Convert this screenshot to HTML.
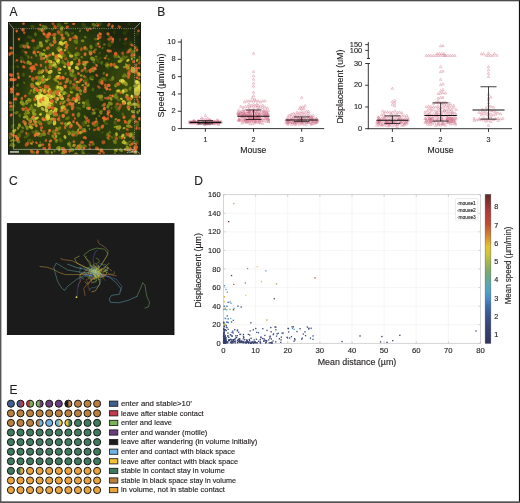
<!DOCTYPE html>
<html><head><meta charset="utf-8"><style>
html,body{margin:0;padding:0;background:#fff;}
svg{display:block;font-family:"Liberation Sans",sans-serif;will-change:transform;}
</style></head><body>
<svg width="520" height="503" viewBox="0 0 520 503">
<style>text{stroke:#231f20;stroke-width:0.14px;}</style>
<rect width="520" height="503" fill="#fff"/>
<defs><filter id="blurA" x="-5%" y="-5%" width="110%" height="110%"><feGaussianBlur stdDeviation="4"/></filter><filter id="blurA2"><feGaussianBlur stdDeviation="0.6"/></filter><filter id="blurA3"><feGaussianBlur stdDeviation="0.45"/></filter><clipPath id="clipA"><rect x="8" y="22" width="133" height="132.6"/></clipPath></defs>
<g clip-path="url(#clipA)">
<rect x="8" y="22" width="133" height="132.6" fill="#181c08"/>
<g filter="url(#blurA)">
<rect x="7.0" y="21.0" width="10.3" height="18.6" fill="rgb(26,35,8)"/>
<rect x="15.3" y="21.0" width="10.3" height="18.6" fill="rgb(27,37,8)"/>
<rect x="23.6" y="21.0" width="10.3" height="18.6" fill="rgb(31,42,8)"/>
<rect x="31.9" y="21.0" width="10.3" height="18.6" fill="rgb(34,48,8)"/>
<rect x="40.2" y="21.0" width="10.3" height="18.6" fill="rgb(37,51,8)"/>
<rect x="48.6" y="21.0" width="10.3" height="18.6" fill="rgb(38,53,8)"/>
<rect x="56.9" y="21.0" width="10.3" height="18.6" fill="rgb(38,53,8)"/>
<rect x="65.2" y="21.0" width="10.3" height="18.6" fill="rgb(37,51,8)"/>
<rect x="73.5" y="21.0" width="10.3" height="18.6" fill="rgb(36,50,8)"/>
<rect x="81.8" y="21.0" width="10.3" height="18.6" fill="rgb(34,48,8)"/>
<rect x="90.1" y="21.0" width="10.3" height="18.6" fill="rgb(34,48,8)"/>
<rect x="98.4" y="21.0" width="10.3" height="18.6" fill="rgb(33,45,8)"/>
<rect x="106.8" y="21.0" width="10.3" height="18.6" fill="rgb(29,40,8)"/>
<rect x="115.1" y="21.0" width="10.3" height="18.6" fill="rgb(28,38,8)"/>
<rect x="123.4" y="21.0" width="10.3" height="18.6" fill="rgb(28,38,8)"/>
<rect x="131.7" y="21.0" width="10.3" height="18.6" fill="rgb(27,37,8)"/>
<rect x="7.0" y="37.6" width="10.3" height="18.6" fill="rgb(27,37,8)"/>
<rect x="15.3" y="37.6" width="10.3" height="18.6" fill="rgb(29,40,8)"/>
<rect x="23.6" y="37.6" width="10.3" height="18.6" fill="rgb(36,50,8)"/>
<rect x="31.9" y="37.6" width="10.3" height="18.6" fill="rgb(43,58,9)"/>
<rect x="40.2" y="37.6" width="10.3" height="18.6" fill="rgb(49,66,9)"/>
<rect x="48.6" y="37.6" width="10.3" height="18.6" fill="rgb(53,69,10)"/>
<rect x="56.9" y="37.6" width="10.3" height="18.6" fill="rgb(56,73,10)"/>
<rect x="65.2" y="37.6" width="10.3" height="18.6" fill="rgb(53,69,10)"/>
<rect x="73.5" y="37.6" width="10.3" height="18.6" fill="rgb(49,66,9)"/>
<rect x="81.8" y="37.6" width="10.3" height="18.6" fill="rgb(46,62,9)"/>
<rect x="90.1" y="37.6" width="10.3" height="18.6" fill="rgb(42,57,9)"/>
<rect x="98.4" y="37.6" width="10.3" height="18.6" fill="rgb(37,51,8)"/>
<rect x="106.8" y="37.6" width="10.3" height="18.6" fill="rgb(32,44,8)"/>
<rect x="115.1" y="37.6" width="10.3" height="18.6" fill="rgb(31,42,8)"/>
<rect x="123.4" y="37.6" width="10.3" height="18.6" fill="rgb(33,45,8)"/>
<rect x="131.7" y="37.6" width="10.3" height="18.6" fill="rgb(31,42,8)"/>
<rect x="7.0" y="54.1" width="10.3" height="18.6" fill="rgb(29,40,8)"/>
<rect x="15.3" y="54.1" width="10.3" height="18.6" fill="rgb(33,45,8)"/>
<rect x="23.6" y="54.1" width="10.3" height="18.6" fill="rgb(43,58,9)"/>
<rect x="31.9" y="54.1" width="10.3" height="18.6" fill="rgb(46,62,9)"/>
<rect x="40.2" y="54.1" width="10.3" height="18.6" fill="rgb(56,73,10)"/>
<rect x="48.6" y="54.1" width="10.3" height="18.6" fill="rgb(59,76,11)"/>
<rect x="56.9" y="54.1" width="10.3" height="18.6" fill="rgb(56,73,10)"/>
<rect x="65.2" y="54.1" width="10.3" height="18.6" fill="rgb(53,69,10)"/>
<rect x="73.5" y="54.1" width="10.3" height="18.6" fill="rgb(49,66,9)"/>
<rect x="81.8" y="54.1" width="10.3" height="18.6" fill="rgb(46,62,9)"/>
<rect x="90.1" y="54.1" width="10.3" height="18.6" fill="rgb(38,53,8)"/>
<rect x="98.4" y="54.1" width="10.3" height="18.6" fill="rgb(37,51,8)"/>
<rect x="106.8" y="54.1" width="10.3" height="18.6" fill="rgb(44,60,9)"/>
<rect x="115.1" y="54.1" width="10.3" height="18.6" fill="rgb(49,66,9)"/>
<rect x="123.4" y="54.1" width="10.3" height="18.6" fill="rgb(53,69,10)"/>
<rect x="131.7" y="54.1" width="10.3" height="18.6" fill="rgb(49,66,9)"/>
<rect x="7.0" y="70.7" width="10.3" height="18.6" fill="rgb(29,40,8)"/>
<rect x="15.3" y="70.7" width="10.3" height="18.6" fill="rgb(33,45,8)"/>
<rect x="23.6" y="70.7" width="10.3" height="18.6" fill="rgb(43,58,9)"/>
<rect x="31.9" y="70.7" width="10.3" height="18.6" fill="rgb(49,66,9)"/>
<rect x="40.2" y="70.7" width="10.3" height="18.6" fill="rgb(56,73,10)"/>
<rect x="48.6" y="70.7" width="10.3" height="18.6" fill="rgb(56,73,10)"/>
<rect x="56.9" y="70.7" width="10.3" height="18.6" fill="rgb(53,69,10)"/>
<rect x="65.2" y="70.7" width="10.3" height="18.6" fill="rgb(49,66,9)"/>
<rect x="73.5" y="70.7" width="10.3" height="18.6" fill="rgb(46,62,9)"/>
<rect x="81.8" y="70.7" width="10.3" height="18.6" fill="rgb(42,57,9)"/>
<rect x="90.1" y="70.7" width="10.3" height="18.6" fill="rgb(37,51,8)"/>
<rect x="98.4" y="70.7" width="10.3" height="18.6" fill="rgb(37,51,8)"/>
<rect x="106.8" y="70.7" width="10.3" height="18.6" fill="rgb(48,64,9)"/>
<rect x="115.1" y="70.7" width="10.3" height="18.6" fill="rgb(53,69,10)"/>
<rect x="123.4" y="70.7" width="10.3" height="18.6" fill="rgb(59,76,11)"/>
<rect x="131.7" y="70.7" width="10.3" height="18.6" fill="rgb(56,73,10)"/>
<rect x="7.0" y="87.3" width="10.3" height="18.6" fill="rgb(29,40,8)"/>
<rect x="15.3" y="87.3" width="10.3" height="18.6" fill="rgb(36,50,8)"/>
<rect x="23.6" y="87.3" width="10.3" height="18.6" fill="rgb(53,69,10)"/>
<rect x="31.9" y="87.3" width="10.3" height="18.6" fill="rgb(66,84,12)"/>
<rect x="40.2" y="87.3" width="10.3" height="18.6" fill="rgb(81,98,15)"/>
<rect x="48.6" y="87.3" width="10.3" height="18.6" fill="rgb(77,94,14)"/>
<rect x="56.9" y="87.3" width="10.3" height="18.6" fill="rgb(59,76,11)"/>
<rect x="65.2" y="87.3" width="10.3" height="18.6" fill="rgb(53,69,10)"/>
<rect x="73.5" y="87.3" width="10.3" height="18.6" fill="rgb(49,66,9)"/>
<rect x="81.8" y="87.3" width="10.3" height="18.6" fill="rgb(44,60,9)"/>
<rect x="90.1" y="87.3" width="10.3" height="18.6" fill="rgb(40,55,8)"/>
<rect x="98.4" y="87.3" width="10.3" height="18.6" fill="rgb(40,55,8)"/>
<rect x="106.8" y="87.3" width="10.3" height="18.6" fill="rgb(44,60,9)"/>
<rect x="115.1" y="87.3" width="10.3" height="18.6" fill="rgb(53,69,10)"/>
<rect x="123.4" y="87.3" width="10.3" height="18.6" fill="rgb(63,80,11)"/>
<rect x="131.7" y="87.3" width="10.3" height="18.6" fill="rgb(59,76,11)"/>
<rect x="7.0" y="103.9" width="10.3" height="18.6" fill="rgb(33,45,8)"/>
<rect x="15.3" y="103.9" width="10.3" height="18.6" fill="rgb(40,55,8)"/>
<rect x="23.6" y="103.9" width="10.3" height="18.6" fill="rgb(53,69,10)"/>
<rect x="31.9" y="103.9" width="10.3" height="18.6" fill="rgb(63,80,11)"/>
<rect x="40.2" y="103.9" width="10.3" height="18.6" fill="rgb(70,87,12)"/>
<rect x="48.6" y="103.9" width="10.3" height="18.6" fill="rgb(59,76,11)"/>
<rect x="56.9" y="103.9" width="10.3" height="18.6" fill="rgb(53,69,10)"/>
<rect x="65.2" y="103.9" width="10.3" height="18.6" fill="rgb(49,66,9)"/>
<rect x="73.5" y="103.9" width="10.3" height="18.6" fill="rgb(44,60,9)"/>
<rect x="81.8" y="103.9" width="10.3" height="18.6" fill="rgb(40,55,8)"/>
<rect x="90.1" y="103.9" width="10.3" height="18.6" fill="rgb(37,51,8)"/>
<rect x="98.4" y="103.9" width="10.3" height="18.6" fill="rgb(37,51,8)"/>
<rect x="106.8" y="103.9" width="10.3" height="18.6" fill="rgb(40,55,8)"/>
<rect x="115.1" y="103.9" width="10.3" height="18.6" fill="rgb(44,60,9)"/>
<rect x="123.4" y="103.9" width="10.3" height="18.6" fill="rgb(49,66,9)"/>
<rect x="131.7" y="103.9" width="10.3" height="18.6" fill="rgb(46,62,9)"/>
<rect x="7.0" y="120.4" width="10.3" height="18.6" fill="rgb(43,58,9)"/>
<rect x="15.3" y="120.4" width="10.3" height="18.6" fill="rgb(42,57,9)"/>
<rect x="23.6" y="120.4" width="10.3" height="18.6" fill="rgb(46,62,9)"/>
<rect x="31.9" y="120.4" width="10.3" height="18.6" fill="rgb(46,62,9)"/>
<rect x="40.2" y="120.4" width="10.3" height="18.6" fill="rgb(49,66,9)"/>
<rect x="48.6" y="120.4" width="10.3" height="18.6" fill="rgb(53,69,10)"/>
<rect x="56.9" y="120.4" width="10.3" height="18.6" fill="rgb(53,69,10)"/>
<rect x="65.2" y="120.4" width="10.3" height="18.6" fill="rgb(53,69,10)"/>
<rect x="73.5" y="120.4" width="10.3" height="18.6" fill="rgb(48,64,9)"/>
<rect x="81.8" y="120.4" width="10.3" height="18.6" fill="rgb(40,55,8)"/>
<rect x="90.1" y="120.4" width="10.3" height="18.6" fill="rgb(40,55,8)"/>
<rect x="98.4" y="120.4" width="10.3" height="18.6" fill="rgb(42,57,9)"/>
<rect x="106.8" y="120.4" width="10.3" height="18.6" fill="rgb(44,60,9)"/>
<rect x="115.1" y="120.4" width="10.3" height="18.6" fill="rgb(48,64,9)"/>
<rect x="123.4" y="120.4" width="10.3" height="18.6" fill="rgb(48,64,9)"/>
<rect x="131.7" y="120.4" width="10.3" height="18.6" fill="rgb(44,60,9)"/>
<rect x="7.0" y="137.0" width="10.3" height="18.6" fill="rgb(36,50,8)"/>
<rect x="15.3" y="137.0" width="10.3" height="18.6" fill="rgb(38,53,8)"/>
<rect x="23.6" y="137.0" width="10.3" height="18.6" fill="rgb(42,57,9)"/>
<rect x="31.9" y="137.0" width="10.3" height="18.6" fill="rgb(42,57,9)"/>
<rect x="40.2" y="137.0" width="10.3" height="18.6" fill="rgb(44,60,9)"/>
<rect x="48.6" y="137.0" width="10.3" height="18.6" fill="rgb(44,60,9)"/>
<rect x="56.9" y="137.0" width="10.3" height="18.6" fill="rgb(44,60,9)"/>
<rect x="65.2" y="137.0" width="10.3" height="18.6" fill="rgb(44,60,9)"/>
<rect x="73.5" y="137.0" width="10.3" height="18.6" fill="rgb(44,60,9)"/>
<rect x="81.8" y="137.0" width="10.3" height="18.6" fill="rgb(38,53,8)"/>
<rect x="90.1" y="137.0" width="10.3" height="18.6" fill="rgb(37,51,8)"/>
<rect x="98.4" y="137.0" width="10.3" height="18.6" fill="rgb(40,55,8)"/>
<rect x="106.8" y="137.0" width="10.3" height="18.6" fill="rgb(44,60,9)"/>
<rect x="115.1" y="137.0" width="10.3" height="18.6" fill="rgb(48,64,9)"/>
<rect x="123.4" y="137.0" width="10.3" height="18.6" fill="rgb(44,60,9)"/>
<rect x="131.7" y="137.0" width="10.3" height="18.6" fill="rgb(37,51,8)"/>
</g>
<g filter="url(#blurA2)">
<ellipse cx="15.7" cy="89.3" rx="1.9" ry="1.4" fill="rgb(46,61,9)" opacity="0.78" transform="rotate(23 15.7 89.3)"/>
<ellipse cx="16.2" cy="99.6" rx="1.6" ry="1.1" fill="rgb(71,88,13)" opacity="0.78" transform="rotate(34 16.2 99.6)"/>
<ellipse cx="46.5" cy="41.1" rx="1.7" ry="1.2" fill="rgb(173,176,40)" opacity="0.78" transform="rotate(46 46.5 41.1)"/>
<ellipse cx="21.7" cy="97.7" rx="1.4" ry="1.0" fill="rgb(114,128,22)" opacity="0.78" transform="rotate(144 21.7 97.7)"/>
<ellipse cx="64.9" cy="63.7" rx="2.0" ry="1.4" fill="rgb(135,146,28)" opacity="0.78" transform="rotate(46 64.9 63.7)"/>
<ellipse cx="46.3" cy="152.0" rx="1.9" ry="1.3" fill="rgb(156,163,34)" opacity="0.78" transform="rotate(38 46.3 152.0)"/>
<ellipse cx="116.8" cy="67.1" rx="2.0" ry="1.4" fill="rgb(188,188,45)" opacity="0.78" transform="rotate(17 116.8 67.1)"/>
<ellipse cx="39.0" cy="86.3" rx="1.6" ry="1.2" fill="rgb(116,130,23)" opacity="0.78" transform="rotate(107 39.0 86.3)"/>
<ellipse cx="79.1" cy="102.9" rx="1.4" ry="1.0" fill="rgb(195,193,48)" opacity="0.78" transform="rotate(158 79.1 102.9)"/>
<ellipse cx="72.0" cy="75.1" rx="2.9" ry="2.0" fill="rgb(135,146,28)" opacity="0.78" transform="rotate(28 72.0 75.1)"/>
<ellipse cx="53.2" cy="29.0" rx="1.5" ry="1.0" fill="rgb(66,83,12)" opacity="0.78" transform="rotate(93 53.2 29.0)"/>
<ellipse cx="88.1" cy="84.9" rx="2.0" ry="1.4" fill="rgb(176,179,41)" opacity="0.78" transform="rotate(122 88.1 84.9)"/>
<ellipse cx="72.4" cy="33.4" rx="1.8" ry="1.2" fill="rgb(78,95,14)" opacity="0.78" transform="rotate(177 72.4 33.4)"/>
<ellipse cx="122.8" cy="114.3" rx="1.8" ry="1.3" fill="rgb(92,108,17)" opacity="0.78" transform="rotate(57 122.8 114.3)"/>
<ellipse cx="78.8" cy="125.3" rx="1.6" ry="1.1" fill="rgb(183,184,43)" opacity="0.78" transform="rotate(49 78.8 125.3)"/>
<ellipse cx="38.2" cy="90.6" rx="1.2" ry="0.9" fill="rgb(127,139,26)" opacity="0.78" transform="rotate(71 38.2 90.6)"/>
<ellipse cx="54.5" cy="151.2" rx="1.4" ry="1.0" fill="rgb(116,129,22)" opacity="0.78" transform="rotate(86 54.5 151.2)"/>
<ellipse cx="104.4" cy="44.5" rx="1.5" ry="1.0" fill="rgb(119,132,23)" opacity="0.78" transform="rotate(167 104.4 44.5)"/>
<ellipse cx="36.1" cy="55.4" rx="1.6" ry="1.1" fill="rgb(129,141,26)" opacity="0.78" transform="rotate(66 36.1 55.4)"/>
<ellipse cx="80.4" cy="132.6" rx="2.5" ry="1.7" fill="rgb(192,191,47)" opacity="0.78" transform="rotate(169 80.4 132.6)"/>
<ellipse cx="130.1" cy="88.5" rx="2.1" ry="1.5" fill="rgb(124,137,25)" opacity="0.78" transform="rotate(112 130.1 88.5)"/>
<ellipse cx="11.7" cy="140.5" rx="1.8" ry="1.2" fill="rgb(147,155,31)" opacity="0.78" transform="rotate(155 11.7 140.5)"/>
<ellipse cx="42.5" cy="96.2" rx="2.6" ry="1.8" fill="rgb(177,180,41)" opacity="0.78" transform="rotate(31 42.5 96.2)"/>
<ellipse cx="65.0" cy="50.2" rx="1.4" ry="1.0" fill="rgb(228,218,61)" opacity="0.78" transform="rotate(164 65.0 50.2)"/>
<ellipse cx="76.6" cy="67.0" rx="1.7" ry="1.2" fill="rgb(182,184,43)" opacity="0.78" transform="rotate(4 76.6 67.0)"/>
<ellipse cx="59.1" cy="90.6" rx="2.8" ry="2.0" fill="rgb(133,144,27)" opacity="0.78" transform="rotate(58 59.1 90.6)"/>
<ellipse cx="13.3" cy="125.3" rx="1.4" ry="1.0" fill="rgb(94,110,17)" opacity="0.78" transform="rotate(173 13.3 125.3)"/>
<ellipse cx="116.9" cy="56.3" rx="2.8" ry="1.9" fill="rgb(106,121,20)" opacity="0.78" transform="rotate(179 116.9 56.3)"/>
<ellipse cx="32.4" cy="140.7" rx="1.2" ry="0.9" fill="rgb(80,97,14)" opacity="0.78" transform="rotate(66 32.4 140.7)"/>
<ellipse cx="19.1" cy="135.5" rx="2.7" ry="1.9" fill="rgb(98,113,18)" opacity="0.78" transform="rotate(86 19.1 135.5)"/>
<ellipse cx="132.8" cy="150.5" rx="1.5" ry="1.1" fill="rgb(158,164,35)" opacity="0.78" transform="rotate(160 132.8 150.5)"/>
<ellipse cx="48.6" cy="122.7" rx="2.1" ry="1.4" fill="rgb(127,139,25)" opacity="0.78" transform="rotate(88 48.6 122.7)"/>
<ellipse cx="114.9" cy="153.9" rx="1.2" ry="0.9" fill="rgb(126,138,25)" opacity="0.78" transform="rotate(48 114.9 153.9)"/>
<ellipse cx="76.4" cy="54.6" rx="2.3" ry="1.6" fill="rgb(173,176,40)" opacity="0.78" transform="rotate(168 76.4 54.6)"/>
<ellipse cx="73.8" cy="132.7" rx="2.1" ry="1.4" fill="rgb(176,179,41)" opacity="0.78" transform="rotate(58 73.8 132.7)"/>
<ellipse cx="106.5" cy="55.9" rx="1.3" ry="0.9" fill="rgb(123,135,24)" opacity="0.78" transform="rotate(129 106.5 55.9)"/>
<ellipse cx="97.2" cy="59.4" rx="1.7" ry="1.2" fill="rgb(90,106,16)" opacity="0.78" transform="rotate(40 97.2 59.4)"/>
<ellipse cx="51.7" cy="152.6" rx="1.3" ry="0.9" fill="rgb(178,180,42)" opacity="0.78" transform="rotate(55 51.7 152.6)"/>
<ellipse cx="71.1" cy="88.7" rx="2.1" ry="1.4" fill="rgb(97,113,18)" opacity="0.78" transform="rotate(67 71.1 88.7)"/>
<ellipse cx="83.6" cy="129.8" rx="2.4" ry="1.7" fill="rgb(156,163,34)" opacity="0.78" transform="rotate(174 83.6 129.8)"/>
<ellipse cx="135.2" cy="107.2" rx="1.3" ry="0.9" fill="rgb(177,179,41)" opacity="0.78" transform="rotate(26 135.2 107.2)"/>
<ellipse cx="58.1" cy="81.9" rx="1.2" ry="0.9" fill="rgb(178,180,42)" opacity="0.78" transform="rotate(62 58.1 81.9)"/>
<ellipse cx="137.8" cy="87.5" rx="2.0" ry="1.4" fill="rgb(222,214,58)" opacity="0.78" transform="rotate(11 137.8 87.5)"/>
<ellipse cx="90.1" cy="107.2" rx="1.5" ry="1.0" fill="rgb(80,97,14)" opacity="0.78" transform="rotate(177 90.1 107.2)"/>
<ellipse cx="48.5" cy="97.3" rx="1.3" ry="0.9" fill="rgb(215,208,55)" opacity="0.78" transform="rotate(172 48.5 97.3)"/>
<ellipse cx="129.9" cy="145.4" rx="1.4" ry="0.9" fill="rgb(149,157,32)" opacity="0.78" transform="rotate(67 129.9 145.4)"/>
<ellipse cx="68.0" cy="62.0" rx="1.8" ry="1.2" fill="rgb(133,144,27)" opacity="0.78" transform="rotate(84 68.0 62.0)"/>
<ellipse cx="127.9" cy="60.4" rx="1.9" ry="1.3" fill="rgb(236,224,64)" opacity="0.78" transform="rotate(150 127.9 60.4)"/>
<ellipse cx="121.6" cy="59.2" rx="2.3" ry="1.6" fill="rgb(140,150,29)" opacity="0.78" transform="rotate(38 121.6 59.2)"/>
<ellipse cx="42.6" cy="109.0" rx="2.1" ry="1.5" fill="rgb(209,204,53)" opacity="0.78" transform="rotate(42 42.6 109.0)"/>
<ellipse cx="116.0" cy="95.0" rx="1.8" ry="1.2" fill="rgb(184,185,44)" opacity="0.78" transform="rotate(109 116.0 95.0)"/>
<ellipse cx="26.6" cy="47.5" rx="1.8" ry="1.2" fill="rgb(54,71,10)" opacity="0.78" transform="rotate(61 26.6 47.5)"/>
<ellipse cx="57.0" cy="129.3" rx="1.2" ry="0.9" fill="rgb(238,225,65)" opacity="0.78" transform="rotate(98 57.0 129.3)"/>
<ellipse cx="63.0" cy="91.5" rx="1.8" ry="1.2" fill="rgb(116,129,22)" opacity="0.78" transform="rotate(71 63.0 91.5)"/>
<ellipse cx="116.3" cy="150.4" rx="1.9" ry="1.3" fill="rgb(170,174,39)" opacity="0.78" transform="rotate(121 116.3 150.4)"/>
<ellipse cx="136.8" cy="87.0" rx="2.8" ry="1.9" fill="rgb(244,230,68)" opacity="0.78" transform="rotate(135 136.8 87.0)"/>
<ellipse cx="121.8" cy="150.9" rx="1.4" ry="1.0" fill="rgb(95,111,18)" opacity="0.78" transform="rotate(133 121.8 150.9)"/>
<ellipse cx="19.3" cy="125.0" rx="1.4" ry="1.0" fill="rgb(112,126,22)" opacity="0.78" transform="rotate(9 19.3 125.0)"/>
<ellipse cx="93.9" cy="62.3" rx="1.6" ry="1.1" fill="rgb(113,127,22)" opacity="0.78" transform="rotate(178 93.9 62.3)"/>
<ellipse cx="140.5" cy="58.9" rx="2.6" ry="1.8" fill="rgb(91,107,17)" opacity="0.78" transform="rotate(134 140.5 58.9)"/>
<ellipse cx="101.7" cy="62.8" rx="2.0" ry="1.4" fill="rgb(104,119,19)" opacity="0.78" transform="rotate(107 101.7 62.8)"/>
<ellipse cx="57.2" cy="87.4" rx="2.4" ry="1.7" fill="rgb(168,173,38)" opacity="0.78" transform="rotate(101 57.2 87.4)"/>
<ellipse cx="49.5" cy="130.7" rx="1.6" ry="1.1" fill="rgb(197,195,49)" opacity="0.78" transform="rotate(75 49.5 130.7)"/>
<ellipse cx="63.2" cy="116.1" rx="2.0" ry="1.4" fill="rgb(197,195,49)" opacity="0.78" transform="rotate(80 63.2 116.1)"/>
<ellipse cx="58.4" cy="71.6" rx="1.5" ry="1.0" fill="rgb(111,125,21)" opacity="0.78" transform="rotate(71 58.4 71.6)"/>
<ellipse cx="19.7" cy="115.5" rx="2.1" ry="1.5" fill="rgb(93,109,17)" opacity="0.78" transform="rotate(82 19.7 115.5)"/>
<ellipse cx="56.4" cy="140.9" rx="1.9" ry="1.3" fill="rgb(184,185,44)" opacity="0.78" transform="rotate(103 56.4 140.9)"/>
<ellipse cx="127.5" cy="67.0" rx="2.8" ry="2.0" fill="rgb(184,185,44)" opacity="0.78" transform="rotate(67 127.5 67.0)"/>
<ellipse cx="47.6" cy="117.7" rx="2.6" ry="1.8" fill="rgb(244,230,68)" opacity="0.78" transform="rotate(16 47.6 117.7)"/>
<ellipse cx="41.4" cy="79.0" rx="2.8" ry="1.9" fill="rgb(114,128,22)" opacity="0.78" transform="rotate(77 41.4 79.0)"/>
<ellipse cx="51.6" cy="64.4" rx="2.5" ry="1.8" fill="rgb(122,135,24)" opacity="0.78" transform="rotate(50 51.6 64.4)"/>
<ellipse cx="60.1" cy="43.2" rx="2.3" ry="1.6" fill="rgb(148,157,32)" opacity="0.78" transform="rotate(139 60.1 43.2)"/>
<ellipse cx="139.4" cy="57.1" rx="1.4" ry="1.0" fill="rgb(107,122,20)" opacity="0.78" transform="rotate(114 139.4 57.1)"/>
<ellipse cx="47.1" cy="59.0" rx="1.6" ry="1.1" fill="rgb(130,141,26)" opacity="0.78" transform="rotate(112 47.1 59.0)"/>
<ellipse cx="40.9" cy="54.5" rx="2.7" ry="1.9" fill="rgb(149,157,32)" opacity="0.78" transform="rotate(83 40.9 54.5)"/>
<ellipse cx="78.0" cy="108.1" rx="2.0" ry="1.4" fill="rgb(86,102,15)" opacity="0.78" transform="rotate(1 78.0 108.1)"/>
<ellipse cx="123.2" cy="81.6" rx="2.5" ry="1.8" fill="rgb(244,230,68)" opacity="0.78" transform="rotate(27 123.2 81.6)"/>
<ellipse cx="13.0" cy="67.1" rx="2.9" ry="2.0" fill="rgb(40,55,8)" opacity="0.78" transform="rotate(166 13.0 67.1)"/>
<ellipse cx="139.4" cy="110.6" rx="1.3" ry="0.9" fill="rgb(179,181,42)" opacity="0.78" transform="rotate(91 139.4 110.6)"/>
<ellipse cx="28.8" cy="37.1" rx="2.2" ry="1.5" fill="rgb(60,77,11)" opacity="0.78" transform="rotate(41 28.8 37.1)"/>
<ellipse cx="131.3" cy="119.8" rx="1.8" ry="1.3" fill="rgb(97,113,18)" opacity="0.78" transform="rotate(43 131.3 119.8)"/>
<ellipse cx="115.0" cy="150.2" rx="1.4" ry="1.0" fill="rgb(201,198,50)" opacity="0.78" transform="rotate(123 115.0 150.2)"/>
<ellipse cx="49.8" cy="102.6" rx="1.3" ry="0.9" fill="rgb(244,230,68)" opacity="0.78" transform="rotate(176 49.8 102.6)"/>
<ellipse cx="61.2" cy="90.7" rx="1.4" ry="1.0" fill="rgb(140,149,29)" opacity="0.78" transform="rotate(49 61.2 90.7)"/>
<ellipse cx="13.1" cy="133.1" rx="2.2" ry="1.6" fill="rgb(112,126,21)" opacity="0.78" transform="rotate(160 13.1 133.1)"/>
<ellipse cx="111.5" cy="108.1" rx="1.6" ry="1.1" fill="rgb(94,110,17)" opacity="0.78" transform="rotate(94 111.5 108.1)"/>
<ellipse cx="67.4" cy="80.1" rx="2.3" ry="1.6" fill="rgb(146,155,31)" opacity="0.78" transform="rotate(60 67.4 80.1)"/>
<ellipse cx="119.3" cy="129.5" rx="1.3" ry="0.9" fill="rgb(116,129,22)" opacity="0.78" transform="rotate(93 119.3 129.5)"/>
<ellipse cx="13.4" cy="106.4" rx="2.4" ry="1.7" fill="rgb(81,98,15)" opacity="0.78" transform="rotate(130 13.4 106.4)"/>
<ellipse cx="94.8" cy="126.0" rx="1.3" ry="0.9" fill="rgb(109,123,21)" opacity="0.78" transform="rotate(177 94.8 126.0)"/>
<ellipse cx="29.1" cy="140.9" rx="2.6" ry="1.8" fill="rgb(82,99,15)" opacity="0.78" transform="rotate(128 29.1 140.9)"/>
<ellipse cx="136.3" cy="85.7" rx="2.2" ry="1.6" fill="rgb(135,146,28)" opacity="0.78" transform="rotate(95 136.3 85.7)"/>
<ellipse cx="30.4" cy="126.1" rx="2.1" ry="1.5" fill="rgb(158,164,35)" opacity="0.78" transform="rotate(92 30.4 126.1)"/>
<ellipse cx="136.5" cy="82.1" rx="2.4" ry="1.7" fill="rgb(244,230,68)" opacity="0.78" transform="rotate(64 136.5 82.1)"/>
<ellipse cx="140.1" cy="105.5" rx="2.6" ry="1.8" fill="rgb(121,134,24)" opacity="0.78" transform="rotate(94 140.1 105.5)"/>
<ellipse cx="14.4" cy="130.7" rx="2.3" ry="1.6" fill="rgb(181,183,43)" opacity="0.78" transform="rotate(149 14.4 130.7)"/>
<ellipse cx="48.4" cy="91.4" rx="1.9" ry="1.3" fill="rgb(197,195,48)" opacity="0.78" transform="rotate(34 48.4 91.4)"/>
<ellipse cx="35.2" cy="104.7" rx="1.4" ry="1.0" fill="rgb(244,230,68)" opacity="0.78" transform="rotate(62 35.2 104.7)"/>
<ellipse cx="102.1" cy="81.8" rx="1.4" ry="1.0" fill="rgb(103,118,19)" opacity="0.78" transform="rotate(69 102.1 81.8)"/>
<ellipse cx="61.5" cy="57.0" rx="2.3" ry="1.6" fill="rgb(186,186,44)" opacity="0.78" transform="rotate(89 61.5 57.0)"/>
<ellipse cx="76.8" cy="87.4" rx="1.2" ry="0.8" fill="rgb(92,109,17)" opacity="0.78" transform="rotate(6 76.8 87.4)"/>
<ellipse cx="62.0" cy="53.5" rx="2.5" ry="1.8" fill="rgb(112,126,21)" opacity="0.78" transform="rotate(141 62.0 53.5)"/>
<ellipse cx="63.2" cy="103.3" rx="1.3" ry="0.9" fill="rgb(199,196,49)" opacity="0.78" transform="rotate(122 63.2 103.3)"/>
<ellipse cx="68.2" cy="52.0" rx="1.6" ry="1.1" fill="rgb(106,121,20)" opacity="0.78" transform="rotate(85 68.2 52.0)"/>
<ellipse cx="70.8" cy="92.4" rx="1.2" ry="0.9" fill="rgb(244,230,68)" opacity="0.78" transform="rotate(59 70.8 92.4)"/>
<ellipse cx="83.9" cy="62.8" rx="2.3" ry="1.6" fill="rgb(91,107,16)" opacity="0.78" transform="rotate(43 83.9 62.8)"/>
<ellipse cx="131.6" cy="67.7" rx="1.2" ry="0.9" fill="rgb(105,120,20)" opacity="0.78" transform="rotate(177 131.6 67.7)"/>
<ellipse cx="93.6" cy="27.7" rx="1.3" ry="0.9" fill="rgb(102,117,19)" opacity="0.78" transform="rotate(93 93.6 27.7)"/>
<ellipse cx="129.2" cy="121.9" rx="2.5" ry="1.7" fill="rgb(160,166,35)" opacity="0.78" transform="rotate(122 129.2 121.9)"/>
<ellipse cx="66.0" cy="124.5" rx="2.4" ry="1.7" fill="rgb(162,168,36)" opacity="0.78" transform="rotate(55 66.0 124.5)"/>
<ellipse cx="46.2" cy="79.8" rx="1.7" ry="1.2" fill="rgb(229,219,61)" opacity="0.78" transform="rotate(13 46.2 79.8)"/>
<ellipse cx="54.2" cy="132.3" rx="2.8" ry="2.0" fill="rgb(121,134,24)" opacity="0.78" transform="rotate(54 54.2 132.3)"/>
<ellipse cx="132.8" cy="52.7" rx="2.8" ry="2.0" fill="rgb(117,130,23)" opacity="0.78" transform="rotate(125 132.8 52.7)"/>
<ellipse cx="60.5" cy="140.1" rx="2.7" ry="1.9" fill="rgb(89,105,16)" opacity="0.78" transform="rotate(52 60.5 140.1)"/>
<ellipse cx="48.3" cy="78.8" rx="1.5" ry="1.0" fill="rgb(244,230,68)" opacity="0.78" transform="rotate(161 48.3 78.8)"/>
<ellipse cx="39.1" cy="83.1" rx="2.5" ry="1.7" fill="rgb(219,212,57)" opacity="0.78" transform="rotate(165 39.1 83.1)"/>
<ellipse cx="123.4" cy="81.7" rx="1.7" ry="1.2" fill="rgb(163,169,37)" opacity="0.78" transform="rotate(176 123.4 81.7)"/>
<ellipse cx="110.9" cy="98.8" rx="2.0" ry="1.4" fill="rgb(170,174,39)" opacity="0.78" transform="rotate(60 110.9 98.8)"/>
<ellipse cx="29.9" cy="109.2" rx="1.5" ry="1.0" fill="rgb(115,129,22)" opacity="0.78" transform="rotate(77 29.9 109.2)"/>
<ellipse cx="105.5" cy="79.7" rx="2.3" ry="1.6" fill="rgb(70,87,12)" opacity="0.78" transform="rotate(52 105.5 79.7)"/>
<ellipse cx="125.7" cy="83.5" rx="2.7" ry="1.9" fill="rgb(168,172,38)" opacity="0.78" transform="rotate(56 125.7 83.5)"/>
<ellipse cx="26.9" cy="102.1" rx="2.5" ry="1.7" fill="rgb(218,211,57)" opacity="0.78" transform="rotate(110 26.9 102.1)"/>
<ellipse cx="38.4" cy="46.1" rx="1.9" ry="1.4" fill="rgb(92,108,17)" opacity="0.78" transform="rotate(179 38.4 46.1)"/>
<ellipse cx="102.8" cy="105.5" rx="1.9" ry="1.3" fill="rgb(89,105,16)" opacity="0.78" transform="rotate(159 102.8 105.5)"/>
<ellipse cx="124.1" cy="140.6" rx="1.2" ry="0.9" fill="rgb(187,187,45)" opacity="0.78" transform="rotate(27 124.1 140.6)"/>
<ellipse cx="118.3" cy="91.2" rx="2.8" ry="2.0" fill="rgb(111,125,21)" opacity="0.78" transform="rotate(175 118.3 91.2)"/>
<ellipse cx="41.6" cy="72.6" rx="1.3" ry="0.9" fill="rgb(244,230,68)" opacity="0.78" transform="rotate(160 41.6 72.6)"/>
<ellipse cx="60.1" cy="50.1" rx="2.5" ry="1.8" fill="rgb(242,228,67)" opacity="0.78" transform="rotate(162 60.1 50.1)"/>
<ellipse cx="118.5" cy="127.5" rx="2.9" ry="2.0" fill="rgb(172,176,40)" opacity="0.78" transform="rotate(166 118.5 127.5)"/>
<ellipse cx="41.7" cy="78.5" rx="1.2" ry="0.8" fill="rgb(203,200,51)" opacity="0.78" transform="rotate(71 41.7 78.5)"/>
<ellipse cx="55.6" cy="108.8" rx="2.0" ry="1.4" fill="rgb(230,220,62)" opacity="0.78" transform="rotate(21 55.6 108.8)"/>
<ellipse cx="128.5" cy="126.0" rx="2.6" ry="1.8" fill="rgb(159,166,35)" opacity="0.78" transform="rotate(3 128.5 126.0)"/>
<ellipse cx="95.4" cy="49.8" rx="1.7" ry="1.2" fill="rgb(117,130,23)" opacity="0.78" transform="rotate(148 95.4 49.8)"/>
<ellipse cx="34.3" cy="113.9" rx="2.5" ry="1.7" fill="rgb(173,177,40)" opacity="0.78" transform="rotate(29 34.3 113.9)"/>
<ellipse cx="81.8" cy="57.1" rx="1.4" ry="1.0" fill="rgb(136,146,28)" opacity="0.78" transform="rotate(14 81.8 57.1)"/>
<ellipse cx="94.0" cy="24.7" rx="2.5" ry="1.7" fill="rgb(116,129,22)" opacity="0.78" transform="rotate(24 94.0 24.7)"/>
<ellipse cx="53.0" cy="136.3" rx="2.0" ry="1.4" fill="rgb(146,154,31)" opacity="0.78" transform="rotate(53 53.0 136.3)"/>
<ellipse cx="45.8" cy="67.3" rx="1.3" ry="0.9" fill="rgb(138,148,29)" opacity="0.78" transform="rotate(90 45.8 67.3)"/>
<ellipse cx="50.2" cy="61.7" rx="2.3" ry="1.6" fill="rgb(244,230,68)" opacity="0.78" transform="rotate(10 50.2 61.7)"/>
<ellipse cx="61.1" cy="95.5" rx="2.2" ry="1.5" fill="rgb(174,177,40)" opacity="0.78" transform="rotate(27 61.1 95.5)"/>
<ellipse cx="129.0" cy="103.1" rx="2.3" ry="1.6" fill="rgb(223,215,59)" opacity="0.78" transform="rotate(152 129.0 103.1)"/>
<ellipse cx="124.6" cy="33.0" rx="2.3" ry="1.6" fill="rgb(50,67,10)" opacity="0.78" transform="rotate(44 124.6 33.0)"/>
<ellipse cx="21.5" cy="46.0" rx="2.5" ry="1.8" fill="rgb(73,90,13)" opacity="0.78" transform="rotate(167 21.5 46.0)"/>
<ellipse cx="9.8" cy="137.6" rx="1.7" ry="1.2" fill="rgb(121,134,24)" opacity="0.78" transform="rotate(77 9.8 137.6)"/>
<ellipse cx="32.6" cy="26.5" rx="2.2" ry="1.5" fill="rgb(69,86,12)" opacity="0.78" transform="rotate(13 32.6 26.5)"/>
<ellipse cx="91.4" cy="78.6" rx="2.3" ry="1.6" fill="rgb(158,164,35)" opacity="0.78" transform="rotate(22 91.4 78.6)"/>
<ellipse cx="44.6" cy="97.4" rx="2.5" ry="1.7" fill="rgb(244,230,68)" opacity="0.78" transform="rotate(93 44.6 97.4)"/>
<ellipse cx="27.3" cy="127.7" rx="2.3" ry="1.6" fill="rgb(146,155,31)" opacity="0.78" transform="rotate(106 27.3 127.7)"/>
<ellipse cx="71.4" cy="125.2" rx="1.7" ry="1.2" fill="rgb(199,197,49)" opacity="0.78" transform="rotate(85 71.4 125.2)"/>
<ellipse cx="39.1" cy="102.5" rx="2.0" ry="1.4" fill="rgb(166,171,37)" opacity="0.78" transform="rotate(65 39.1 102.5)"/>
<ellipse cx="79.9" cy="93.1" rx="1.3" ry="0.9" fill="rgb(122,135,24)" opacity="0.78" transform="rotate(133 79.9 93.1)"/>
<ellipse cx="71.4" cy="100.1" rx="1.5" ry="1.1" fill="rgb(110,124,21)" opacity="0.78" transform="rotate(179 71.4 100.1)"/>
<ellipse cx="46.5" cy="98.6" rx="2.5" ry="1.8" fill="rgb(244,230,68)" opacity="0.78" transform="rotate(63 46.5 98.6)"/>
<ellipse cx="28.8" cy="101.2" rx="2.1" ry="1.5" fill="rgb(103,118,19)" opacity="0.78" transform="rotate(8 28.8 101.2)"/>
<ellipse cx="86.9" cy="102.7" rx="2.6" ry="1.8" fill="rgb(96,111,18)" opacity="0.78" transform="rotate(46 86.9 102.7)"/>
<ellipse cx="58.3" cy="25.6" rx="1.8" ry="1.3" fill="rgb(112,126,22)" opacity="0.78" transform="rotate(124 58.3 25.6)"/>
<ellipse cx="134.0" cy="142.7" rx="2.2" ry="1.6" fill="rgb(93,109,17)" opacity="0.78" transform="rotate(30 134.0 142.7)"/>
<ellipse cx="15.9" cy="95.3" rx="2.8" ry="1.9" fill="rgb(52,69,10)" opacity="0.78" transform="rotate(131 15.9 95.3)"/>
<ellipse cx="132.9" cy="111.8" rx="2.2" ry="1.5" fill="rgb(185,186,44)" opacity="0.78" transform="rotate(26 132.9 111.8)"/>
<ellipse cx="70.6" cy="71.3" rx="1.8" ry="1.3" fill="rgb(132,143,27)" opacity="0.78" transform="rotate(112 70.6 71.3)"/>
<ellipse cx="12.8" cy="145.0" rx="2.8" ry="2.0" fill="rgb(120,133,24)" opacity="0.78" transform="rotate(35 12.8 145.0)"/>
<ellipse cx="59.2" cy="24.9" rx="2.9" ry="2.0" fill="rgb(78,95,14)" opacity="0.78" transform="rotate(59 59.2 24.9)"/>
<ellipse cx="71.5" cy="105.3" rx="1.6" ry="1.1" fill="rgb(98,113,18)" opacity="0.78" transform="rotate(115 71.5 105.3)"/>
<ellipse cx="43.4" cy="76.6" rx="1.7" ry="1.2" fill="rgb(240,227,66)" opacity="0.78" transform="rotate(85 43.4 76.6)"/>
<ellipse cx="115.0" cy="56.6" rx="2.0" ry="1.4" fill="rgb(96,112,18)" opacity="0.78" transform="rotate(39 115.0 56.6)"/>
<ellipse cx="46.1" cy="56.2" rx="1.8" ry="1.3" fill="rgb(244,230,68)" opacity="0.78" transform="rotate(61 46.1 56.2)"/>
<ellipse cx="47.0" cy="151.8" rx="2.6" ry="1.8" fill="rgb(102,117,19)" opacity="0.78" transform="rotate(35 47.0 151.8)"/>
<ellipse cx="46.1" cy="69.7" rx="1.9" ry="1.3" fill="rgb(137,147,28)" opacity="0.78" transform="rotate(46 46.1 69.7)"/>
<ellipse cx="102.6" cy="48.1" rx="1.3" ry="0.9" fill="rgb(98,114,18)" opacity="0.78" transform="rotate(126 102.6 48.1)"/>
<ellipse cx="109.3" cy="45.2" rx="2.3" ry="1.6" fill="rgb(76,93,13)" opacity="0.78" transform="rotate(49 109.3 45.2)"/>
<ellipse cx="85.5" cy="48.8" rx="2.4" ry="1.7" fill="rgb(118,132,23)" opacity="0.78" transform="rotate(14 85.5 48.8)"/>
<ellipse cx="77.0" cy="68.1" rx="2.3" ry="1.6" fill="rgb(228,218,61)" opacity="0.78" transform="rotate(23 77.0 68.1)"/>
<ellipse cx="124.0" cy="57.3" rx="2.6" ry="1.8" fill="rgb(100,115,19)" opacity="0.78" transform="rotate(41 124.0 57.3)"/>
<ellipse cx="25.9" cy="54.3" rx="2.3" ry="1.6" fill="rgb(62,79,11)" opacity="0.78" transform="rotate(79 25.9 54.3)"/>
<ellipse cx="41.3" cy="130.4" rx="1.4" ry="1.0" fill="rgb(167,171,38)" opacity="0.78" transform="rotate(49 41.3 130.4)"/>
<ellipse cx="69.7" cy="53.6" rx="1.8" ry="1.3" fill="rgb(107,122,20)" opacity="0.78" transform="rotate(45 69.7 53.6)"/>
<ellipse cx="74.6" cy="59.1" rx="1.9" ry="1.3" fill="rgb(105,120,20)" opacity="0.78" transform="rotate(151 74.6 59.1)"/>
<ellipse cx="87.4" cy="101.9" rx="2.8" ry="2.0" fill="rgb(77,94,14)" opacity="0.78" transform="rotate(92 87.4 101.9)"/>
<ellipse cx="53.0" cy="53.9" rx="1.9" ry="1.4" fill="rgb(244,230,68)" opacity="0.78" transform="rotate(82 53.0 53.9)"/>
<ellipse cx="116.4" cy="134.4" rx="2.1" ry="1.5" fill="rgb(209,204,53)" opacity="0.78" transform="rotate(90 116.4 134.4)"/>
<ellipse cx="56.5" cy="92.4" rx="1.9" ry="1.4" fill="rgb(225,216,60)" opacity="0.78" transform="rotate(5 56.5 92.4)"/>
<ellipse cx="38.0" cy="77.8" rx="2.9" ry="2.0" fill="rgb(137,147,28)" opacity="0.78" transform="rotate(11 38.0 77.8)"/>
<ellipse cx="130.9" cy="104.4" rx="2.1" ry="1.5" fill="rgb(158,165,35)" opacity="0.78" transform="rotate(10 130.9 104.4)"/>
<ellipse cx="76.3" cy="57.6" rx="2.1" ry="1.5" fill="rgb(104,119,19)" opacity="0.78" transform="rotate(31 76.3 57.6)"/>
<ellipse cx="51.1" cy="65.2" rx="2.7" ry="1.9" fill="rgb(135,146,28)" opacity="0.78" transform="rotate(14 51.1 65.2)"/>
<ellipse cx="110.7" cy="43.0" rx="2.7" ry="1.9" fill="rgb(59,76,11)" opacity="0.78" transform="rotate(15 110.7 43.0)"/>
<ellipse cx="76.8" cy="132.6" rx="2.5" ry="1.7" fill="rgb(141,150,29)" opacity="0.78" transform="rotate(173 76.8 132.6)"/>
<ellipse cx="54.9" cy="111.6" rx="2.6" ry="1.9" fill="rgb(244,230,68)" opacity="0.78" transform="rotate(132 54.9 111.6)"/>
<ellipse cx="27.9" cy="134.7" rx="2.3" ry="1.6" fill="rgb(84,101,15)" opacity="0.78" transform="rotate(115 27.9 134.7)"/>
<ellipse cx="54.9" cy="91.8" rx="2.3" ry="1.6" fill="rgb(147,155,31)" opacity="0.78" transform="rotate(127 54.9 91.8)"/>
<ellipse cx="58.6" cy="61.8" rx="2.6" ry="1.8" fill="rgb(166,171,37)" opacity="0.78" transform="rotate(96 58.6 61.8)"/>
<ellipse cx="129.1" cy="23.4" rx="2.2" ry="1.5" fill="rgb(43,58,9)" opacity="0.78" transform="rotate(137 129.1 23.4)"/>
<ellipse cx="59.8" cy="69.4" rx="1.8" ry="1.3" fill="rgb(244,230,68)" opacity="0.78" transform="rotate(173 59.8 69.4)"/>
<ellipse cx="16.0" cy="96.9" rx="2.2" ry="1.5" fill="rgb(72,89,13)" opacity="0.78" transform="rotate(10 16.0 96.9)"/>
<ellipse cx="100.0" cy="23.4" rx="2.4" ry="1.7" fill="rgb(73,90,13)" opacity="0.78" transform="rotate(77 100.0 23.4)"/>
<ellipse cx="60.9" cy="35.1" rx="1.3" ry="0.9" fill="rgb(84,100,15)" opacity="0.78" transform="rotate(141 60.9 35.1)"/>
<ellipse cx="76.4" cy="41.1" rx="2.2" ry="1.6" fill="rgb(88,105,16)" opacity="0.78" transform="rotate(132 76.4 41.1)"/>
<ellipse cx="109.0" cy="36.1" rx="1.5" ry="1.0" fill="rgb(61,79,11)" opacity="0.78" transform="rotate(119 109.0 36.1)"/>
<ellipse cx="89.5" cy="129.0" rx="1.2" ry="0.9" fill="rgb(131,142,27)" opacity="0.78" transform="rotate(82 89.5 129.0)"/>
<ellipse cx="60.7" cy="123.3" rx="1.3" ry="0.9" fill="rgb(121,134,24)" opacity="0.78" transform="rotate(57 60.7 123.3)"/>
<ellipse cx="48.4" cy="101.9" rx="2.0" ry="1.4" fill="rgb(244,230,68)" opacity="0.78" transform="rotate(62 48.4 101.9)"/>
<ellipse cx="11.0" cy="137.1" rx="1.5" ry="1.0" fill="rgb(88,104,16)" opacity="0.78" transform="rotate(1 11.0 137.1)"/>
<ellipse cx="61.6" cy="30.7" rx="2.6" ry="1.8" fill="rgb(81,98,15)" opacity="0.78" transform="rotate(62 61.6 30.7)"/>
<ellipse cx="59.5" cy="83.9" rx="1.9" ry="1.4" fill="rgb(137,147,28)" opacity="0.78" transform="rotate(6 59.5 83.9)"/>
<ellipse cx="38.2" cy="82.0" rx="2.4" ry="1.7" fill="rgb(122,134,24)" opacity="0.78" transform="rotate(112 38.2 82.0)"/>
<ellipse cx="86.1" cy="70.8" rx="2.2" ry="1.6" fill="rgb(91,107,17)" opacity="0.78" transform="rotate(31 86.1 70.8)"/>
<ellipse cx="105.9" cy="123.4" rx="2.4" ry="1.7" fill="rgb(75,92,13)" opacity="0.78" transform="rotate(3 105.9 123.4)"/>
<ellipse cx="59.9" cy="33.4" rx="2.6" ry="1.9" fill="rgb(88,105,16)" opacity="0.78" transform="rotate(169 59.9 33.4)"/>
<ellipse cx="115.1" cy="122.6" rx="2.4" ry="1.7" fill="rgb(82,98,15)" opacity="0.78" transform="rotate(73 115.1 122.6)"/>
<ellipse cx="24.8" cy="117.0" rx="1.9" ry="1.3" fill="rgb(195,193,48)" opacity="0.78" transform="rotate(160 24.8 117.0)"/>
<ellipse cx="125.4" cy="136.2" rx="1.7" ry="1.2" fill="rgb(88,105,16)" opacity="0.78" transform="rotate(173 125.4 136.2)"/>
<ellipse cx="61.8" cy="102.7" rx="2.5" ry="1.7" fill="rgb(125,138,25)" opacity="0.78" transform="rotate(10 61.8 102.7)"/>
<ellipse cx="84.5" cy="146.1" rx="2.5" ry="1.7" fill="rgb(117,130,23)" opacity="0.78" transform="rotate(10 84.5 146.1)"/>
<ellipse cx="137.6" cy="112.3" rx="1.7" ry="1.2" fill="rgb(176,179,41)" opacity="0.78" transform="rotate(88 137.6 112.3)"/>
<ellipse cx="25.0" cy="123.0" rx="2.4" ry="1.7" fill="rgb(171,174,39)" opacity="0.78" transform="rotate(66 25.0 123.0)"/>
<ellipse cx="30.4" cy="68.0" rx="2.3" ry="1.6" fill="rgb(84,100,15)" opacity="0.78" transform="rotate(175 30.4 68.0)"/>
<ellipse cx="102.0" cy="110.9" rx="1.6" ry="1.1" fill="rgb(90,106,16)" opacity="0.78" transform="rotate(113 102.0 110.9)"/>
<ellipse cx="40.0" cy="105.5" rx="1.9" ry="1.3" fill="rgb(244,230,68)" opacity="0.78" transform="rotate(173 40.0 105.5)"/>
<ellipse cx="109.9" cy="132.2" rx="1.7" ry="1.2" fill="rgb(101,116,19)" opacity="0.78" transform="rotate(52 109.9 132.2)"/>
<ellipse cx="46.5" cy="95.9" rx="2.0" ry="1.4" fill="rgb(244,230,68)" opacity="0.78" transform="rotate(124 46.5 95.9)"/>
<ellipse cx="65.8" cy="47.2" rx="1.2" ry="0.8" fill="rgb(244,230,68)" opacity="0.78" transform="rotate(164 65.8 47.2)"/>
<ellipse cx="46.0" cy="103.3" rx="2.4" ry="1.7" fill="rgb(244,230,68)" opacity="0.78" transform="rotate(20 46.0 103.3)"/>
<ellipse cx="119.7" cy="61.3" rx="2.3" ry="1.6" fill="rgb(187,187,45)" opacity="0.78" transform="rotate(174 119.7 61.3)"/>
<ellipse cx="106.7" cy="65.3" rx="2.6" ry="1.8" fill="rgb(84,100,15)" opacity="0.78" transform="rotate(94 106.7 65.3)"/>
<ellipse cx="41.7" cy="29.7" rx="2.6" ry="1.8" fill="rgb(120,133,24)" opacity="0.78" transform="rotate(180 41.7 29.7)"/>
<ellipse cx="61.6" cy="28.7" rx="1.9" ry="1.3" fill="rgb(115,129,22)" opacity="0.78" transform="rotate(76 61.6 28.7)"/>
<ellipse cx="88.1" cy="105.1" rx="1.6" ry="1.1" fill="rgb(77,94,14)" opacity="0.78" transform="rotate(163 88.1 105.1)"/>
<ellipse cx="137.0" cy="33.9" rx="1.9" ry="1.4" fill="rgb(37,51,8)" opacity="0.78" transform="rotate(95 137.0 33.9)"/>
<ellipse cx="112.7" cy="78.4" rx="2.3" ry="1.6" fill="rgb(139,149,29)" opacity="0.78" transform="rotate(107 112.7 78.4)"/>
<ellipse cx="126.5" cy="30.3" rx="2.8" ry="2.0" fill="rgb(37,51,8)" opacity="0.78" transform="rotate(42 126.5 30.3)"/>
<ellipse cx="80.2" cy="90.5" rx="2.1" ry="1.5" fill="rgb(152,160,33)" opacity="0.78" transform="rotate(39 80.2 90.5)"/>
<ellipse cx="134.7" cy="85.7" rx="1.7" ry="1.2" fill="rgb(153,161,33)" opacity="0.78" transform="rotate(162 134.7 85.7)"/>
<ellipse cx="57.5" cy="99.0" rx="2.1" ry="1.5" fill="rgb(242,229,67)" opacity="0.78" transform="rotate(101 57.5 99.0)"/>
<ellipse cx="35.0" cy="121.4" rx="2.6" ry="1.8" fill="rgb(188,188,45)" opacity="0.78" transform="rotate(48 35.0 121.4)"/>
<ellipse cx="18.7" cy="76.1" rx="1.9" ry="1.4" fill="rgb(85,102,15)" opacity="0.78" transform="rotate(140 18.7 76.1)"/>
<ellipse cx="61.8" cy="28.3" rx="2.4" ry="1.7" fill="rgb(143,152,30)" opacity="0.78" transform="rotate(117 61.8 28.3)"/>
<ellipse cx="47.9" cy="115.8" rx="2.7" ry="1.9" fill="rgb(242,228,67)" opacity="0.78" transform="rotate(51 47.9 115.8)"/>
<ellipse cx="30.3" cy="120.8" rx="2.5" ry="1.7" fill="rgb(181,182,43)" opacity="0.78" transform="rotate(65 30.3 120.8)"/>
<ellipse cx="134.1" cy="117.7" rx="2.2" ry="1.6" fill="rgb(90,106,16)" opacity="0.78" transform="rotate(140 134.1 117.7)"/>
<ellipse cx="51.5" cy="102.0" rx="2.7" ry="1.9" fill="rgb(188,188,45)" opacity="0.78" transform="rotate(90 51.5 102.0)"/>
<ellipse cx="85.3" cy="37.1" rx="1.4" ry="1.0" fill="rgb(131,142,27)" opacity="0.78" transform="rotate(47 85.3 37.1)"/>
<ellipse cx="43.7" cy="80.9" rx="2.9" ry="2.0" fill="rgb(170,174,39)" opacity="0.78" transform="rotate(123 43.7 80.9)"/>
<ellipse cx="124.1" cy="128.1" rx="1.5" ry="1.1" fill="rgb(192,191,47)" opacity="0.78" transform="rotate(173 124.1 128.1)"/>
<ellipse cx="100.2" cy="81.5" rx="2.8" ry="2.0" fill="rgb(89,105,16)" opacity="0.78" transform="rotate(92 100.2 81.5)"/>
<ellipse cx="86.4" cy="27.8" rx="1.8" ry="1.3" fill="rgb(72,89,13)" opacity="0.78" transform="rotate(147 86.4 27.8)"/>
<ellipse cx="70.3" cy="146.3" rx="1.8" ry="1.2" fill="rgb(117,131,23)" opacity="0.78" transform="rotate(58 70.3 146.3)"/>
<ellipse cx="44.3" cy="58.2" rx="1.6" ry="1.2" fill="rgb(170,174,39)" opacity="0.78" transform="rotate(135 44.3 58.2)"/>
<ellipse cx="129.7" cy="141.7" rx="1.5" ry="1.1" fill="rgb(111,125,21)" opacity="0.78" transform="rotate(146 129.7 141.7)"/>
<ellipse cx="92.4" cy="70.1" rx="2.6" ry="1.8" fill="rgb(145,154,31)" opacity="0.78" transform="rotate(36 92.4 70.1)"/>
<ellipse cx="54.6" cy="95.0" rx="1.3" ry="0.9" fill="rgb(210,205,54)" opacity="0.78" transform="rotate(82 54.6 95.0)"/>
<ellipse cx="27.1" cy="117.5" rx="2.2" ry="1.5" fill="rgb(166,171,38)" opacity="0.78" transform="rotate(87 27.1 117.5)"/>
<ellipse cx="85.8" cy="62.3" rx="2.0" ry="1.4" fill="rgb(214,208,55)" opacity="0.78" transform="rotate(176 85.8 62.3)"/>
<ellipse cx="65.0" cy="137.1" rx="2.0" ry="1.4" fill="rgb(216,209,56)" opacity="0.78" transform="rotate(70 65.0 137.1)"/>
<ellipse cx="91.3" cy="53.4" rx="1.3" ry="0.9" fill="rgb(108,123,20)" opacity="0.78" transform="rotate(154 91.3 53.4)"/>
<ellipse cx="45.6" cy="88.6" rx="1.6" ry="1.1" fill="rgb(149,157,32)" opacity="0.78" transform="rotate(33 45.6 88.6)"/>
<ellipse cx="124.4" cy="67.2" rx="1.5" ry="1.1" fill="rgb(162,168,36)" opacity="0.78" transform="rotate(3 124.4 67.2)"/>
<ellipse cx="93.1" cy="144.4" rx="1.8" ry="1.2" fill="rgb(114,128,22)" opacity="0.78" transform="rotate(166 93.1 144.4)"/>
<ellipse cx="102.4" cy="132.7" rx="1.2" ry="0.9" fill="rgb(80,97,14)" opacity="0.78" transform="rotate(135 102.4 132.7)"/>
<ellipse cx="64.3" cy="93.4" rx="2.1" ry="1.5" fill="rgb(209,204,53)" opacity="0.78" transform="rotate(154 64.3 93.4)"/>
<ellipse cx="116.2" cy="85.3" rx="2.3" ry="1.6" fill="rgb(171,175,39)" opacity="0.78" transform="rotate(140 116.2 85.3)"/>
<ellipse cx="138.0" cy="82.1" rx="2.1" ry="1.5" fill="rgb(244,230,68)" opacity="0.78" transform="rotate(33 138.0 82.1)"/>
<ellipse cx="41.6" cy="96.0" rx="2.6" ry="1.8" fill="rgb(244,230,68)" opacity="0.78" transform="rotate(38 41.6 96.0)"/>
<ellipse cx="130.6" cy="43.5" rx="2.5" ry="1.8" fill="rgb(49,66,9)" opacity="0.78" transform="rotate(127 130.6 43.5)"/>
<ellipse cx="11.5" cy="109.5" rx="2.6" ry="1.8" fill="rgb(89,105,16)" opacity="0.78" transform="rotate(172 11.5 109.5)"/>
<ellipse cx="91.4" cy="51.7" rx="1.6" ry="1.2" fill="rgb(107,122,20)" opacity="0.78" transform="rotate(59 91.4 51.7)"/>
<ellipse cx="55.1" cy="65.2" rx="1.7" ry="1.2" fill="rgb(244,230,68)" opacity="0.78" transform="rotate(127 55.1 65.2)"/>
<ellipse cx="36.8" cy="97.5" rx="2.7" ry="1.9" fill="rgb(244,230,68)" opacity="0.78" transform="rotate(68 36.8 97.5)"/>
<ellipse cx="135.3" cy="50.1" rx="2.5" ry="1.8" fill="rgb(102,117,19)" opacity="0.78" transform="rotate(92 135.3 50.1)"/>
<ellipse cx="99.1" cy="128.7" rx="2.8" ry="1.9" fill="rgb(74,91,13)" opacity="0.78" transform="rotate(77 99.1 128.7)"/>
<ellipse cx="28.1" cy="119.6" rx="1.5" ry="1.0" fill="rgb(173,177,40)" opacity="0.78" transform="rotate(23 28.1 119.6)"/>
<ellipse cx="14.4" cy="140.5" rx="1.4" ry="1.0" fill="rgb(147,155,31)" opacity="0.78" transform="rotate(34 14.4 140.5)"/>
<ellipse cx="121.5" cy="150.9" rx="1.3" ry="0.9" fill="rgb(167,172,38)" opacity="0.78" transform="rotate(3 121.5 150.9)"/>
<ellipse cx="43.2" cy="31.1" rx="2.1" ry="1.4" fill="rgb(78,95,14)" opacity="0.78" transform="rotate(142 43.2 31.1)"/>
<ellipse cx="134.6" cy="57.4" rx="1.3" ry="0.9" fill="rgb(107,122,20)" opacity="0.78" transform="rotate(72 134.6 57.4)"/>
<ellipse cx="124.3" cy="117.2" rx="1.7" ry="1.2" fill="rgb(121,134,24)" opacity="0.78" transform="rotate(38 124.3 117.2)"/>
<ellipse cx="59.5" cy="73.1" rx="1.4" ry="1.0" fill="rgb(244,230,68)" opacity="0.78" transform="rotate(1 59.5 73.1)"/>
<ellipse cx="117.8" cy="110.0" rx="2.3" ry="1.6" fill="rgb(81,98,14)" opacity="0.78" transform="rotate(12 117.8 110.0)"/>
<ellipse cx="66.8" cy="110.6" rx="2.2" ry="1.5" fill="rgb(148,156,32)" opacity="0.78" transform="rotate(165 66.8 110.6)"/>
<ellipse cx="60.3" cy="91.8" rx="2.4" ry="1.6" fill="rgb(158,164,35)" opacity="0.78" transform="rotate(160 60.3 91.8)"/>
<ellipse cx="83.9" cy="154.5" rx="2.5" ry="1.7" fill="rgb(89,105,16)" opacity="0.78" transform="rotate(52 83.9 154.5)"/>
<ellipse cx="78.2" cy="129.9" rx="1.5" ry="1.0" fill="rgb(195,193,48)" opacity="0.78" transform="rotate(117 78.2 129.9)"/>
<ellipse cx="56.1" cy="136.5" rx="1.9" ry="1.3" fill="rgb(177,179,41)" opacity="0.78" transform="rotate(96 56.1 136.5)"/>
<ellipse cx="77.3" cy="82.0" rx="1.9" ry="1.3" fill="rgb(223,215,59)" opacity="0.78" transform="rotate(177 77.3 82.0)"/>
<ellipse cx="31.2" cy="90.6" rx="1.4" ry="1.0" fill="rgb(154,161,33)" opacity="0.78" transform="rotate(169 31.2 90.6)"/>
<ellipse cx="39.6" cy="71.2" rx="1.8" ry="1.3" fill="rgb(96,112,18)" opacity="0.78" transform="rotate(51 39.6 71.2)"/>
<ellipse cx="48.8" cy="94.2" rx="1.6" ry="1.1" fill="rgb(203,200,51)" opacity="0.78" transform="rotate(112 48.8 94.2)"/>
<ellipse cx="90.2" cy="71.3" rx="2.0" ry="1.4" fill="rgb(94,110,17)" opacity="0.78" transform="rotate(75 90.2 71.3)"/>
<ellipse cx="121.3" cy="98.9" rx="1.5" ry="1.1" fill="rgb(234,223,63)" opacity="0.78" transform="rotate(20 121.3 98.9)"/>
<ellipse cx="69.5" cy="133.3" rx="2.0" ry="1.4" fill="rgb(228,218,61)" opacity="0.78" transform="rotate(112 69.5 133.3)"/>
<ellipse cx="80.0" cy="144.8" rx="1.8" ry="1.2" fill="rgb(103,119,19)" opacity="0.78" transform="rotate(117 80.0 144.8)"/>
<ellipse cx="23.7" cy="51.3" rx="2.6" ry="1.8" fill="rgb(51,67,10)" opacity="0.78" transform="rotate(22 23.7 51.3)"/>
<ellipse cx="33.3" cy="152.2" rx="2.1" ry="1.5" fill="rgb(110,124,21)" opacity="0.78" transform="rotate(22 33.3 152.2)"/>
<ellipse cx="114.7" cy="135.6" rx="1.5" ry="1.1" fill="rgb(84,101,15)" opacity="0.78" transform="rotate(137 114.7 135.6)"/>
<ellipse cx="96.3" cy="118.7" rx="1.3" ry="0.9" fill="rgb(142,151,30)" opacity="0.78" transform="rotate(82 96.3 118.7)"/>
<ellipse cx="35.1" cy="48.9" rx="2.7" ry="1.9" fill="rgb(77,94,14)" opacity="0.78" transform="rotate(35 35.1 48.9)"/>
<ellipse cx="97.8" cy="61.1" rx="2.6" ry="1.8" fill="rgb(68,85,12)" opacity="0.78" transform="rotate(52 97.8 61.1)"/>
<ellipse cx="76.7" cy="83.7" rx="1.4" ry="0.9" fill="rgb(90,107,16)" opacity="0.78" transform="rotate(57 76.7 83.7)"/>
<ellipse cx="99.2" cy="42.5" rx="2.4" ry="1.7" fill="rgb(63,80,11)" opacity="0.78" transform="rotate(114 99.2 42.5)"/>
<ellipse cx="50.4" cy="96.3" rx="2.8" ry="1.9" fill="rgb(226,216,60)" opacity="0.78" transform="rotate(54 50.4 96.3)"/>
<ellipse cx="65.2" cy="112.0" rx="2.6" ry="1.8" fill="rgb(106,121,20)" opacity="0.78" transform="rotate(53 65.2 112.0)"/>
<ellipse cx="74.0" cy="145.3" rx="2.0" ry="1.4" fill="rgb(177,180,41)" opacity="0.78" transform="rotate(153 74.0 145.3)"/>
<ellipse cx="85.7" cy="122.3" rx="2.0" ry="1.4" fill="rgb(137,147,28)" opacity="0.78" transform="rotate(58 85.7 122.3)"/>
<ellipse cx="28.2" cy="61.8" rx="1.8" ry="1.3" fill="rgb(105,120,20)" opacity="0.78" transform="rotate(84 28.2 61.8)"/>
<ellipse cx="87.2" cy="83.2" rx="2.1" ry="1.5" fill="rgb(77,94,14)" opacity="0.78" transform="rotate(165 87.2 83.2)"/>
<ellipse cx="55.8" cy="109.9" rx="1.2" ry="0.8" fill="rgb(229,219,61)" opacity="0.78" transform="rotate(122 55.8 109.9)"/>
<ellipse cx="48.4" cy="56.6" rx="1.6" ry="1.1" fill="rgb(117,130,23)" opacity="0.78" transform="rotate(69 48.4 56.6)"/>
<ellipse cx="29.8" cy="93.0" rx="1.8" ry="1.3" fill="rgb(113,127,22)" opacity="0.78" transform="rotate(103 29.8 93.0)"/>
<ellipse cx="104.6" cy="92.9" rx="1.4" ry="1.0" fill="rgb(71,89,13)" opacity="0.78" transform="rotate(13 104.6 92.9)"/>
<ellipse cx="28.4" cy="57.0" rx="1.9" ry="1.3" fill="rgb(101,116,19)" opacity="0.78" transform="rotate(74 28.4 57.0)"/>
<ellipse cx="17.7" cy="66.7" rx="1.6" ry="1.1" fill="rgb(76,93,14)" opacity="0.78" transform="rotate(44 17.7 66.7)"/>
<ellipse cx="69.4" cy="144.1" rx="2.8" ry="2.0" fill="rgb(113,127,22)" opacity="0.78" transform="rotate(104 69.4 144.1)"/>
<ellipse cx="12.3" cy="126.6" rx="2.1" ry="1.4" fill="rgb(77,94,14)" opacity="0.78" transform="rotate(88 12.3 126.6)"/>
<ellipse cx="99.2" cy="116.0" rx="1.2" ry="0.8" fill="rgb(129,141,26)" opacity="0.78" transform="rotate(9 99.2 116.0)"/>
<ellipse cx="107.9" cy="106.4" rx="2.3" ry="1.6" fill="rgb(142,151,30)" opacity="0.78" transform="rotate(105 107.9 106.4)"/>
<ellipse cx="78.7" cy="147.4" rx="2.8" ry="2.0" fill="rgb(161,167,36)" opacity="0.78" transform="rotate(64 78.7 147.4)"/>
<ellipse cx="107.8" cy="134.4" rx="2.2" ry="1.5" fill="rgb(120,133,24)" opacity="0.78" transform="rotate(126 107.8 134.4)"/>
<ellipse cx="58.4" cy="147.7" rx="2.3" ry="1.6" fill="rgb(162,168,36)" opacity="0.78" transform="rotate(169 58.4 147.7)"/>
<ellipse cx="8.6" cy="86.8" rx="1.4" ry="1.0" fill="rgb(63,80,11)" opacity="0.78" transform="rotate(107 8.6 86.8)"/>
<ellipse cx="62.6" cy="61.7" rx="2.1" ry="1.5" fill="rgb(115,128,22)" opacity="0.78" transform="rotate(100 62.6 61.7)"/>
<ellipse cx="120.3" cy="104.1" rx="1.3" ry="0.9" fill="rgb(111,125,21)" opacity="0.78" transform="rotate(179 120.3 104.1)"/>
<ellipse cx="126.3" cy="76.0" rx="1.6" ry="1.1" fill="rgb(129,140,26)" opacity="0.78" transform="rotate(160 126.3 76.0)"/>
<ellipse cx="13.5" cy="131.1" rx="1.7" ry="1.2" fill="rgb(176,179,41)" opacity="0.78" transform="rotate(92 13.5 131.1)"/>
<ellipse cx="125.3" cy="149.4" rx="1.7" ry="1.2" fill="rgb(188,188,45)" opacity="0.78" transform="rotate(155 125.3 149.4)"/>
<ellipse cx="33.2" cy="132.1" rx="2.1" ry="1.5" fill="rgb(83,100,15)" opacity="0.78" transform="rotate(44 33.2 132.1)"/>
<ellipse cx="41.7" cy="77.2" rx="1.8" ry="1.2" fill="rgb(123,136,24)" opacity="0.78" transform="rotate(75 41.7 77.2)"/>
<ellipse cx="56.1" cy="109.7" rx="1.8" ry="1.3" fill="rgb(198,196,49)" opacity="0.78" transform="rotate(173 56.1 109.7)"/>
<ellipse cx="49.4" cy="90.0" rx="2.2" ry="1.6" fill="rgb(225,216,60)" opacity="0.78" transform="rotate(83 49.4 90.0)"/>
<ellipse cx="75.6" cy="154.3" rx="2.2" ry="1.5" fill="rgb(197,195,48)" opacity="0.78" transform="rotate(160 75.6 154.3)"/>
<ellipse cx="117.8" cy="127.2" rx="1.4" ry="1.0" fill="rgb(131,142,27)" opacity="0.78" transform="rotate(15 117.8 127.2)"/>
<ellipse cx="29.6" cy="119.9" rx="1.7" ry="1.2" fill="rgb(98,114,18)" opacity="0.78" transform="rotate(76 29.6 119.9)"/>
<ellipse cx="137.2" cy="125.0" rx="2.4" ry="1.7" fill="rgb(97,113,18)" opacity="0.78" transform="rotate(121 137.2 125.0)"/>
<ellipse cx="59.3" cy="149.8" rx="1.5" ry="1.1" fill="rgb(183,184,43)" opacity="0.78" transform="rotate(115 59.3 149.8)"/>
<ellipse cx="74.7" cy="76.1" rx="2.7" ry="1.9" fill="rgb(92,108,17)" opacity="0.78" transform="rotate(71 74.7 76.1)"/>
<ellipse cx="46.4" cy="105.6" rx="2.5" ry="1.8" fill="rgb(163,168,36)" opacity="0.78" transform="rotate(178 46.4 105.6)"/>
<ellipse cx="43.3" cy="54.3" rx="2.1" ry="1.5" fill="rgb(194,192,47)" opacity="0.78" transform="rotate(173 43.3 54.3)"/>
<ellipse cx="104.1" cy="120.4" rx="1.9" ry="1.3" fill="rgb(136,146,28)" opacity="0.78" transform="rotate(87 104.1 120.4)"/>
<ellipse cx="61.2" cy="88.3" rx="2.7" ry="1.9" fill="rgb(226,217,60)" opacity="0.78" transform="rotate(36 61.2 88.3)"/>
<ellipse cx="61.7" cy="98.1" rx="2.6" ry="1.8" fill="rgb(244,230,68)" opacity="0.78" transform="rotate(33 61.7 98.1)"/>
<ellipse cx="44.3" cy="50.3" rx="1.4" ry="1.0" fill="rgb(175,178,41)" opacity="0.78" transform="rotate(20 44.3 50.3)"/>
<ellipse cx="55.8" cy="114.7" rx="2.6" ry="1.8" fill="rgb(147,156,31)" opacity="0.78" transform="rotate(0 55.8 114.7)"/>
<ellipse cx="68.9" cy="123.3" rx="2.1" ry="1.4" fill="rgb(244,230,68)" opacity="0.78" transform="rotate(151 68.9 123.3)"/>
<ellipse cx="81.8" cy="129.1" rx="2.6" ry="1.8" fill="rgb(85,102,15)" opacity="0.78" transform="rotate(57 81.8 129.1)"/>
<ellipse cx="84.8" cy="116.6" rx="1.5" ry="1.0" fill="rgb(145,154,31)" opacity="0.78" transform="rotate(68 84.8 116.6)"/>
<ellipse cx="76.1" cy="100.1" rx="2.7" ry="1.9" fill="rgb(243,229,67)" opacity="0.78" transform="rotate(95 76.1 100.1)"/>
<ellipse cx="17.5" cy="85.4" rx="2.0" ry="1.4" fill="rgb(74,91,13)" opacity="0.78" transform="rotate(158 17.5 85.4)"/>
<ellipse cx="68.5" cy="67.3" rx="1.9" ry="1.3" fill="rgb(125,137,25)" opacity="0.78" transform="rotate(49 68.5 67.3)"/>
<ellipse cx="18.2" cy="141.0" rx="2.5" ry="1.8" fill="rgb(127,139,26)" opacity="0.78" transform="rotate(50 18.2 141.0)"/>
<ellipse cx="83.2" cy="63.9" rx="1.4" ry="1.0" fill="rgb(174,177,40)" opacity="0.78" transform="rotate(176 83.2 63.9)"/>
<ellipse cx="68.5" cy="35.5" rx="1.5" ry="1.0" fill="rgb(146,155,31)" opacity="0.78" transform="rotate(120 68.5 35.5)"/>
<ellipse cx="121.0" cy="92.1" rx="1.9" ry="1.3" fill="rgb(138,148,29)" opacity="0.78" transform="rotate(168 121.0 92.1)"/>
<ellipse cx="119.9" cy="39.7" rx="1.6" ry="1.1" fill="rgb(54,71,10)" opacity="0.78" transform="rotate(97 119.9 39.7)"/>
<ellipse cx="19.4" cy="125.5" rx="2.2" ry="1.5" fill="rgb(160,166,36)" opacity="0.78" transform="rotate(82 19.4 125.5)"/>
<ellipse cx="53.0" cy="96.2" rx="2.5" ry="1.8" fill="rgb(244,230,68)" opacity="0.78" transform="rotate(1 53.0 96.2)"/>
<ellipse cx="21.8" cy="100.4" rx="1.5" ry="1.1" fill="rgb(92,109,17)" opacity="0.78" transform="rotate(149 21.8 100.4)"/>
<ellipse cx="40.3" cy="142.4" rx="1.2" ry="0.8" fill="rgb(113,127,22)" opacity="0.78" transform="rotate(102 40.3 142.4)"/>
<ellipse cx="40.0" cy="145.4" rx="2.3" ry="1.6" fill="rgb(176,179,41)" opacity="0.78" transform="rotate(163 40.0 145.4)"/>
<ellipse cx="84.9" cy="76.9" rx="2.0" ry="1.4" fill="rgb(114,128,22)" opacity="0.78" transform="rotate(26 84.9 76.9)"/>
<ellipse cx="109.0" cy="139.0" rx="1.4" ry="1.0" fill="rgb(117,131,23)" opacity="0.78" transform="rotate(157 109.0 139.0)"/>
<ellipse cx="126.3" cy="143.5" rx="2.6" ry="1.9" fill="rgb(134,145,27)" opacity="0.78" transform="rotate(21 126.3 143.5)"/>
<ellipse cx="114.3" cy="32.3" rx="2.1" ry="1.5" fill="rgb(43,59,9)" opacity="0.78" transform="rotate(101 114.3 32.3)"/>
<ellipse cx="97.2" cy="96.2" rx="1.5" ry="1.1" fill="rgb(100,116,19)" opacity="0.78" transform="rotate(117 97.2 96.2)"/>
<ellipse cx="49.1" cy="61.2" rx="2.2" ry="1.5" fill="rgb(147,155,31)" opacity="0.78" transform="rotate(49 49.1 61.2)"/>
<ellipse cx="54.3" cy="65.0" rx="2.0" ry="1.4" fill="rgb(244,230,68)" opacity="0.78" transform="rotate(167 54.3 65.0)"/>
<ellipse cx="53.3" cy="94.1" rx="2.6" ry="1.8" fill="rgb(161,167,36)" opacity="0.78" transform="rotate(61 53.3 94.1)"/>
<ellipse cx="21.9" cy="131.5" rx="2.3" ry="1.6" fill="rgb(96,112,18)" opacity="0.78" transform="rotate(137 21.9 131.5)"/>
<ellipse cx="24.2" cy="82.7" rx="1.3" ry="0.9" fill="rgb(107,121,20)" opacity="0.78" transform="rotate(62 24.2 82.7)"/>
<ellipse cx="99.7" cy="150.3" rx="1.6" ry="1.1" fill="rgb(77,94,14)" opacity="0.78" transform="rotate(3 99.7 150.3)"/>
<ellipse cx="103.0" cy="79.2" rx="2.8" ry="2.0" fill="rgb(96,112,18)" opacity="0.78" transform="rotate(157 103.0 79.2)"/>
<ellipse cx="100.4" cy="62.3" rx="1.3" ry="0.9" fill="rgb(62,79,11)" opacity="0.78" transform="rotate(92 100.4 62.3)"/>
<ellipse cx="122.6" cy="83.1" rx="1.6" ry="1.1" fill="rgb(148,156,32)" opacity="0.78" transform="rotate(57 122.6 83.1)"/>
<ellipse cx="52.6" cy="104.9" rx="1.3" ry="0.9" fill="rgb(153,161,33)" opacity="0.78" transform="rotate(168 52.6 104.9)"/>
<ellipse cx="15.6" cy="55.7" rx="2.2" ry="1.5" fill="rgb(40,54,8)" opacity="0.78" transform="rotate(75 15.6 55.7)"/>
<ellipse cx="10.0" cy="135.0" rx="2.8" ry="2.0" fill="rgb(90,106,16)" opacity="0.78" transform="rotate(45 10.0 135.0)"/>
<ellipse cx="26.4" cy="126.5" rx="1.8" ry="1.3" fill="rgb(129,140,26)" opacity="0.78" transform="rotate(28 26.4 126.5)"/>
<ellipse cx="124.0" cy="142.6" rx="2.5" ry="1.7" fill="rgb(206,202,52)" opacity="0.78" transform="rotate(7 124.0 142.6)"/>
<ellipse cx="37.8" cy="47.7" rx="1.9" ry="1.3" fill="rgb(102,117,19)" opacity="0.78" transform="rotate(164 37.8 47.7)"/>
<ellipse cx="126.8" cy="56.9" rx="1.4" ry="1.0" fill="rgb(103,118,19)" opacity="0.78" transform="rotate(94 126.8 56.9)"/>
<ellipse cx="77.8" cy="53.8" rx="2.7" ry="1.9" fill="rgb(108,122,20)" opacity="0.78" transform="rotate(21 77.8 53.8)"/>
<ellipse cx="71.2" cy="56.1" rx="2.3" ry="1.6" fill="rgb(220,212,58)" opacity="0.78" transform="rotate(6 71.2 56.1)"/>
<ellipse cx="93.6" cy="113.1" rx="2.3" ry="1.6" fill="rgb(116,130,23)" opacity="0.78" transform="rotate(170 93.6 113.1)"/>
<ellipse cx="88.5" cy="108.3" rx="2.6" ry="1.8" fill="rgb(161,167,36)" opacity="0.78" transform="rotate(10 88.5 108.3)"/>
<ellipse cx="36.8" cy="132.6" rx="2.9" ry="2.0" fill="rgb(119,132,23)" opacity="0.78" transform="rotate(57 36.8 132.6)"/>
<ellipse cx="137.7" cy="122.2" rx="1.5" ry="1.1" fill="rgb(113,127,22)" opacity="0.78" transform="rotate(5 137.7 122.2)"/>
<ellipse cx="83.6" cy="124.1" rx="2.6" ry="1.8" fill="rgb(81,98,15)" opacity="0.78" transform="rotate(66 83.6 124.1)"/>
<ellipse cx="59.4" cy="56.6" rx="1.7" ry="1.2" fill="rgb(158,165,35)" opacity="0.78" transform="rotate(35 59.4 56.6)"/>
<ellipse cx="41.7" cy="97.6" rx="1.5" ry="1.0" fill="rgb(244,230,68)" opacity="0.78" transform="rotate(104 41.7 97.6)"/>
<ellipse cx="136.7" cy="141.9" rx="2.5" ry="1.7" fill="rgb(72,89,13)" opacity="0.78" transform="rotate(35 136.7 141.9)"/>
<ellipse cx="136.0" cy="47.6" rx="2.7" ry="1.9" fill="rgb(64,81,12)" opacity="0.78" transform="rotate(46 136.0 47.6)"/>
<ellipse cx="62.8" cy="148.8" rx="2.6" ry="1.8" fill="rgb(147,156,31)" opacity="0.78" transform="rotate(14 62.8 148.8)"/>
<ellipse cx="43.4" cy="26.7" rx="1.9" ry="1.3" fill="rgb(77,94,14)" opacity="0.78" transform="rotate(19 43.4 26.7)"/>
<ellipse cx="70.5" cy="82.2" rx="2.1" ry="1.5" fill="rgb(122,135,24)" opacity="0.78" transform="rotate(111 70.5 82.2)"/>
<ellipse cx="23.6" cy="105.5" rx="2.1" ry="1.5" fill="rgb(87,103,16)" opacity="0.78" transform="rotate(63 23.6 105.5)"/>
<ellipse cx="101.8" cy="150.1" rx="2.5" ry="1.8" fill="rgb(80,97,14)" opacity="0.78" transform="rotate(65 101.8 150.1)"/>
<ellipse cx="96.6" cy="123.7" rx="2.7" ry="1.9" fill="rgb(105,120,20)" opacity="0.78" transform="rotate(105 96.6 123.7)"/>
<ellipse cx="104.5" cy="58.1" rx="1.2" ry="0.8" fill="rgb(66,84,12)" opacity="0.78" transform="rotate(178 104.5 58.1)"/>
<ellipse cx="41.1" cy="45.0" rx="2.7" ry="1.9" fill="rgb(165,170,37)" opacity="0.78" transform="rotate(60 41.1 45.0)"/>
<ellipse cx="77.5" cy="64.5" rx="2.0" ry="1.4" fill="rgb(112,126,21)" opacity="0.78" transform="rotate(14 77.5 64.5)"/>
<ellipse cx="131.3" cy="57.0" rx="1.3" ry="0.9" fill="rgb(79,96,14)" opacity="0.78" transform="rotate(67 131.3 57.0)"/>
<ellipse cx="25.5" cy="137.1" rx="2.1" ry="1.4" fill="rgb(81,97,14)" opacity="0.78" transform="rotate(154 25.5 137.1)"/>
<ellipse cx="131.6" cy="96.3" rx="1.5" ry="1.0" fill="rgb(244,230,68)" opacity="0.78" transform="rotate(98 131.6 96.3)"/>
<ellipse cx="17.6" cy="84.6" rx="1.5" ry="1.0" fill="rgb(81,98,14)" opacity="0.78" transform="rotate(115 17.6 84.6)"/>
<ellipse cx="114.9" cy="126.9" rx="1.4" ry="1.0" fill="rgb(145,154,31)" opacity="0.78" transform="rotate(144 114.9 126.9)"/>
<ellipse cx="52.1" cy="29.6" rx="1.2" ry="0.9" fill="rgb(92,108,17)" opacity="0.78" transform="rotate(54 52.1 29.6)"/>
<ellipse cx="96.1" cy="56.6" rx="1.6" ry="1.1" fill="rgb(127,139,26)" opacity="0.78" transform="rotate(180 96.1 56.6)"/>
<ellipse cx="15.4" cy="102.8" rx="1.3" ry="0.9" fill="rgb(69,86,12)" opacity="0.78" transform="rotate(38 15.4 102.8)"/>
<ellipse cx="31.3" cy="105.5" rx="1.3" ry="0.9" fill="rgb(143,152,30)" opacity="0.78" transform="rotate(129 31.3 105.5)"/>
<ellipse cx="71.4" cy="63.2" rx="2.3" ry="1.6" fill="rgb(179,181,42)" opacity="0.78" transform="rotate(111 71.4 63.2)"/>
<ellipse cx="92.7" cy="58.9" rx="2.9" ry="2.0" fill="rgb(160,166,36)" opacity="0.78" transform="rotate(33 92.7 58.9)"/>
<ellipse cx="16.4" cy="112.7" rx="2.3" ry="1.6" fill="rgb(115,129,22)" opacity="0.78" transform="rotate(169 16.4 112.7)"/>
<ellipse cx="110.5" cy="80.0" rx="1.9" ry="1.3" fill="rgb(88,105,16)" opacity="0.78" transform="rotate(13 110.5 80.0)"/>
<ellipse cx="78.5" cy="114.8" rx="2.6" ry="1.8" fill="rgb(136,146,28)" opacity="0.78" transform="rotate(104 78.5 114.8)"/>
<ellipse cx="64.6" cy="66.8" rx="1.6" ry="1.1" fill="rgb(244,230,68)" opacity="0.78" transform="rotate(29 64.6 66.8)"/>
<ellipse cx="103.8" cy="73.3" rx="1.5" ry="1.1" fill="rgb(118,131,23)" opacity="0.78" transform="rotate(119 103.8 73.3)"/>
<ellipse cx="98.8" cy="109.5" rx="1.2" ry="0.8" fill="rgb(70,88,13)" opacity="0.78" transform="rotate(88 98.8 109.5)"/>
<ellipse cx="127.6" cy="148.2" rx="2.6" ry="1.8" fill="rgb(170,174,39)" opacity="0.78" transform="rotate(68 127.6 148.2)"/>
<ellipse cx="116.7" cy="107.4" rx="2.7" ry="1.9" fill="rgb(89,105,16)" opacity="0.78" transform="rotate(38 116.7 107.4)"/>
<ellipse cx="58.6" cy="133.3" rx="2.1" ry="1.5" fill="rgb(125,137,25)" opacity="0.78" transform="rotate(14 58.6 133.3)"/>
<ellipse cx="112.0" cy="137.3" rx="1.8" ry="1.2" fill="rgb(93,109,17)" opacity="0.78" transform="rotate(25 112.0 137.3)"/>
<ellipse cx="84.7" cy="64.2" rx="2.6" ry="1.8" fill="rgb(169,173,39)" opacity="0.78" transform="rotate(90 84.7 64.2)"/>
<ellipse cx="118.3" cy="90.8" rx="1.9" ry="1.3" fill="rgb(227,217,61)" opacity="0.78" transform="rotate(170 118.3 90.8)"/>
<ellipse cx="83.7" cy="25.1" rx="2.9" ry="2.0" fill="rgb(59,76,11)" opacity="0.78" transform="rotate(74 83.7 25.1)"/>
<ellipse cx="117.1" cy="126.6" rx="1.6" ry="1.1" fill="rgb(164,170,37)" opacity="0.78" transform="rotate(14 117.1 126.6)"/>
<ellipse cx="51.8" cy="119.1" rx="2.1" ry="1.5" fill="rgb(183,184,44)" opacity="0.78" transform="rotate(171 51.8 119.1)"/>
<ellipse cx="123.9" cy="102.2" rx="2.6" ry="1.8" fill="rgb(244,230,68)" opacity="0.78" transform="rotate(42 123.9 102.2)"/>
<ellipse cx="130.9" cy="49.5" rx="2.1" ry="1.4" fill="rgb(110,125,21)" opacity="0.78" transform="rotate(55 130.9 49.5)"/>
<ellipse cx="64.4" cy="101.8" rx="1.7" ry="1.2" fill="rgb(157,164,34)" opacity="0.78" transform="rotate(131 64.4 101.8)"/>
<ellipse cx="114.8" cy="141.8" rx="2.5" ry="1.8" fill="rgb(130,142,26)" opacity="0.78" transform="rotate(59 114.8 141.8)"/>
<ellipse cx="66.9" cy="33.4" rx="2.6" ry="1.8" fill="rgb(122,135,24)" opacity="0.78" transform="rotate(36 66.9 33.4)"/>
<ellipse cx="50.6" cy="44.8" rx="2.1" ry="1.5" fill="rgb(130,142,26)" opacity="0.78" transform="rotate(62 50.6 44.8)"/>
<ellipse cx="55.4" cy="79.8" rx="2.3" ry="1.6" fill="rgb(160,166,35)" opacity="0.78" transform="rotate(36 55.4 79.8)"/>
<ellipse cx="32.4" cy="85.6" rx="2.9" ry="2.0" fill="rgb(143,152,30)" opacity="0.78" transform="rotate(70 32.4 85.6)"/>
<ellipse cx="27.2" cy="44.4" rx="2.4" ry="1.7" fill="rgb(109,124,21)" opacity="0.78" transform="rotate(103 27.2 44.4)"/>
<ellipse cx="134.6" cy="104.2" rx="2.3" ry="1.6" fill="rgb(216,209,56)" opacity="0.78" transform="rotate(1 134.6 104.2)"/>
<ellipse cx="81.1" cy="75.4" rx="1.4" ry="1.0" fill="rgb(193,192,47)" opacity="0.78" transform="rotate(6 81.1 75.4)"/>
<ellipse cx="44.5" cy="91.1" rx="2.1" ry="1.5" fill="rgb(244,230,68)" opacity="0.78" transform="rotate(83 44.5 91.1)"/>
<ellipse cx="42.7" cy="71.1" rx="1.8" ry="1.3" fill="rgb(244,230,68)" opacity="0.78" transform="rotate(137 42.7 71.1)"/>
<ellipse cx="26.7" cy="63.3" rx="1.9" ry="1.4" fill="rgb(73,90,13)" opacity="0.78" transform="rotate(27 26.7 63.3)"/>
<ellipse cx="60.0" cy="55.6" rx="2.9" ry="2.0" fill="rgb(244,230,68)" opacity="0.78" transform="rotate(180 60.0 55.6)"/>
<ellipse cx="9.8" cy="80.2" rx="2.3" ry="1.6" fill="rgb(56,73,10)" opacity="0.78" transform="rotate(130 9.8 80.2)"/>
<ellipse cx="82.6" cy="40.9" rx="1.9" ry="1.3" fill="rgb(139,149,29)" opacity="0.78" transform="rotate(1 82.6 40.9)"/>
<ellipse cx="132.8" cy="134.0" rx="2.4" ry="1.7" fill="rgb(90,106,16)" opacity="0.78" transform="rotate(97 132.8 134.0)"/>
<ellipse cx="50.1" cy="71.9" rx="2.7" ry="1.9" fill="rgb(244,230,68)" opacity="0.78" transform="rotate(157 50.1 71.9)"/>
<ellipse cx="50.3" cy="122.5" rx="2.2" ry="1.6" fill="rgb(124,136,25)" opacity="0.78" transform="rotate(139 50.3 122.5)"/>
<ellipse cx="128.7" cy="99.8" rx="2.8" ry="2.0" fill="rgb(127,139,26)" opacity="0.78" transform="rotate(34 128.7 99.8)"/>
<ellipse cx="21.7" cy="58.7" rx="2.7" ry="1.9" fill="rgb(64,81,12)" opacity="0.78" transform="rotate(65 21.7 58.7)"/>
<ellipse cx="12.7" cy="132.6" rx="1.3" ry="0.9" fill="rgb(85,102,15)" opacity="0.78" transform="rotate(94 12.7 132.6)"/>
<ellipse cx="35.4" cy="89.3" rx="2.1" ry="1.5" fill="rgb(238,225,65)" opacity="0.78" transform="rotate(177 35.4 89.3)"/>
<ellipse cx="27.3" cy="112.1" rx="2.9" ry="2.0" fill="rgb(153,161,33)" opacity="0.78" transform="rotate(33 27.3 112.1)"/>
<ellipse cx="42.5" cy="89.1" rx="1.2" ry="0.9" fill="rgb(143,152,30)" opacity="0.78" transform="rotate(8 42.5 89.1)"/>
<ellipse cx="37.7" cy="135.7" rx="1.6" ry="1.1" fill="rgb(83,100,15)" opacity="0.78" transform="rotate(41 37.7 135.7)"/>
<ellipse cx="121.7" cy="80.8" rx="2.8" ry="1.9" fill="rgb(229,219,61)" opacity="0.78" transform="rotate(174 121.7 80.8)"/>
<ellipse cx="72.0" cy="92.3" rx="1.6" ry="1.1" fill="rgb(154,161,34)" opacity="0.78" transform="rotate(30 72.0 92.3)"/>
<ellipse cx="81.7" cy="75.7" rx="1.4" ry="1.0" fill="rgb(121,134,24)" opacity="0.78" transform="rotate(126 81.7 75.7)"/>
<ellipse cx="132.1" cy="96.7" rx="2.0" ry="1.4" fill="rgb(244,230,68)" opacity="0.78" transform="rotate(84 132.1 96.7)"/>
<ellipse cx="135.7" cy="152.2" rx="2.2" ry="1.5" fill="rgb(143,153,30)" opacity="0.78" transform="rotate(98 135.7 152.2)"/>
<ellipse cx="96.4" cy="45.2" rx="1.5" ry="1.1" fill="rgb(83,100,15)" opacity="0.78" transform="rotate(62 96.4 45.2)"/>
<ellipse cx="96.1" cy="121.9" rx="1.4" ry="1.0" fill="rgb(77,94,14)" opacity="0.78" transform="rotate(25 96.1 121.9)"/>
<ellipse cx="86.4" cy="131.3" rx="1.5" ry="1.1" fill="rgb(76,93,14)" opacity="0.78" transform="rotate(57 86.4 131.3)"/>
<ellipse cx="125.1" cy="90.4" rx="2.8" ry="2.0" fill="rgb(163,169,37)" opacity="0.78" transform="rotate(178 125.1 90.4)"/>
<ellipse cx="64.9" cy="92.5" rx="1.8" ry="1.3" fill="rgb(148,156,32)" opacity="0.78" transform="rotate(34 64.9 92.5)"/>
<ellipse cx="55.7" cy="141.4" rx="1.4" ry="1.0" fill="rgb(94,110,17)" opacity="0.78" transform="rotate(38 55.7 141.4)"/>
<ellipse cx="22.7" cy="127.7" rx="1.7" ry="1.2" fill="rgb(122,134,24)" opacity="0.78" transform="rotate(24 22.7 127.7)"/>
<ellipse cx="39.5" cy="122.4" rx="2.6" ry="1.8" fill="rgb(127,139,26)" opacity="0.78" transform="rotate(23 39.5 122.4)"/>
<ellipse cx="119.0" cy="100.1" rx="2.0" ry="1.4" fill="rgb(96,111,18)" opacity="0.78" transform="rotate(171 119.0 100.1)"/>
<ellipse cx="108.3" cy="66.9" rx="2.5" ry="1.7" fill="rgb(74,91,13)" opacity="0.78" transform="rotate(114 108.3 66.9)"/>
<ellipse cx="40.5" cy="42.5" rx="1.8" ry="1.2" fill="rgb(172,175,39)" opacity="0.78" transform="rotate(180 40.5 42.5)"/>
<ellipse cx="45.9" cy="27.3" rx="2.1" ry="1.5" fill="rgb(110,124,21)" opacity="0.78" transform="rotate(48 45.9 27.3)"/>
<ellipse cx="65.6" cy="109.7" rx="2.7" ry="1.9" fill="rgb(101,117,19)" opacity="0.78" transform="rotate(57 65.6 109.7)"/>
<ellipse cx="79.3" cy="60.1" rx="1.6" ry="1.1" fill="rgb(169,173,38)" opacity="0.78" transform="rotate(84 79.3 60.1)"/>
<ellipse cx="65.3" cy="42.6" rx="2.1" ry="1.5" fill="rgb(244,230,68)" opacity="0.78" transform="rotate(160 65.3 42.6)"/>
<ellipse cx="33.8" cy="110.8" rx="2.6" ry="1.8" fill="rgb(149,157,32)" opacity="0.78" transform="rotate(150 33.8 110.8)"/>
<ellipse cx="116.3" cy="84.8" rx="2.0" ry="1.4" fill="rgb(101,117,19)" opacity="0.78" transform="rotate(175 116.3 84.8)"/>
<ellipse cx="18.0" cy="128.3" rx="1.6" ry="1.1" fill="rgb(171,174,39)" opacity="0.78" transform="rotate(68 18.0 128.3)"/>
<ellipse cx="54.3" cy="114.2" rx="2.4" ry="1.7" fill="rgb(145,154,31)" opacity="0.78" transform="rotate(112 54.3 114.2)"/>
<ellipse cx="66.2" cy="22.5" rx="2.4" ry="1.7" fill="rgb(127,139,25)" opacity="0.78" transform="rotate(163 66.2 22.5)"/>
<ellipse cx="128.7" cy="109.4" rx="1.4" ry="1.0" fill="rgb(219,212,57)" opacity="0.78" transform="rotate(23 128.7 109.4)"/>
<ellipse cx="97.3" cy="22.5" rx="1.8" ry="1.3" fill="rgb(101,116,19)" opacity="0.78" transform="rotate(151 97.3 22.5)"/>
<ellipse cx="34.1" cy="90.8" rx="1.8" ry="1.2" fill="rgb(152,159,33)" opacity="0.78" transform="rotate(130 34.1 90.8)"/>
<ellipse cx="95.7" cy="39.1" rx="1.9" ry="1.4" fill="rgb(100,115,18)" opacity="0.78" transform="rotate(11 95.7 39.1)"/>
<ellipse cx="57.9" cy="60.5" rx="2.4" ry="1.7" fill="rgb(244,230,68)" opacity="0.78" transform="rotate(123 57.9 60.5)"/>
<ellipse cx="50.7" cy="112.4" rx="2.7" ry="1.9" fill="rgb(244,230,68)" opacity="0.78" transform="rotate(116 50.7 112.4)"/>
<ellipse cx="100.2" cy="58.2" rx="1.8" ry="1.3" fill="rgb(63,80,11)" opacity="0.78" transform="rotate(155 100.2 58.2)"/>
<ellipse cx="72.9" cy="71.0" rx="2.0" ry="1.4" fill="rgb(185,185,44)" opacity="0.78" transform="rotate(86 72.9 71.0)"/>
<ellipse cx="120.9" cy="137.1" rx="1.9" ry="1.3" fill="rgb(112,126,22)" opacity="0.78" transform="rotate(164 120.9 137.1)"/>
<ellipse cx="130.6" cy="135.1" rx="2.6" ry="1.9" fill="rgb(189,189,46)" opacity="0.78" transform="rotate(109 130.6 135.1)"/>
<ellipse cx="75.7" cy="36.8" rx="2.1" ry="1.4" fill="rgb(177,180,41)" opacity="0.78" transform="rotate(65 75.7 36.8)"/>
<ellipse cx="139.2" cy="74.0" rx="2.5" ry="1.8" fill="rgb(210,205,54)" opacity="0.78" transform="rotate(29 139.2 74.0)"/>
<ellipse cx="91.1" cy="47.0" rx="2.3" ry="1.6" fill="rgb(133,144,27)" opacity="0.78" transform="rotate(75 91.1 47.0)"/>
<ellipse cx="76.6" cy="134.8" rx="2.0" ry="1.4" fill="rgb(103,118,19)" opacity="0.78" transform="rotate(112 76.6 134.8)"/>
<ellipse cx="49.4" cy="77.2" rx="2.7" ry="1.9" fill="rgb(119,132,23)" opacity="0.78" transform="rotate(102 49.4 77.2)"/>
<ellipse cx="40.0" cy="135.6" rx="2.2" ry="1.5" fill="rgb(110,125,21)" opacity="0.78" transform="rotate(9 40.0 135.6)"/>
<ellipse cx="77.1" cy="94.9" rx="2.0" ry="1.4" fill="rgb(182,183,43)" opacity="0.78" transform="rotate(119 77.1 94.9)"/>
<ellipse cx="38.3" cy="104.9" rx="2.6" ry="1.8" fill="rgb(233,222,63)" opacity="0.78" transform="rotate(99 38.3 104.9)"/>
<ellipse cx="68.6" cy="143.9" rx="1.8" ry="1.3" fill="rgb(157,163,34)" opacity="0.78" transform="rotate(25 68.6 143.9)"/>
<ellipse cx="75.9" cy="87.5" rx="2.7" ry="1.9" fill="rgb(104,119,20)" opacity="0.78" transform="rotate(99 75.9 87.5)"/>
<ellipse cx="55.6" cy="66.5" rx="2.2" ry="1.5" fill="rgb(144,153,30)" opacity="0.78" transform="rotate(21 55.6 66.5)"/>
<ellipse cx="26.3" cy="111.4" rx="1.5" ry="1.0" fill="rgb(92,108,17)" opacity="0.78" transform="rotate(92 26.3 111.4)"/>
<ellipse cx="34.3" cy="92.5" rx="1.6" ry="1.1" fill="rgb(129,141,26)" opacity="0.78" transform="rotate(180 34.3 92.5)"/>
<ellipse cx="68.8" cy="132.3" rx="2.4" ry="1.7" fill="rgb(99,115,18)" opacity="0.78" transform="rotate(56 68.8 132.3)"/>
<ellipse cx="126.0" cy="64.5" rx="1.3" ry="0.9" fill="rgb(163,168,36)" opacity="0.78" transform="rotate(50 126.0 64.5)"/>
<ellipse cx="80.0" cy="30.9" rx="1.5" ry="1.1" fill="rgb(110,125,21)" opacity="0.78" transform="rotate(128 80.0 30.9)"/>
<ellipse cx="26.1" cy="103.3" rx="2.1" ry="1.4" fill="rgb(111,125,21)" opacity="0.78" transform="rotate(140 26.1 103.3)"/>
<ellipse cx="106.8" cy="64.4" rx="2.6" ry="1.9" fill="rgb(99,114,18)" opacity="0.78" transform="rotate(140 106.8 64.4)"/>
<ellipse cx="22.2" cy="103.1" rx="2.8" ry="2.0" fill="rgb(163,169,37)" opacity="0.78" transform="rotate(37 22.2 103.1)"/>
<ellipse cx="43.6" cy="134.2" rx="2.6" ry="1.8" fill="rgb(136,147,28)" opacity="0.78" transform="rotate(4 43.6 134.2)"/>
<ellipse cx="90.3" cy="52.5" rx="2.6" ry="1.8" fill="rgb(112,126,22)" opacity="0.78" transform="rotate(61 90.3 52.5)"/>
<ellipse cx="115.8" cy="119.1" rx="1.4" ry="0.9" fill="rgb(179,181,42)" opacity="0.78" transform="rotate(141 115.8 119.1)"/>
<ellipse cx="58.8" cy="94.0" rx="2.6" ry="1.8" fill="rgb(244,230,68)" opacity="0.78" transform="rotate(56 58.8 94.0)"/>
<ellipse cx="41.0" cy="114.2" rx="1.6" ry="1.1" fill="rgb(158,164,35)" opacity="0.78" transform="rotate(94 41.0 114.2)"/>
<ellipse cx="69.4" cy="68.1" rx="2.3" ry="1.6" fill="rgb(208,203,53)" opacity="0.78" transform="rotate(91 69.4 68.1)"/>
<ellipse cx="61.4" cy="43.2" rx="2.8" ry="1.9" fill="rgb(244,230,68)" opacity="0.78" transform="rotate(40 61.4 43.2)"/>
<ellipse cx="34.3" cy="117.8" rx="2.6" ry="1.8" fill="rgb(115,129,22)" opacity="0.78" transform="rotate(70 34.3 117.8)"/>
<ellipse cx="54.4" cy="38.1" rx="2.2" ry="1.5" fill="rgb(175,178,41)" opacity="0.78" transform="rotate(80 54.4 38.1)"/>
<ellipse cx="88.0" cy="105.0" rx="2.5" ry="1.8" fill="rgb(88,104,16)" opacity="0.78" transform="rotate(24 88.0 105.0)"/>
<ellipse cx="75.8" cy="41.8" rx="2.7" ry="1.9" fill="rgb(113,127,22)" opacity="0.78" transform="rotate(38 75.8 41.8)"/>
<ellipse cx="29.4" cy="99.8" rx="2.3" ry="1.6" fill="rgb(160,166,35)" opacity="0.78" transform="rotate(25 29.4 99.8)"/>
<ellipse cx="10.2" cy="145.3" rx="1.3" ry="0.9" fill="rgb(107,122,20)" opacity="0.78" transform="rotate(145 10.2 145.3)"/>
<ellipse cx="29.0" cy="62.7" rx="2.6" ry="1.8" fill="rgb(154,161,33)" opacity="0.78" transform="rotate(15 29.0 62.7)"/>
<ellipse cx="119.6" cy="137.4" rx="1.6" ry="1.1" fill="rgb(92,108,17)" opacity="0.78" transform="rotate(64 119.6 137.4)"/>
<ellipse cx="118.9" cy="56.9" rx="1.2" ry="0.8" fill="rgb(159,165,35)" opacity="0.78" transform="rotate(57 118.9 56.9)"/>
<ellipse cx="23.2" cy="51.6" rx="1.8" ry="1.2" fill="rgb(50,66,10)" opacity="0.78" transform="rotate(178 23.2 51.6)"/>
<ellipse cx="54.6" cy="63.6" rx="2.3" ry="1.6" fill="rgb(194,193,47)" opacity="0.78" transform="rotate(57 54.6 63.6)"/>
<ellipse cx="62.2" cy="109.6" rx="2.0" ry="1.4" fill="rgb(178,180,42)" opacity="0.78" transform="rotate(62 62.2 109.6)"/>
<ellipse cx="140.4" cy="89.4" rx="2.4" ry="1.7" fill="rgb(244,230,68)" opacity="0.78" transform="rotate(110 140.4 89.4)"/>
<ellipse cx="95.3" cy="109.2" rx="2.0" ry="1.4" fill="rgb(76,93,14)" opacity="0.78" transform="rotate(152 95.3 109.2)"/>
<ellipse cx="38.8" cy="31.0" rx="1.3" ry="0.9" fill="rgb(56,73,10)" opacity="0.78" transform="rotate(75 38.8 31.0)"/>
<ellipse cx="48.7" cy="94.4" rx="1.4" ry="1.0" fill="rgb(244,230,68)" opacity="0.78" transform="rotate(17 48.7 94.4)"/>
<ellipse cx="58.5" cy="48.5" rx="2.4" ry="1.7" fill="rgb(147,155,31)" opacity="0.78" transform="rotate(132 58.5 48.5)"/>
<ellipse cx="108.5" cy="59.0" rx="1.3" ry="0.9" fill="rgb(91,107,17)" opacity="0.78" transform="rotate(51 108.5 59.0)"/>
<ellipse cx="56.1" cy="102.0" rx="1.5" ry="1.0" fill="rgb(174,177,40)" opacity="0.78" transform="rotate(60 56.1 102.0)"/>
<ellipse cx="56.4" cy="127.9" rx="1.2" ry="0.9" fill="rgb(161,167,36)" opacity="0.78" transform="rotate(163 56.4 127.9)"/>
<ellipse cx="63.4" cy="55.4" rx="2.6" ry="1.8" fill="rgb(111,126,21)" opacity="0.78" transform="rotate(24 63.4 55.4)"/>
<ellipse cx="80.2" cy="109.0" rx="1.3" ry="0.9" fill="rgb(85,102,15)" opacity="0.78" transform="rotate(109 80.2 109.0)"/>
<ellipse cx="32.8" cy="80.0" rx="2.2" ry="1.5" fill="rgb(104,119,19)" opacity="0.78" transform="rotate(70 32.8 80.0)"/>
<ellipse cx="92.9" cy="89.5" rx="2.1" ry="1.5" fill="rgb(86,102,15)" opacity="0.78" transform="rotate(94 92.9 89.5)"/>
<ellipse cx="115.7" cy="96.0" rx="2.7" ry="1.9" fill="rgb(99,115,18)" opacity="0.78" transform="rotate(66 115.7 96.0)"/>
<ellipse cx="31.1" cy="108.3" rx="2.6" ry="1.8" fill="rgb(124,136,25)" opacity="0.78" transform="rotate(164 31.1 108.3)"/>
<ellipse cx="94.4" cy="113.1" rx="1.5" ry="1.1" fill="rgb(137,147,28)" opacity="0.78" transform="rotate(100 94.4 113.1)"/>
<ellipse cx="82.7" cy="151.4" rx="2.3" ry="1.6" fill="rgb(96,111,18)" opacity="0.78" transform="rotate(101 82.7 151.4)"/>
<ellipse cx="71.2" cy="63.4" rx="2.6" ry="1.8" fill="rgb(228,218,61)" opacity="0.78" transform="rotate(139 71.2 63.4)"/>
<ellipse cx="97.0" cy="44.6" rx="2.2" ry="1.5" fill="rgb(76,93,14)" opacity="0.78" transform="rotate(86 97.0 44.6)"/>
<ellipse cx="123.0" cy="91.6" rx="2.1" ry="1.5" fill="rgb(244,230,68)" opacity="0.78" transform="rotate(84 123.0 91.6)"/>
<ellipse cx="137.1" cy="60.3" rx="1.6" ry="1.1" fill="rgb(194,192,47)" opacity="0.78" transform="rotate(111 137.1 60.3)"/>
<ellipse cx="37.2" cy="83.8" rx="2.3" ry="1.6" fill="rgb(221,213,58)" opacity="0.78" transform="rotate(24 37.2 83.8)"/>
<ellipse cx="85.4" cy="88.8" rx="1.7" ry="1.2" fill="rgb(192,191,47)" opacity="0.78" transform="rotate(95 85.4 88.8)"/>
<ellipse cx="69.6" cy="67.8" rx="1.4" ry="0.9" fill="rgb(244,230,68)" opacity="0.78" transform="rotate(169 69.6 67.8)"/>
<ellipse cx="116.1" cy="97.2" rx="2.8" ry="1.9" fill="rgb(120,133,23)" opacity="0.78" transform="rotate(26 116.1 97.2)"/>
<ellipse cx="133.4" cy="56.5" rx="1.9" ry="1.4" fill="rgb(112,126,22)" opacity="0.78" transform="rotate(115 133.4 56.5)"/>
<ellipse cx="69.4" cy="122.7" rx="1.4" ry="1.0" fill="rgb(173,177,40)" opacity="0.78" transform="rotate(29 69.4 122.7)"/>
<ellipse cx="31.1" cy="150.9" rx="1.3" ry="0.9" fill="rgb(103,118,19)" opacity="0.78" transform="rotate(4 31.1 150.9)"/>
<ellipse cx="91.8" cy="77.1" rx="2.7" ry="1.9" fill="rgb(67,84,12)" opacity="0.78" transform="rotate(9 91.8 77.1)"/>
<ellipse cx="88.7" cy="154.1" rx="1.8" ry="1.2" fill="rgb(63,80,11)" opacity="0.78" transform="rotate(24 88.7 154.1)"/>
<ellipse cx="73.2" cy="87.4" rx="1.4" ry="1.0" fill="rgb(127,139,25)" opacity="0.78" transform="rotate(80 73.2 87.4)"/>
<ellipse cx="58.0" cy="87.2" rx="1.4" ry="1.0" fill="rgb(244,230,68)" opacity="0.78" transform="rotate(129 58.0 87.2)"/>
<ellipse cx="83.3" cy="153.6" rx="2.0" ry="1.4" fill="rgb(109,124,21)" opacity="0.78" transform="rotate(148 83.3 153.6)"/>
<ellipse cx="136.8" cy="104.6" rx="2.3" ry="1.6" fill="rgb(165,170,37)" opacity="0.78" transform="rotate(180 136.8 104.6)"/>
<ellipse cx="46.5" cy="110.3" rx="2.4" ry="1.7" fill="rgb(244,230,68)" opacity="0.78" transform="rotate(62 46.5 110.3)"/>
<ellipse cx="39.7" cy="72.5" rx="2.4" ry="1.7" fill="rgb(152,160,33)" opacity="0.78" transform="rotate(155 39.7 72.5)"/>
<ellipse cx="110.4" cy="103.5" rx="2.6" ry="1.8" fill="rgb(150,158,32)" opacity="0.78" transform="rotate(25 110.4 103.5)"/>
<ellipse cx="40.9" cy="90.4" rx="1.8" ry="1.3" fill="rgb(244,230,68)" opacity="0.78" transform="rotate(44 40.9 90.4)"/>
<ellipse cx="120.3" cy="149.6" rx="1.8" ry="1.3" fill="rgb(141,150,29)" opacity="0.78" transform="rotate(126 120.3 149.6)"/>
<ellipse cx="107.4" cy="65.3" rx="1.8" ry="1.3" fill="rgb(157,164,35)" opacity="0.78" transform="rotate(138 107.4 65.3)"/>
<ellipse cx="101.2" cy="99.0" rx="2.6" ry="1.8" fill="rgb(99,114,18)" opacity="0.78" transform="rotate(36 101.2 99.0)"/>
<ellipse cx="72.8" cy="133.0" rx="2.7" ry="1.9" fill="rgb(103,118,19)" opacity="0.78" transform="rotate(78 72.8 133.0)"/>
<ellipse cx="40.2" cy="114.5" rx="1.4" ry="1.0" fill="rgb(244,230,68)" opacity="0.78" transform="rotate(1 40.2 114.5)"/>
<ellipse cx="48.7" cy="35.0" rx="2.5" ry="1.8" fill="rgb(101,117,19)" opacity="0.78" transform="rotate(138 48.7 35.0)"/>
<ellipse cx="125.0" cy="43.5" rx="2.5" ry="1.7" fill="rgb(45,61,9)" opacity="0.78" transform="rotate(170 125.0 43.5)"/>
<ellipse cx="23.5" cy="74.6" rx="2.2" ry="1.5" fill="rgb(78,95,14)" opacity="0.78" transform="rotate(88 23.5 74.6)"/>
<ellipse cx="45.5" cy="120.0" rx="1.8" ry="1.2" fill="rgb(155,162,34)" opacity="0.78" transform="rotate(163 45.5 120.0)"/>
<ellipse cx="19.9" cy="37.7" rx="2.0" ry="1.4" fill="rgb(42,57,9)" opacity="0.78" transform="rotate(126 19.9 37.7)"/>
<ellipse cx="139.8" cy="85.8" rx="2.6" ry="1.8" fill="rgb(244,230,68)" opacity="0.78" transform="rotate(96 139.8 85.8)"/>
<ellipse cx="62.6" cy="39.0" rx="2.6" ry="1.8" fill="rgb(106,121,20)" opacity="0.78" transform="rotate(150 62.6 39.0)"/>
<ellipse cx="71.6" cy="149.9" rx="2.8" ry="1.9" fill="rgb(138,148,29)" opacity="0.78" transform="rotate(4 71.6 149.9)"/>
<ellipse cx="63.0" cy="153.4" rx="2.6" ry="1.8" fill="rgb(167,171,38)" opacity="0.78" transform="rotate(95 63.0 153.4)"/>
<ellipse cx="124.5" cy="137.9" rx="1.2" ry="0.9" fill="rgb(223,215,59)" opacity="0.78" transform="rotate(50 124.5 137.9)"/>
<ellipse cx="100.8" cy="112.5" rx="2.3" ry="1.6" fill="rgb(140,149,29)" opacity="0.78" transform="rotate(79 100.8 112.5)"/>
<ellipse cx="57.9" cy="77.0" rx="2.7" ry="1.9" fill="rgb(244,230,68)" opacity="0.78" transform="rotate(162 57.9 77.0)"/>
<ellipse cx="65.6" cy="73.6" rx="1.7" ry="1.2" fill="rgb(108,122,20)" opacity="0.78" transform="rotate(114 65.6 73.6)"/>
<ellipse cx="83.9" cy="105.9" rx="2.3" ry="1.6" fill="rgb(117,130,23)" opacity="0.78" transform="rotate(109 83.9 105.9)"/>
<ellipse cx="15.5" cy="61.5" rx="1.6" ry="1.1" fill="rgb(55,71,10)" opacity="0.78" transform="rotate(76 15.5 61.5)"/>
<ellipse cx="66.7" cy="93.3" rx="1.3" ry="0.9" fill="rgb(110,125,21)" opacity="0.78" transform="rotate(170 66.7 93.3)"/>
<ellipse cx="35.5" cy="34.3" rx="2.1" ry="1.5" fill="rgb(99,115,18)" opacity="0.78" transform="rotate(92 35.5 34.3)"/>
<ellipse cx="45.1" cy="81.1" rx="1.5" ry="1.1" fill="rgb(128,140,26)" opacity="0.78" transform="rotate(116 45.1 81.1)"/>
<ellipse cx="56.2" cy="58.3" rx="2.6" ry="1.8" fill="rgb(189,188,45)" opacity="0.78" transform="rotate(98 56.2 58.3)"/>
<ellipse cx="38.7" cy="133.8" rx="2.0" ry="1.4" fill="rgb(185,186,44)" opacity="0.78" transform="rotate(161 38.7 133.8)"/>
<ellipse cx="54.5" cy="122.9" rx="2.6" ry="1.8" fill="rgb(244,230,68)" opacity="0.78" transform="rotate(96 54.5 122.9)"/>
<ellipse cx="139.4" cy="74.8" rx="1.7" ry="1.2" fill="rgb(244,230,68)" opacity="0.78" transform="rotate(49 139.4 74.8)"/>
<ellipse cx="23.5" cy="121.6" rx="1.4" ry="1.0" fill="rgb(92,108,17)" opacity="0.78" transform="rotate(131 23.5 121.6)"/>
<ellipse cx="63.0" cy="107.2" rx="2.7" ry="1.9" fill="rgb(224,215,59)" opacity="0.78" transform="rotate(173 63.0 107.2)"/>
<ellipse cx="100.5" cy="96.4" rx="2.8" ry="2.0" fill="rgb(157,164,35)" opacity="0.78" transform="rotate(3 100.5 96.4)"/>
<ellipse cx="76.2" cy="148.5" rx="1.8" ry="1.3" fill="rgb(138,148,29)" opacity="0.78" transform="rotate(87 76.2 148.5)"/>
<ellipse cx="84.9" cy="81.2" rx="2.1" ry="1.5" fill="rgb(151,159,33)" opacity="0.78" transform="rotate(10 84.9 81.2)"/>
<ellipse cx="82.7" cy="85.1" rx="1.4" ry="1.0" fill="rgb(183,184,43)" opacity="0.78" transform="rotate(155 82.7 85.1)"/>
<ellipse cx="99.7" cy="53.2" rx="1.6" ry="1.1" fill="rgb(71,89,13)" opacity="0.78" transform="rotate(134 99.7 53.2)"/>
<ellipse cx="39.7" cy="93.0" rx="1.8" ry="1.3" fill="rgb(221,213,58)" opacity="0.78" transform="rotate(170 39.7 93.0)"/>
<ellipse cx="76.9" cy="85.1" rx="1.8" ry="1.2" fill="rgb(92,109,17)" opacity="0.78" transform="rotate(89 76.9 85.1)"/>
<ellipse cx="31.2" cy="127.4" rx="2.3" ry="1.6" fill="rgb(197,195,49)" opacity="0.78" transform="rotate(32 31.2 127.4)"/>
<ellipse cx="48.4" cy="99.3" rx="1.3" ry="0.9" fill="rgb(244,230,68)" opacity="0.78" transform="rotate(101 48.4 99.3)"/>
<ellipse cx="35.6" cy="124.5" rx="2.0" ry="1.4" fill="rgb(147,155,31)" opacity="0.78" transform="rotate(50 35.6 124.5)"/>
<ellipse cx="80.6" cy="146.8" rx="2.6" ry="1.9" fill="rgb(150,158,32)" opacity="0.78" transform="rotate(57 80.6 146.8)"/>
<ellipse cx="50.2" cy="112.8" rx="2.5" ry="1.7" fill="rgb(135,146,28)" opacity="0.78" transform="rotate(160 50.2 112.8)"/>
<ellipse cx="59.1" cy="128.5" rx="2.6" ry="1.8" fill="rgb(128,140,26)" opacity="0.78" transform="rotate(139 59.1 128.5)"/>
<ellipse cx="33.0" cy="118.4" rx="2.3" ry="1.6" fill="rgb(169,173,39)" opacity="0.78" transform="rotate(11 33.0 118.4)"/>
<ellipse cx="44.0" cy="27.5" rx="2.9" ry="2.0" fill="rgb(106,121,20)" opacity="0.78" transform="rotate(53 44.0 27.5)"/>
<ellipse cx="124.1" cy="75.7" rx="2.5" ry="1.8" fill="rgb(119,132,23)" opacity="0.78" transform="rotate(131 124.1 75.7)"/>
<ellipse cx="131.8" cy="58.9" rx="1.4" ry="1.0" fill="rgb(196,194,48)" opacity="0.78" transform="rotate(93 131.8 58.9)"/>
<ellipse cx="76.2" cy="153.1" rx="1.2" ry="0.9" fill="rgb(100,116,19)" opacity="0.78" transform="rotate(80 76.2 153.1)"/>
<ellipse cx="38.4" cy="28.2" rx="1.4" ry="1.0" fill="rgb(74,91,13)" opacity="0.78" transform="rotate(168 38.4 28.2)"/>
<ellipse cx="48.1" cy="118.7" rx="2.1" ry="1.5" fill="rgb(219,211,57)" opacity="0.78" transform="rotate(120 48.1 118.7)"/>
<ellipse cx="115.0" cy="151.7" rx="1.6" ry="1.1" fill="rgb(87,104,16)" opacity="0.78" transform="rotate(85 115.0 151.7)"/>
<ellipse cx="108.7" cy="97.9" rx="1.9" ry="1.3" fill="rgb(102,117,19)" opacity="0.78" transform="rotate(110 108.7 97.9)"/>
<ellipse cx="39.9" cy="90.9" rx="1.5" ry="1.0" fill="rgb(162,168,36)" opacity="0.78" transform="rotate(76 39.9 90.9)"/>
<ellipse cx="137.3" cy="34.0" rx="2.4" ry="1.7" fill="rgb(41,55,9)" opacity="0.78" transform="rotate(114 137.3 34.0)"/>
<ellipse cx="31.3" cy="37.9" rx="2.2" ry="1.5" fill="rgb(57,74,10)" opacity="0.78" transform="rotate(13 31.3 37.9)"/>
<ellipse cx="122.8" cy="135.8" rx="2.2" ry="1.5" fill="rgb(225,216,60)" opacity="0.78" transform="rotate(117 122.8 135.8)"/>
<ellipse cx="36.7" cy="118.1" rx="2.2" ry="1.5" fill="rgb(244,230,68)" opacity="0.78" transform="rotate(157 36.7 118.1)"/>
<ellipse cx="25.3" cy="114.3" rx="1.9" ry="1.3" fill="rgb(132,144,27)" opacity="0.78" transform="rotate(31 25.3 114.3)"/>
<ellipse cx="86.1" cy="80.3" rx="2.7" ry="1.9" fill="rgb(77,94,14)" opacity="0.78" transform="rotate(156 86.1 80.3)"/>
<ellipse cx="51.6" cy="102.4" rx="1.9" ry="1.3" fill="rgb(244,230,68)" opacity="0.78" transform="rotate(163 51.6 102.4)"/>
<ellipse cx="74.5" cy="133.8" rx="1.7" ry="1.2" fill="rgb(104,119,20)" opacity="0.78" transform="rotate(78 74.5 133.8)"/>
<ellipse cx="67.4" cy="118.2" rx="2.4" ry="1.7" fill="rgb(112,126,22)" opacity="0.78" transform="rotate(155 67.4 118.2)"/>
<ellipse cx="30.0" cy="47.5" rx="1.6" ry="1.1" fill="rgb(75,92,13)" opacity="0.78" transform="rotate(101 30.0 47.5)"/>
<ellipse cx="31.4" cy="143.5" rx="1.6" ry="1.1" fill="rgb(182,184,43)" opacity="0.78" transform="rotate(34 31.4 143.5)"/>
<ellipse cx="127.1" cy="95.3" rx="1.8" ry="1.3" fill="rgb(199,196,49)" opacity="0.78" transform="rotate(34 127.1 95.3)"/>
<ellipse cx="88.1" cy="125.7" rx="1.7" ry="1.2" fill="rgb(141,151,30)" opacity="0.78" transform="rotate(176 88.1 125.7)"/>
<ellipse cx="136.4" cy="89.2" rx="2.7" ry="1.9" fill="rgb(216,209,56)" opacity="0.78" transform="rotate(138 136.4 89.2)"/>
<ellipse cx="95.6" cy="64.3" rx="1.5" ry="1.0" fill="rgb(83,100,15)" opacity="0.78" transform="rotate(32 95.6 64.3)"/>
<ellipse cx="48.3" cy="40.0" rx="1.6" ry="1.1" fill="rgb(107,121,20)" opacity="0.78" transform="rotate(22 48.3 40.0)"/>
<ellipse cx="83.5" cy="102.8" rx="1.8" ry="1.2" fill="rgb(177,180,41)" opacity="0.78" transform="rotate(4 83.5 102.8)"/>
<ellipse cx="116.0" cy="67.0" rx="2.1" ry="1.5" fill="rgb(175,178,40)" opacity="0.78" transform="rotate(14 116.0 67.0)"/>
<ellipse cx="43" cy="100.5" rx="6" ry="5.5" fill="#e8e050" opacity="0.9"/>
<ellipse cx="40" cy="97" rx="3.5" ry="3" fill="#f0e860" opacity="0.85"/>
<ellipse cx="48" cy="106" rx="3.5" ry="2.5" fill="#e0d848" opacity="0.8"/>
<ellipse cx="137" cy="92" rx="3" ry="4" fill="#e0d040" opacity="0.8"/>
<ellipse cx="133" cy="70" rx="2.5" ry="3" fill="#d8d040" opacity="0.75"/>
</g>
<g filter="url(#blurA3)">
<ellipse cx="55.3" cy="113.6" rx="2.0" ry="1.8" fill="#e05a24" opacity="0.86" transform="rotate(115 55.3 113.6)"/>
<ellipse cx="49.0" cy="34.1" rx="2.1" ry="1.4" fill="#e05a24" opacity="0.75" transform="rotate(138 49.0 34.1)"/>
<ellipse cx="32.7" cy="142.3" rx="1.4" ry="1.0" fill="#e66a2a" opacity="0.70" transform="rotate(172 32.7 142.3)"/>
<ellipse cx="9.2" cy="54.1" rx="1.9" ry="1.7" fill="#f07030" opacity="0.78" transform="rotate(38 9.2 54.1)"/>
<ellipse cx="106.9" cy="75.0" rx="1.5" ry="1.4" fill="#f07030" opacity="0.89" transform="rotate(77 106.9 75.0)"/>
<ellipse cx="13.6" cy="80.0" rx="1.8" ry="1.2" fill="#e05a24" opacity="0.93" transform="rotate(135 13.6 80.0)"/>
<ellipse cx="52.4" cy="108.0" rx="2.1" ry="1.8" fill="#e05a24" opacity="0.95" transform="rotate(38 52.4 108.0)"/>
<ellipse cx="61.1" cy="97.0" rx="1.7" ry="1.6" fill="#ec7434" opacity="0.68" transform="rotate(145 61.1 97.0)"/>
<ellipse cx="61.4" cy="53.4" rx="1.8" ry="1.4" fill="#e05a24" opacity="0.94" transform="rotate(143 61.4 53.4)"/>
<ellipse cx="131.1" cy="98.8" rx="1.7" ry="1.4" fill="#e66a2a" opacity="0.73" transform="rotate(110 131.1 98.8)"/>
<ellipse cx="18.9" cy="39.2" rx="1.4" ry="1.1" fill="#e66a2a" opacity="0.94" transform="rotate(61 18.9 39.2)"/>
<ellipse cx="38.0" cy="52.0" rx="1.5" ry="1.0" fill="#e05a24" opacity="0.80" transform="rotate(172 38.0 52.0)"/>
<ellipse cx="108.6" cy="98.0" rx="1.4" ry="1.1" fill="#e06028" opacity="0.79" transform="rotate(24 108.6 98.0)"/>
<ellipse cx="70.0" cy="103.5" rx="2.0" ry="1.8" fill="#e66a2a" opacity="0.94" transform="rotate(125 70.0 103.5)"/>
<ellipse cx="122.7" cy="53.2" rx="1.8" ry="1.5" fill="#e06028" opacity="0.65" transform="rotate(90 122.7 53.2)"/>
<ellipse cx="128.9" cy="73.6" rx="2.1" ry="1.9" fill="#e06028" opacity="0.97" transform="rotate(84 128.9 73.6)"/>
<ellipse cx="69.5" cy="151.4" rx="1.4" ry="1.2" fill="#e8682c" opacity="0.78" transform="rotate(104 69.5 151.4)"/>
<ellipse cx="79.1" cy="148.0" rx="1.3" ry="1.2" fill="#e06028" opacity="0.89" transform="rotate(164 79.1 148.0)"/>
<ellipse cx="133.0" cy="137.5" rx="2.0" ry="1.3" fill="#ec7434" opacity="0.66" transform="rotate(75 133.0 137.5)"/>
<ellipse cx="42.3" cy="71.0" rx="1.5" ry="1.3" fill="#e66a2a" opacity="0.81" transform="rotate(152 42.3 71.0)"/>
<ellipse cx="54.6" cy="41.8" rx="2.1" ry="1.9" fill="#ec7434" opacity="0.81" transform="rotate(60 54.6 41.8)"/>
<ellipse cx="136.0" cy="144.0" rx="1.5" ry="1.2" fill="#e66a2a" opacity="0.82" transform="rotate(64 136.0 144.0)"/>
<ellipse cx="35.1" cy="135.2" rx="1.7" ry="1.4" fill="#f07030" opacity="0.93" transform="rotate(112 35.1 135.2)"/>
<ellipse cx="47.8" cy="48.1" rx="2.0" ry="1.6" fill="#f07030" opacity="0.74" transform="rotate(151 47.8 48.1)"/>
<ellipse cx="121.9" cy="138.1" rx="1.3" ry="1.1" fill="#e05a24" opacity="0.95" transform="rotate(81 121.9 138.1)"/>
<ellipse cx="11.4" cy="79.4" rx="1.8" ry="1.7" fill="#f07030" opacity="0.98" transform="rotate(163 11.4 79.4)"/>
<ellipse cx="100.0" cy="37.1" rx="1.6" ry="1.6" fill="#e06028" opacity="0.80" transform="rotate(121 100.0 37.1)"/>
<ellipse cx="131.4" cy="126.9" rx="1.4" ry="1.1" fill="#ec7434" opacity="0.71" transform="rotate(25 131.4 126.9)"/>
<ellipse cx="98.0" cy="35.6" rx="1.7" ry="1.1" fill="#f07030" opacity="0.88" transform="rotate(94 98.0 35.6)"/>
<ellipse cx="63.0" cy="150.6" rx="1.4" ry="1.2" fill="#ec7434" opacity="0.72" transform="rotate(118 63.0 150.6)"/>
<ellipse cx="46.7" cy="35.4" rx="2.1" ry="1.4" fill="#e06028" opacity="0.73" transform="rotate(161 46.7 35.4)"/>
<ellipse cx="115.7" cy="53.9" rx="2.0" ry="1.8" fill="#e05a24" opacity="0.98" transform="rotate(111 115.7 53.9)"/>
<ellipse cx="79.6" cy="125.9" rx="1.5" ry="1.3" fill="#e06028" opacity="0.67" transform="rotate(78 79.6 125.9)"/>
<ellipse cx="24.4" cy="46.5" rx="2.1" ry="1.9" fill="#ec7434" opacity="0.65" transform="rotate(18 24.4 46.5)"/>
<ellipse cx="84.9" cy="91.1" rx="2.1" ry="2.0" fill="#f07030" opacity="0.72" transform="rotate(88 84.9 91.1)"/>
<ellipse cx="63.2" cy="148.4" rx="1.8" ry="1.5" fill="#e06028" opacity="0.72" transform="rotate(1 63.2 148.4)"/>
<ellipse cx="118.5" cy="120.4" rx="2.0" ry="1.3" fill="#e66a2a" opacity="0.91" transform="rotate(179 118.5 120.4)"/>
<ellipse cx="68.1" cy="99.8" rx="2.0" ry="1.7" fill="#ec7434" opacity="0.76" transform="rotate(68 68.1 99.8)"/>
<ellipse cx="109.4" cy="135.9" rx="1.5" ry="1.4" fill="#e8682c" opacity="0.67" transform="rotate(18 109.4 135.9)"/>
<ellipse cx="127.3" cy="129.4" rx="1.6" ry="1.1" fill="#e66a2a" opacity="0.82" transform="rotate(23 127.3 129.4)"/>
<ellipse cx="112.7" cy="38.8" rx="1.3" ry="1.2" fill="#e66a2a" opacity="0.83" transform="rotate(60 112.7 38.8)"/>
<ellipse cx="60.8" cy="51.9" rx="1.8" ry="1.5" fill="#e05a24" opacity="0.80" transform="rotate(145 60.8 51.9)"/>
<ellipse cx="130.4" cy="148.8" rx="1.9" ry="1.4" fill="#e06028" opacity="1.00" transform="rotate(100 130.4 148.8)"/>
<ellipse cx="138.5" cy="30.9" rx="1.4" ry="1.3" fill="#ec7434" opacity="0.72" transform="rotate(77 138.5 30.9)"/>
<ellipse cx="77.1" cy="123.2" rx="1.6" ry="1.4" fill="#e66a2a" opacity="0.98" transform="rotate(59 77.1 123.2)"/>
<ellipse cx="84.1" cy="76.3" rx="1.3" ry="0.9" fill="#e06028" opacity="0.84" transform="rotate(124 84.1 76.3)"/>
<ellipse cx="117.2" cy="103.9" rx="1.8" ry="1.4" fill="#e06028" opacity="0.77" transform="rotate(164 117.2 103.9)"/>
<ellipse cx="31.5" cy="57.5" rx="1.3" ry="1.0" fill="#e05a24" opacity="0.73" transform="rotate(77 31.5 57.5)"/>
<ellipse cx="128.2" cy="98.4" rx="1.8" ry="1.6" fill="#e06028" opacity="0.88" transform="rotate(138 128.2 98.4)"/>
<ellipse cx="112.8" cy="39.5" rx="1.5" ry="1.2" fill="#f07030" opacity="0.95" transform="rotate(41 112.8 39.5)"/>
<ellipse cx="73.7" cy="23.8" rx="1.6" ry="1.1" fill="#e8682c" opacity="0.94" transform="rotate(175 73.7 23.8)"/>
<ellipse cx="40.9" cy="65.3" rx="1.6" ry="1.2" fill="#e8682c" opacity="0.83" transform="rotate(79 40.9 65.3)"/>
<ellipse cx="105.7" cy="87.4" rx="1.5" ry="1.3" fill="#ec7434" opacity="0.88" transform="rotate(123 105.7 87.4)"/>
<ellipse cx="125.8" cy="39.0" rx="1.8" ry="1.2" fill="#e06028" opacity="0.71" transform="rotate(138 125.8 39.0)"/>
<ellipse cx="58.5" cy="32.0" rx="2.0" ry="1.8" fill="#e06028" opacity="0.68" transform="rotate(29 58.5 32.0)"/>
<ellipse cx="31.5" cy="68.2" rx="2.0" ry="1.8" fill="#ec7434" opacity="0.75" transform="rotate(50 31.5 68.2)"/>
<ellipse cx="43.1" cy="98.0" rx="1.5" ry="1.1" fill="#e8682c" opacity="0.80" transform="rotate(135 43.1 98.0)"/>
<ellipse cx="33.1" cy="40.8" rx="1.8" ry="1.5" fill="#e05a24" opacity="0.92" transform="rotate(178 33.1 40.8)"/>
<ellipse cx="107.6" cy="50.4" rx="1.4" ry="1.0" fill="#f07030" opacity="0.79" transform="rotate(120 107.6 50.4)"/>
<ellipse cx="54.9" cy="138.8" rx="1.3" ry="1.0" fill="#e05a24" opacity="0.98" transform="rotate(4 54.9 138.8)"/>
<ellipse cx="40.5" cy="100.0" rx="1.6" ry="1.5" fill="#ec7434" opacity="0.85" transform="rotate(143 40.5 100.0)"/>
<ellipse cx="108.6" cy="51.3" rx="1.6" ry="1.2" fill="#ec7434" opacity="0.73" transform="rotate(18 108.6 51.3)"/>
<ellipse cx="73.9" cy="145.8" rx="1.6" ry="1.0" fill="#ec7434" opacity="0.71" transform="rotate(78 73.9 145.8)"/>
<ellipse cx="48.1" cy="86.9" rx="2.0" ry="1.6" fill="#e06028" opacity="0.82" transform="rotate(70 48.1 86.9)"/>
<ellipse cx="78.4" cy="73.7" rx="1.3" ry="1.0" fill="#e06028" opacity="0.75" transform="rotate(90 78.4 73.7)"/>
<ellipse cx="111.0" cy="64.9" rx="1.8" ry="1.6" fill="#f07030" opacity="0.70" transform="rotate(52 111.0 64.9)"/>
<ellipse cx="127.6" cy="52.4" rx="1.4" ry="1.1" fill="#e05a24" opacity="0.85" transform="rotate(10 127.6 52.4)"/>
<ellipse cx="79.0" cy="99.0" rx="1.9" ry="1.5" fill="#e66a2a" opacity="0.82" transform="rotate(96 79.0 99.0)"/>
<ellipse cx="129.3" cy="71.2" rx="2.1" ry="1.5" fill="#e06028" opacity="0.71" transform="rotate(140 129.3 71.2)"/>
<ellipse cx="102.4" cy="126.6" rx="2.1" ry="1.6" fill="#f07030" opacity="0.82" transform="rotate(122 102.4 126.6)"/>
<ellipse cx="35.4" cy="88.0" rx="1.5" ry="1.1" fill="#e8682c" opacity="0.69" transform="rotate(67 35.4 88.0)"/>
<ellipse cx="103.7" cy="117.9" rx="2.0" ry="1.5" fill="#e8682c" opacity="0.98" transform="rotate(152 103.7 117.9)"/>
<ellipse cx="128.5" cy="107.2" rx="2.1" ry="1.9" fill="#f07030" opacity="0.81" transform="rotate(36 128.5 107.2)"/>
<ellipse cx="36.4" cy="125.8" rx="1.5" ry="1.4" fill="#e8682c" opacity="0.97" transform="rotate(118 36.4 125.8)"/>
<ellipse cx="18.0" cy="73.8" rx="1.5" ry="1.3" fill="#e8682c" opacity="0.70" transform="rotate(129 18.0 73.8)"/>
<ellipse cx="30.9" cy="64.0" rx="1.6" ry="1.1" fill="#f07030" opacity="0.75" transform="rotate(103 30.9 64.0)"/>
<ellipse cx="10.5" cy="102.8" rx="1.9" ry="1.5" fill="#f07030" opacity="0.73" transform="rotate(26 10.5 102.8)"/>
<ellipse cx="38.8" cy="29.2" rx="1.3" ry="1.0" fill="#e05a24" opacity="0.77" transform="rotate(178 38.8 29.2)"/>
<ellipse cx="21.8" cy="98.7" rx="1.5" ry="1.4" fill="#e66a2a" opacity="0.68" transform="rotate(102 21.8 98.7)"/>
<ellipse cx="22.9" cy="29.8" rx="1.8" ry="1.7" fill="#e06028" opacity="0.95" transform="rotate(31 22.9 29.8)"/>
<ellipse cx="134.3" cy="54.8" rx="1.4" ry="1.2" fill="#e8682c" opacity="0.86" transform="rotate(159 134.3 54.8)"/>
<ellipse cx="36.4" cy="142.8" rx="1.6" ry="1.1" fill="#e05a24" opacity="0.94" transform="rotate(46 36.4 142.8)"/>
<ellipse cx="76.8" cy="37.9" rx="1.8" ry="1.2" fill="#e8682c" opacity="0.75" transform="rotate(96 76.8 37.9)"/>
<ellipse cx="85.1" cy="54.2" rx="2.0" ry="1.5" fill="#ec7434" opacity="0.81" transform="rotate(97 85.1 54.2)"/>
<ellipse cx="138.3" cy="106.4" rx="1.8" ry="1.3" fill="#ec7434" opacity="0.65" transform="rotate(38 138.3 106.4)"/>
<ellipse cx="11.6" cy="89.3" rx="1.8" ry="1.6" fill="#ec7434" opacity="0.97" transform="rotate(23 11.6 89.3)"/>
<ellipse cx="46.8" cy="56.4" rx="1.7" ry="1.2" fill="#ec7434" opacity="0.73" transform="rotate(84 46.8 56.4)"/>
<ellipse cx="131.9" cy="55.4" rx="1.8" ry="1.2" fill="#e66a2a" opacity="0.75" transform="rotate(157 131.9 55.4)"/>
<ellipse cx="66.8" cy="112.2" rx="1.6" ry="1.4" fill="#e66a2a" opacity="0.81" transform="rotate(26 66.8 112.2)"/>
<ellipse cx="48.6" cy="107.4" rx="1.7" ry="1.5" fill="#ec7434" opacity="0.81" transform="rotate(132 48.6 107.4)"/>
<ellipse cx="55.1" cy="27.1" rx="2.1" ry="1.6" fill="#e06028" opacity="0.77" transform="rotate(50 55.1 27.1)"/>
<ellipse cx="55.8" cy="55.6" rx="1.6" ry="1.2" fill="#ec7434" opacity="0.86" transform="rotate(167 55.8 55.6)"/>
<ellipse cx="90.3" cy="28.7" rx="1.7" ry="1.1" fill="#f07030" opacity="0.67" transform="rotate(31 90.3 28.7)"/>
<ellipse cx="44.2" cy="148.4" rx="1.9" ry="1.3" fill="#e05a24" opacity="0.90" transform="rotate(1 44.2 148.4)"/>
<ellipse cx="126.4" cy="134.0" rx="1.4" ry="0.9" fill="#e05a24" opacity="0.84" transform="rotate(92 126.4 134.0)"/>
<ellipse cx="31.7" cy="151.5" rx="2.1" ry="1.6" fill="#e06028" opacity="0.74" transform="rotate(76 31.7 151.5)"/>
<ellipse cx="102.0" cy="83.1" rx="1.6" ry="1.4" fill="#f07030" opacity="0.71" transform="rotate(75 102.0 83.1)"/>
<ellipse cx="72.4" cy="108.9" rx="1.5" ry="1.4" fill="#e06028" opacity="0.96" transform="rotate(162 72.4 108.9)"/>
<ellipse cx="49.0" cy="34.2" rx="2.0" ry="1.8" fill="#e8682c" opacity="1.00" transform="rotate(158 49.0 34.2)"/>
<ellipse cx="65.1" cy="127.6" rx="1.8" ry="1.2" fill="#ec7434" opacity="0.70" transform="rotate(79 65.1 127.6)"/>
<ellipse cx="118.4" cy="83.8" rx="2.1" ry="1.8" fill="#e66a2a" opacity="0.77" transform="rotate(10 118.4 83.8)"/>
<ellipse cx="42.6" cy="89.5" rx="1.6" ry="1.3" fill="#f07030" opacity="0.75" transform="rotate(29 42.6 89.5)"/>
<ellipse cx="44.0" cy="132.0" rx="1.9" ry="1.7" fill="#e06028" opacity="0.65" transform="rotate(94 44.0 132.0)"/>
<ellipse cx="98.8" cy="87.0" rx="2.0" ry="1.4" fill="#e06028" opacity="0.68" transform="rotate(37 98.8 87.0)"/>
<ellipse cx="79.0" cy="88.0" rx="1.5" ry="1.2" fill="#e06028" opacity="0.66" transform="rotate(159 79.0 88.0)"/>
<ellipse cx="127.1" cy="149.7" rx="1.7" ry="1.2" fill="#e06028" opacity="0.75" transform="rotate(138 127.1 149.7)"/>
<ellipse cx="60.0" cy="78.5" rx="1.7" ry="1.6" fill="#e05a24" opacity="0.76" transform="rotate(2 60.0 78.5)"/>
<ellipse cx="85.1" cy="87.3" rx="1.9" ry="1.5" fill="#e8682c" opacity="0.72" transform="rotate(162 85.1 87.3)"/>
<ellipse cx="36.2" cy="64.6" rx="1.7" ry="1.2" fill="#e06028" opacity="0.94" transform="rotate(34 36.2 64.6)"/>
<ellipse cx="133.1" cy="116.6" rx="2.0" ry="1.8" fill="#e66a2a" opacity="0.93" transform="rotate(142 133.1 116.6)"/>
<ellipse cx="32.4" cy="67.2" rx="2.0" ry="1.8" fill="#e06028" opacity="0.82" transform="rotate(137 32.4 67.2)"/>
<ellipse cx="16.7" cy="31.1" rx="1.3" ry="1.2" fill="#e06028" opacity="1.00" transform="rotate(93 16.7 31.1)"/>
<ellipse cx="121.0" cy="92.6" rx="1.6" ry="1.3" fill="#e05a24" opacity="0.75" transform="rotate(134 121.0 92.6)"/>
<ellipse cx="99.4" cy="153.6" rx="1.7" ry="1.2" fill="#ec7434" opacity="0.80" transform="rotate(15 99.4 153.6)"/>
<ellipse cx="101.3" cy="150.6" rx="2.0" ry="1.6" fill="#e8682c" opacity="0.91" transform="rotate(111 101.3 150.6)"/>
<ellipse cx="34.3" cy="68.4" rx="2.0" ry="1.4" fill="#e06028" opacity="0.97" transform="rotate(54 34.3 68.4)"/>
<ellipse cx="50.6" cy="92.7" rx="1.9" ry="1.4" fill="#e66a2a" opacity="0.77" transform="rotate(57 50.6 92.7)"/>
<ellipse cx="68.8" cy="95.8" rx="1.8" ry="1.4" fill="#e8682c" opacity="0.75" transform="rotate(123 68.8 95.8)"/>
<ellipse cx="28.2" cy="47.0" rx="1.8" ry="1.4" fill="#f07030" opacity="0.93" transform="rotate(46 28.2 47.0)"/>
<ellipse cx="108.0" cy="33.9" rx="1.7" ry="1.5" fill="#e66a2a" opacity="0.84" transform="rotate(23 108.0 33.9)"/>
<ellipse cx="24.3" cy="32.7" rx="1.3" ry="1.2" fill="#e06028" opacity="0.78" transform="rotate(131 24.3 32.7)"/>
<ellipse cx="17.5" cy="138.4" rx="1.6" ry="1.5" fill="#ec7434" opacity="0.98" transform="rotate(110 17.5 138.4)"/>
<ellipse cx="123.5" cy="103.4" rx="1.6" ry="1.3" fill="#f07030" opacity="0.88" transform="rotate(126 123.5 103.4)"/>
<ellipse cx="84.3" cy="137.4" rx="1.8" ry="1.3" fill="#e8682c" opacity="0.72" transform="rotate(165 84.3 137.4)"/>
<ellipse cx="29.4" cy="123.6" rx="1.4" ry="1.3" fill="#e66a2a" opacity="0.72" transform="rotate(47 29.4 123.6)"/>
<ellipse cx="76.1" cy="48.3" rx="1.4" ry="1.0" fill="#e05a24" opacity="0.68" transform="rotate(138 76.1 48.3)"/>
<ellipse cx="74.1" cy="37.7" rx="2.1" ry="1.6" fill="#e05a24" opacity="0.66" transform="rotate(177 74.1 37.7)"/>
<ellipse cx="84.9" cy="68.3" rx="1.4" ry="1.3" fill="#ec7434" opacity="0.98" transform="rotate(13 84.9 68.3)"/>
<ellipse cx="81.4" cy="49.1" rx="1.9" ry="1.3" fill="#e05a24" opacity="0.83" transform="rotate(99 81.4 49.1)"/>
<ellipse cx="73.0" cy="135.0" rx="2.0" ry="1.6" fill="#f07030" opacity="0.69" transform="rotate(19 73.0 135.0)"/>
<ellipse cx="85.8" cy="83.6" rx="1.7" ry="1.3" fill="#ec7434" opacity="0.87" transform="rotate(109 85.8 83.6)"/>
<ellipse cx="133.5" cy="61.6" rx="1.6" ry="1.5" fill="#e05a24" opacity="0.92" transform="rotate(153 133.5 61.6)"/>
<ellipse cx="40.2" cy="87.4" rx="1.4" ry="0.9" fill="#e05a24" opacity="0.94" transform="rotate(173 40.2 87.4)"/>
<ellipse cx="72.6" cy="104.2" rx="2.1" ry="1.5" fill="#ec7434" opacity="0.88" transform="rotate(138 72.6 104.2)"/>
<ellipse cx="40.5" cy="102.0" rx="1.4" ry="0.9" fill="#e05a24" opacity="0.73" transform="rotate(34 40.5 102.0)"/>
<ellipse cx="112.4" cy="26.4" rx="1.9" ry="1.3" fill="#ec7434" opacity="0.81" transform="rotate(105 112.4 26.4)"/>
<ellipse cx="67.0" cy="104.9" rx="1.7" ry="1.3" fill="#e05a24" opacity="0.68" transform="rotate(138 67.0 104.9)"/>
<ellipse cx="107.8" cy="113.5" rx="1.6" ry="1.2" fill="#f07030" opacity="0.82" transform="rotate(120 107.8 113.5)"/>
<ellipse cx="33.5" cy="66.8" rx="1.9" ry="1.5" fill="#e06028" opacity="0.94" transform="rotate(127 33.5 66.8)"/>
<ellipse cx="60.3" cy="77.8" rx="1.7" ry="1.5" fill="#e06028" opacity="0.95" transform="rotate(126 60.3 77.8)"/>
<ellipse cx="110.0" cy="50.9" rx="2.0" ry="1.4" fill="#f07030" opacity="0.72" transform="rotate(16 110.0 50.9)"/>
<ellipse cx="129.2" cy="65.3" rx="1.4" ry="1.3" fill="#e05a24" opacity="0.73" transform="rotate(152 129.2 65.3)"/>
<ellipse cx="23.5" cy="109.3" rx="1.8" ry="1.6" fill="#ec7434" opacity="0.76" transform="rotate(157 23.5 109.3)"/>
<ellipse cx="32.7" cy="124.5" rx="1.6" ry="1.1" fill="#e66a2a" opacity="0.93" transform="rotate(16 32.7 124.5)"/>
<ellipse cx="11.8" cy="92.0" rx="2.0" ry="1.4" fill="#e8682c" opacity="0.84" transform="rotate(170 11.8 92.0)"/>
<ellipse cx="92.1" cy="142.2" rx="2.0" ry="1.4" fill="#e8682c" opacity="0.66" transform="rotate(14 92.1 142.2)"/>
<ellipse cx="30.1" cy="121.2" rx="1.4" ry="1.0" fill="#e8682c" opacity="0.83" transform="rotate(33 30.1 121.2)"/>
<ellipse cx="54.3" cy="119.5" rx="2.1" ry="1.9" fill="#f07030" opacity="0.82" transform="rotate(16 54.3 119.5)"/>
<ellipse cx="126.2" cy="96.8" rx="1.4" ry="1.0" fill="#f07030" opacity="0.90" transform="rotate(85 126.2 96.8)"/>
<ellipse cx="84.1" cy="131.0" rx="2.0" ry="1.6" fill="#e66a2a" opacity="0.99" transform="rotate(178 84.1 131.0)"/>
<ellipse cx="44.0" cy="33.8" rx="1.7" ry="1.4" fill="#e8682c" opacity="1.00" transform="rotate(39 44.0 33.8)"/>
<ellipse cx="43.0" cy="100.0" rx="1.4" ry="1.0" fill="#e05a24" opacity="0.78" transform="rotate(0 43.0 100.0)"/>
<ellipse cx="105.3" cy="58.1" rx="1.3" ry="1.2" fill="#e66a2a" opacity="0.94" transform="rotate(180 105.3 58.1)"/>
<ellipse cx="77.0" cy="87.7" rx="1.5" ry="1.4" fill="#e05a24" opacity="0.81" transform="rotate(43 77.0 87.7)"/>
<ellipse cx="116.3" cy="138.5" rx="1.9" ry="1.7" fill="#e8682c" opacity="0.67" transform="rotate(65 116.3 138.5)"/>
<ellipse cx="41.5" cy="127.7" rx="1.7" ry="1.5" fill="#e06028" opacity="0.85" transform="rotate(134 41.5 127.7)"/>
<ellipse cx="96.8" cy="75.3" rx="1.7" ry="1.2" fill="#e06028" opacity="0.82" transform="rotate(40 96.8 75.3)"/>
<ellipse cx="75.8" cy="97.9" rx="1.3" ry="1.0" fill="#ec7434" opacity="0.72" transform="rotate(119 75.8 97.9)"/>
<ellipse cx="17.0" cy="60.3" rx="1.4" ry="1.0" fill="#e05a24" opacity="0.93" transform="rotate(32 17.0 60.3)"/>
<ellipse cx="42.7" cy="144.7" rx="1.7" ry="1.5" fill="#e05a24" opacity="0.77" transform="rotate(2 42.7 144.7)"/>
<ellipse cx="23.5" cy="23.6" rx="1.3" ry="1.2" fill="#f07030" opacity="0.85" transform="rotate(164 23.5 23.6)"/>
<ellipse cx="50.7" cy="91.8" rx="2.0" ry="1.8" fill="#e05a24" opacity="0.74" transform="rotate(87 50.7 91.8)"/>
<ellipse cx="66.4" cy="46.2" rx="2.1" ry="1.4" fill="#e05a24" opacity="0.67" transform="rotate(115 66.4 46.2)"/>
<ellipse cx="107.5" cy="98.2" rx="1.7" ry="1.4" fill="#e05a24" opacity="0.74" transform="rotate(79 107.5 98.2)"/>
<ellipse cx="125.7" cy="122.2" rx="1.9" ry="1.7" fill="#e05a24" opacity="0.83" transform="rotate(27 125.7 122.2)"/>
<ellipse cx="46.8" cy="71.2" rx="1.6" ry="1.4" fill="#e8682c" opacity="0.82" transform="rotate(68 46.8 71.2)"/>
<ellipse cx="84.0" cy="148.1" rx="1.4" ry="1.2" fill="#e66a2a" opacity="0.96" transform="rotate(72 84.0 148.1)"/>
<ellipse cx="46.0" cy="140.4" rx="1.7" ry="1.1" fill="#f07030" opacity="0.69" transform="rotate(92 46.0 140.4)"/>
<ellipse cx="11.2" cy="134.0" rx="1.5" ry="1.1" fill="#ec7434" opacity="0.67" transform="rotate(63 11.2 134.0)"/>
<ellipse cx="37.4" cy="152.0" rx="2.0" ry="1.6" fill="#f07030" opacity="0.94" transform="rotate(130 37.4 152.0)"/>
<ellipse cx="52.3" cy="34.9" rx="1.3" ry="1.2" fill="#e05a24" opacity="0.66" transform="rotate(126 52.3 34.9)"/>
<ellipse cx="119.5" cy="108.0" rx="2.0" ry="1.3" fill="#e8682c" opacity="0.69" transform="rotate(93 119.5 108.0)"/>
<ellipse cx="28.1" cy="110.0" rx="1.5" ry="1.2" fill="#f07030" opacity="0.79" transform="rotate(161 28.1 110.0)"/>
<ellipse cx="94.5" cy="129.9" rx="1.6" ry="1.3" fill="#e05a24" opacity="0.72" transform="rotate(152 94.5 129.9)"/>
<ellipse cx="73.5" cy="121.7" rx="1.5" ry="1.2" fill="#f07030" opacity="0.81" transform="rotate(100 73.5 121.7)"/>
<ellipse cx="36.4" cy="89.4" rx="1.8" ry="1.4" fill="#e05a24" opacity="0.98" transform="rotate(117 36.4 89.4)"/>
<ellipse cx="98.1" cy="38.6" rx="1.5" ry="1.2" fill="#ec7434" opacity="0.99" transform="rotate(118 98.1 38.6)"/>
<ellipse cx="139.7" cy="118.9" rx="1.9" ry="1.7" fill="#f07030" opacity="0.92" transform="rotate(74 139.7 118.9)"/>
<ellipse cx="114.3" cy="64.8" rx="2.0" ry="1.5" fill="#e06028" opacity="0.78" transform="rotate(106 114.3 64.8)"/>
<ellipse cx="32.0" cy="71.2" rx="1.4" ry="1.1" fill="#f07030" opacity="0.88" transform="rotate(126 32.0 71.2)"/>
<ellipse cx="26.3" cy="108.3" rx="1.5" ry="1.3" fill="#e06028" opacity="0.75" transform="rotate(53 26.3 108.3)"/>
<ellipse cx="107.8" cy="137.7" rx="1.5" ry="1.3" fill="#f07030" opacity="0.65" transform="rotate(167 107.8 137.7)"/>
<ellipse cx="11.6" cy="53.0" rx="2.0" ry="1.7" fill="#e66a2a" opacity="0.70" transform="rotate(151 11.6 53.0)"/>
<ellipse cx="93.4" cy="123.6" rx="2.0" ry="1.9" fill="#f07030" opacity="0.71" transform="rotate(61 93.4 123.6)"/>
<ellipse cx="36.8" cy="134.3" rx="2.1" ry="1.4" fill="#f07030" opacity="0.99" transform="rotate(40 36.8 134.3)"/>
<ellipse cx="48.5" cy="133.4" rx="1.5" ry="1.4" fill="#e66a2a" opacity="0.66" transform="rotate(25 48.5 133.4)"/>
<ellipse cx="136.1" cy="72.2" rx="2.0" ry="1.7" fill="#e8682c" opacity="0.70" transform="rotate(9 136.1 72.2)"/>
<ellipse cx="86.5" cy="118.3" rx="1.7" ry="1.6" fill="#e8682c" opacity="0.72" transform="rotate(10 86.5 118.3)"/>
<ellipse cx="71.2" cy="70.3" rx="1.4" ry="1.2" fill="#e05a24" opacity="0.78" transform="rotate(132 71.2 70.3)"/>
<ellipse cx="135.2" cy="47.6" rx="1.4" ry="1.3" fill="#e8682c" opacity="0.73" transform="rotate(79 135.2 47.6)"/>
<ellipse cx="38.4" cy="90.1" rx="1.4" ry="1.0" fill="#ec7434" opacity="0.81" transform="rotate(180 38.4 90.1)"/>
<ellipse cx="88.8" cy="108.3" rx="1.4" ry="1.1" fill="#ec7434" opacity="0.95" transform="rotate(77 88.8 108.3)"/>
<ellipse cx="95.9" cy="121.7" rx="1.9" ry="1.3" fill="#f07030" opacity="0.85" transform="rotate(152 95.9 121.7)"/>
<ellipse cx="26.4" cy="144.7" rx="1.9" ry="1.7" fill="#e05a24" opacity="0.74" transform="rotate(124 26.4 144.7)"/>
<ellipse cx="139.9" cy="62.7" rx="2.1" ry="1.6" fill="#e8682c" opacity="0.65" transform="rotate(160 139.9 62.7)"/>
<ellipse cx="50.5" cy="141.0" rx="1.9" ry="1.3" fill="#e8682c" opacity="0.96" transform="rotate(151 50.5 141.0)"/>
<ellipse cx="132.0" cy="67.7" rx="1.4" ry="1.0" fill="#ec7434" opacity="0.70" transform="rotate(89 132.0 67.7)"/>
<ellipse cx="64.9" cy="108.9" rx="1.6" ry="1.1" fill="#f07030" opacity="0.98" transform="rotate(47 64.9 108.9)"/>
<ellipse cx="24.0" cy="62.1" rx="1.7" ry="1.1" fill="#e8682c" opacity="0.72" transform="rotate(49 24.0 62.1)"/>
<ellipse cx="62.0" cy="35.0" rx="1.6" ry="1.5" fill="#e8682c" opacity="0.86" transform="rotate(20 62.0 35.0)"/>
<ellipse cx="110.9" cy="37.6" rx="1.6" ry="1.5" fill="#e66a2a" opacity="0.66" transform="rotate(119 110.9 37.6)"/>
<ellipse cx="42.6" cy="80.0" rx="1.6" ry="1.3" fill="#e8682c" opacity="0.94" transform="rotate(33 42.6 80.0)"/>
<ellipse cx="138.3" cy="75.1" rx="1.9" ry="1.7" fill="#e66a2a" opacity="0.65" transform="rotate(14 138.3 75.1)"/>
<ellipse cx="11.1" cy="48.1" rx="1.6" ry="1.4" fill="#e8682c" opacity="0.96" transform="rotate(23 11.1 48.1)"/>
<ellipse cx="119.3" cy="26.7" rx="1.8" ry="1.4" fill="#e06028" opacity="0.70" transform="rotate(21 119.3 26.7)"/>
<ellipse cx="10.6" cy="74.8" rx="1.6" ry="1.5" fill="#e06028" opacity="0.99" transform="rotate(64 10.6 74.8)"/>
<ellipse cx="90.6" cy="53.6" rx="2.0" ry="1.8" fill="#ec7434" opacity="0.78" transform="rotate(123 90.6 53.6)"/>
<ellipse cx="102.2" cy="81.6" rx="1.8" ry="1.3" fill="#e8682c" opacity="0.79" transform="rotate(86 102.2 81.6)"/>
<ellipse cx="43.3" cy="119.1" rx="2.0" ry="1.6" fill="#ec7434" opacity="0.99" transform="rotate(37 43.3 119.1)"/>
<ellipse cx="77.9" cy="96.6" rx="2.0" ry="1.6" fill="#ec7434" opacity="0.87" transform="rotate(177 77.9 96.6)"/>
<ellipse cx="56.4" cy="130.1" rx="1.8" ry="1.3" fill="#e06028" opacity="0.97" transform="rotate(3 56.4 130.1)"/>
<ellipse cx="80.4" cy="127.5" rx="1.9" ry="1.4" fill="#e66a2a" opacity="0.77" transform="rotate(133 80.4 127.5)"/>
<ellipse cx="99.6" cy="46.7" rx="1.5" ry="1.2" fill="#e8682c" opacity="0.80" transform="rotate(3 99.6 46.7)"/>
<ellipse cx="87.3" cy="120.7" rx="1.3" ry="1.1" fill="#e06028" opacity="0.83" transform="rotate(42 87.3 120.7)"/>
<ellipse cx="89.6" cy="145.0" rx="1.5" ry="1.1" fill="#f07030" opacity="0.70" transform="rotate(68 89.6 145.0)"/>
<ellipse cx="111.3" cy="64.3" rx="1.5" ry="1.5" fill="#e8682c" opacity="0.76" transform="rotate(83 111.3 64.3)"/>
<ellipse cx="136.6" cy="128.3" rx="1.7" ry="1.2" fill="#e8682c" opacity="0.81" transform="rotate(107 136.6 128.3)"/>
<ellipse cx="105.3" cy="98.1" rx="1.5" ry="1.0" fill="#ec7434" opacity="0.66" transform="rotate(38 105.3 98.1)"/>
<ellipse cx="137.1" cy="50.0" rx="1.4" ry="1.2" fill="#e05a24" opacity="0.98" transform="rotate(50 137.1 50.0)"/>
<ellipse cx="78.4" cy="64.1" rx="2.1" ry="1.4" fill="#ec7434" opacity="0.69" transform="rotate(158 78.4 64.1)"/>
<ellipse cx="96.7" cy="148.3" rx="1.8" ry="1.7" fill="#e06028" opacity="0.77" transform="rotate(70 96.7 148.3)"/>
<ellipse cx="88.6" cy="120.4" rx="1.5" ry="1.0" fill="#e66a2a" opacity="0.75" transform="rotate(120 88.6 120.4)"/>
<ellipse cx="25.3" cy="96.0" rx="1.5" ry="1.4" fill="#e05a24" opacity="0.89" transform="rotate(140 25.3 96.0)"/>
<ellipse cx="66.2" cy="81.9" rx="1.6" ry="1.4" fill="#ec7434" opacity="0.75" transform="rotate(171 66.2 81.9)"/>
<ellipse cx="65.9" cy="58.8" rx="1.7" ry="1.4" fill="#e06028" opacity="0.69" transform="rotate(161 65.9 58.8)"/>
<ellipse cx="82.2" cy="142.3" rx="2.0" ry="1.6" fill="#f07030" opacity="0.70" transform="rotate(4 82.2 142.3)"/>
<ellipse cx="41.7" cy="58.4" rx="2.1" ry="1.7" fill="#ec7434" opacity="0.66" transform="rotate(155 41.7 58.4)"/>
<ellipse cx="135.6" cy="121.6" rx="1.7" ry="1.5" fill="#e8682c" opacity="0.76" transform="rotate(145 135.6 121.6)"/>
<ellipse cx="13.3" cy="135.4" rx="1.9" ry="1.4" fill="#e06028" opacity="0.89" transform="rotate(3 13.3 135.4)"/>
<ellipse cx="57.4" cy="91.7" rx="2.0" ry="1.5" fill="#e06028" opacity="0.79" transform="rotate(157 57.4 91.7)"/>
<ellipse cx="74.9" cy="118.4" rx="1.3" ry="1.0" fill="#e05a24" opacity="0.94" transform="rotate(74 74.9 118.4)"/>
<ellipse cx="137.4" cy="99.7" rx="1.3" ry="0.9" fill="#e06028" opacity="0.98" transform="rotate(37 137.4 99.7)"/>
<ellipse cx="31.8" cy="86.3" rx="1.8" ry="1.5" fill="#e05a24" opacity="0.70" transform="rotate(70 31.8 86.3)"/>
<ellipse cx="55.1" cy="134.0" rx="1.8" ry="1.2" fill="#f07030" opacity="0.81" transform="rotate(116 55.1 134.0)"/>
<ellipse cx="103.6" cy="152.7" rx="1.7" ry="1.2" fill="#e06028" opacity="0.67" transform="rotate(69 103.6 152.7)"/>
<ellipse cx="60.2" cy="104.0" rx="1.3" ry="0.9" fill="#e05a24" opacity="0.98" transform="rotate(101 60.2 104.0)"/>
<ellipse cx="25.9" cy="52.4" rx="1.7" ry="1.2" fill="#e66a2a" opacity="0.83" transform="rotate(18 25.9 52.4)"/>
<ellipse cx="97.8" cy="25.5" rx="1.7" ry="1.2" fill="#f07030" opacity="0.78" transform="rotate(174 97.8 25.5)"/>
<ellipse cx="137.1" cy="77.9" rx="1.4" ry="1.1" fill="#e8682c" opacity="0.96" transform="rotate(35 137.1 77.9)"/>
<ellipse cx="47.7" cy="37.0" rx="2.1" ry="1.6" fill="#e06028" opacity="0.91" transform="rotate(179 47.7 37.0)"/>
<ellipse cx="90.3" cy="70.8" rx="2.0" ry="1.9" fill="#e06028" opacity="0.93" transform="rotate(50 90.3 70.8)"/>
<ellipse cx="139.5" cy="78.8" rx="1.5" ry="1.3" fill="#ec7434" opacity="0.73" transform="rotate(24 139.5 78.8)"/>
<ellipse cx="78.6" cy="73.6" rx="1.7" ry="1.3" fill="#e8682c" opacity="0.70" transform="rotate(9 78.6 73.6)"/>
<ellipse cx="49.3" cy="144.7" rx="1.6" ry="1.4" fill="#e66a2a" opacity="0.93" transform="rotate(86 49.3 144.7)"/>
<ellipse cx="108.7" cy="85.4" rx="2.0" ry="1.6" fill="#ec7434" opacity="0.85" transform="rotate(173 108.7 85.4)"/>
<ellipse cx="105.4" cy="119.1" rx="1.9" ry="1.5" fill="#e66a2a" opacity="0.94" transform="rotate(1 105.4 119.1)"/>
<ellipse cx="58.9" cy="68.9" rx="1.8" ry="1.2" fill="#e05a24" opacity="0.75" transform="rotate(132 58.9 68.9)"/>
<ellipse cx="17.4" cy="139.4" rx="2.1" ry="1.9" fill="#e66a2a" opacity="0.67" transform="rotate(114 17.4 139.4)"/>
<ellipse cx="123.9" cy="117.2" rx="1.7" ry="1.4" fill="#e06028" opacity="0.93" transform="rotate(117 123.9 117.2)"/>
<ellipse cx="65.2" cy="86.5" rx="1.9" ry="1.7" fill="#f07030" opacity="0.92" transform="rotate(97 65.2 86.5)"/>
<ellipse cx="51.8" cy="101.2" rx="2.0" ry="1.8" fill="#e05a24" opacity="0.88" transform="rotate(26 51.8 101.2)"/>
<ellipse cx="56.5" cy="77.8" rx="1.6" ry="1.2" fill="#e66a2a" opacity="0.67" transform="rotate(20 56.5 77.8)"/>
<ellipse cx="112.6" cy="96.1" rx="1.5" ry="1.3" fill="#ec7434" opacity="0.97" transform="rotate(56 112.6 96.1)"/>
<ellipse cx="109.1" cy="39.2" rx="1.7" ry="1.5" fill="#e66a2a" opacity="0.71" transform="rotate(0 109.1 39.2)"/>
<ellipse cx="108.2" cy="114.9" rx="1.3" ry="0.9" fill="#e66a2a" opacity="0.74" transform="rotate(92 108.2 114.9)"/>
<ellipse cx="34.7" cy="99.5" rx="1.9" ry="1.5" fill="#e05a24" opacity="0.89" transform="rotate(108 34.7 99.5)"/>
<ellipse cx="26.3" cy="133.3" rx="1.5" ry="1.0" fill="#e8682c" opacity="0.76" transform="rotate(81 26.3 133.3)"/>
<ellipse cx="78.3" cy="145.7" rx="1.5" ry="1.2" fill="#e66a2a" opacity="0.76" transform="rotate(171 78.3 145.7)"/>
<ellipse cx="79.1" cy="61.0" rx="1.7" ry="1.2" fill="#e8682c" opacity="0.76" transform="rotate(85 79.1 61.0)"/>
<ellipse cx="30.0" cy="76.5" rx="1.3" ry="1.0" fill="#e8682c" opacity="0.97" transform="rotate(163 30.0 76.5)"/>
<ellipse cx="68.4" cy="64.2" rx="2.1" ry="2.0" fill="#e06028" opacity="0.96" transform="rotate(144 68.4 64.2)"/>
<ellipse cx="98.0" cy="148.9" rx="1.6" ry="1.3" fill="#f07030" opacity="0.68" transform="rotate(48 98.0 148.9)"/>
<ellipse cx="94.1" cy="51.8" rx="1.8" ry="1.3" fill="#e05a24" opacity="0.82" transform="rotate(48 94.1 51.8)"/>
<ellipse cx="104.3" cy="104.7" rx="2.0" ry="1.6" fill="#e66a2a" opacity="0.76" transform="rotate(124 104.3 104.7)"/>
<ellipse cx="84.9" cy="47.6" rx="1.6" ry="1.5" fill="#ec7434" opacity="0.91" transform="rotate(67 84.9 47.6)"/>
<ellipse cx="136.1" cy="147.1" rx="2.0" ry="1.9" fill="#e05a24" opacity="0.96" transform="rotate(18 136.1 147.1)"/>
<ellipse cx="70.6" cy="126.4" rx="2.1" ry="1.9" fill="#e06028" opacity="0.72" transform="rotate(150 70.6 126.4)"/>
<ellipse cx="22.3" cy="108.8" rx="1.3" ry="1.1" fill="#e8682c" opacity="0.73" transform="rotate(48 22.3 108.8)"/>
<ellipse cx="90.6" cy="142.4" rx="1.5" ry="1.1" fill="#e66a2a" opacity="0.78" transform="rotate(7 90.6 142.4)"/>
<ellipse cx="50.3" cy="67.4" rx="2.0" ry="1.8" fill="#e06028" opacity="0.68" transform="rotate(14 50.3 67.4)"/>
<ellipse cx="139.8" cy="128.4" rx="1.7" ry="1.6" fill="#e05a24" opacity="0.68" transform="rotate(21 139.8 128.4)"/>
<ellipse cx="134.8" cy="151.4" rx="1.7" ry="1.2" fill="#e06028" opacity="0.95" transform="rotate(111 134.8 151.4)"/>
<ellipse cx="13.3" cy="86.9" rx="1.3" ry="0.9" fill="#e06028" opacity="0.72" transform="rotate(35 13.3 86.9)"/>
<ellipse cx="132.0" cy="45.1" rx="1.8" ry="1.3" fill="#e8682c" opacity="0.80" transform="rotate(26 132.0 45.1)"/>
<ellipse cx="27.8" cy="143.4" rx="1.8" ry="1.5" fill="#e06028" opacity="0.68" transform="rotate(34 27.8 143.4)"/>
<ellipse cx="65.2" cy="151.5" rx="2.1" ry="2.0" fill="#ec7434" opacity="0.84" transform="rotate(29 65.2 151.5)"/>
<ellipse cx="104.4" cy="108.6" rx="1.9" ry="1.6" fill="#f07030" opacity="0.93" transform="rotate(101 104.4 108.6)"/>
<ellipse cx="17.8" cy="94.1" rx="2.0" ry="1.6" fill="#e66a2a" opacity="0.95" transform="rotate(5 17.8 94.1)"/>
<ellipse cx="32.9" cy="78.7" rx="2.0" ry="1.9" fill="#e06028" opacity="0.67" transform="rotate(170 32.9 78.7)"/>
<ellipse cx="45.4" cy="92.0" rx="2.0" ry="1.5" fill="#e66a2a" opacity="0.68" transform="rotate(158 45.4 92.0)"/>
<ellipse cx="45.5" cy="86.5" rx="2.1" ry="1.6" fill="#e66a2a" opacity="0.82" transform="rotate(76 45.5 86.5)"/>
<ellipse cx="124.8" cy="120.9" rx="1.3" ry="0.9" fill="#e66a2a" opacity="0.80" transform="rotate(38 124.8 120.9)"/>
<ellipse cx="93.3" cy="68.3" rx="2.0" ry="1.8" fill="#e66a2a" opacity="0.68" transform="rotate(129 93.3 68.3)"/>
<ellipse cx="34.7" cy="121.4" rx="1.4" ry="1.3" fill="#e66a2a" opacity="0.88" transform="rotate(73 34.7 121.4)"/>
<ellipse cx="100.2" cy="33.9" rx="1.9" ry="1.4" fill="#f07030" opacity="0.88" transform="rotate(36 100.2 33.9)"/>
<ellipse cx="81.0" cy="94.1" rx="1.3" ry="1.0" fill="#e66a2a" opacity="0.69" transform="rotate(161 81.0 94.1)"/>
<ellipse cx="98.1" cy="128.8" rx="2.0" ry="1.7" fill="#e05a24" opacity="0.83" transform="rotate(110 98.1 128.8)"/>
<ellipse cx="111.2" cy="116.1" rx="1.7" ry="1.3" fill="#ec7434" opacity="0.92" transform="rotate(50 111.2 116.1)"/>
<ellipse cx="112.5" cy="41.5" rx="1.6" ry="1.5" fill="#e05a24" opacity="0.83" transform="rotate(82 112.5 41.5)"/>
<ellipse cx="139.8" cy="97.1" rx="1.4" ry="1.2" fill="#f07030" opacity="0.79" transform="rotate(13 139.8 97.1)"/>
<ellipse cx="88.8" cy="122.1" rx="1.4" ry="1.1" fill="#e06028" opacity="0.69" transform="rotate(85 88.8 122.1)"/>
<ellipse cx="18.6" cy="77.6" rx="1.5" ry="1.1" fill="#ec7434" opacity="0.93" transform="rotate(65 18.6 77.6)"/>
<ellipse cx="31.9" cy="68.6" rx="2.1" ry="1.4" fill="#e66a2a" opacity="0.86" transform="rotate(31 31.9 68.6)"/>
<ellipse cx="78.3" cy="132.8" rx="1.8" ry="1.3" fill="#e05a24" opacity="0.90" transform="rotate(106 78.3 132.8)"/>
<ellipse cx="98.3" cy="43.8" rx="1.3" ry="1.1" fill="#f07030" opacity="0.93" transform="rotate(68 98.3 43.8)"/>
<ellipse cx="93.1" cy="110.0" rx="1.5" ry="1.1" fill="#ec7434" opacity="0.70" transform="rotate(46 93.1 110.0)"/>
<ellipse cx="37.4" cy="91.0" rx="1.4" ry="1.0" fill="#e8682c" opacity="0.93" transform="rotate(158 37.4 91.0)"/>
<ellipse cx="72.6" cy="106.8" rx="1.9" ry="1.7" fill="#ec7434" opacity="0.77" transform="rotate(5 72.6 106.8)"/>
<ellipse cx="110.4" cy="95.4" rx="1.3" ry="0.9" fill="#e06028" opacity="0.89" transform="rotate(20 110.4 95.4)"/>
<ellipse cx="135.4" cy="149.1" rx="2.1" ry="1.9" fill="#e06028" opacity="0.92" transform="rotate(134 135.4 149.1)"/>
<ellipse cx="79.5" cy="63.4" rx="1.8" ry="1.2" fill="#e8682c" opacity="0.79" transform="rotate(97 79.5 63.4)"/>
<ellipse cx="89.8" cy="148.7" rx="1.3" ry="1.2" fill="#e05a24" opacity="0.68" transform="rotate(4 89.8 148.7)"/>
<ellipse cx="53.1" cy="62.5" rx="1.3" ry="0.9" fill="#e8682c" opacity="0.73" transform="rotate(55 53.1 62.5)"/>
<ellipse cx="87.6" cy="30.1" rx="1.5" ry="1.4" fill="#e06028" opacity="0.81" transform="rotate(44 87.6 30.1)"/>
<ellipse cx="63.6" cy="115.5" rx="1.6" ry="1.3" fill="#f07030" opacity="0.92" transform="rotate(67 63.6 115.5)"/>
<ellipse cx="107.0" cy="88.9" rx="1.6" ry="1.3" fill="#f07030" opacity="0.95" transform="rotate(120 107.0 88.9)"/>
<ellipse cx="82.3" cy="70.6" rx="2.0" ry="1.4" fill="#f07030" opacity="0.68" transform="rotate(141 82.3 70.6)"/>
<ellipse cx="95.1" cy="68.6" rx="1.8" ry="1.5" fill="#f07030" opacity="0.97" transform="rotate(41 95.1 68.6)"/>
<ellipse cx="61.3" cy="110.7" rx="1.8" ry="1.5" fill="#ec7434" opacity="0.69" transform="rotate(163 61.3 110.7)"/>
<ellipse cx="105.3" cy="85.1" rx="1.7" ry="1.3" fill="#e05a24" opacity="0.90" transform="rotate(122 105.3 85.1)"/>
<ellipse cx="128.6" cy="77.0" rx="2.0" ry="1.4" fill="#e66a2a" opacity="0.80" transform="rotate(113 128.6 77.0)"/>
<ellipse cx="67.2" cy="27.0" rx="1.9" ry="1.5" fill="#e05a24" opacity="0.83" transform="rotate(143 67.2 27.0)"/>
<ellipse cx="16.1" cy="136.8" rx="1.8" ry="1.3" fill="#ec7434" opacity="0.91" transform="rotate(74 16.1 136.8)"/>
<ellipse cx="108.8" cy="24.7" rx="2.1" ry="1.4" fill="#e8682c" opacity="0.78" transform="rotate(125 108.8 24.7)"/>
<ellipse cx="127.0" cy="68.0" rx="1.3" ry="1.2" fill="#e05a24" opacity="0.77" transform="rotate(113 127.0 68.0)"/>
<ellipse cx="58.2" cy="118.9" rx="1.5" ry="1.1" fill="#f07030" opacity="0.94" transform="rotate(111 58.2 118.9)"/>
<ellipse cx="107.7" cy="118.6" rx="2.0" ry="1.4" fill="#e66a2a" opacity="0.69" transform="rotate(106 107.7 118.6)"/>
<ellipse cx="96.6" cy="65.5" rx="1.6" ry="1.3" fill="#ec7434" opacity="0.79" transform="rotate(88 96.6 65.5)"/>
<ellipse cx="67.1" cy="45.1" rx="1.7" ry="1.5" fill="#e66a2a" opacity="0.89" transform="rotate(45 67.1 45.1)"/>
<ellipse cx="109.9" cy="89.5" rx="1.6" ry="1.1" fill="#e8682c" opacity="0.98" transform="rotate(177 109.9 89.5)"/>
<ellipse cx="38.2" cy="52.1" rx="1.4" ry="0.9" fill="#e66a2a" opacity="0.87" transform="rotate(165 38.2 52.1)"/>
<ellipse cx="14.9" cy="79.7" rx="1.9" ry="1.4" fill="#e05a24" opacity="0.92" transform="rotate(173 14.9 79.7)"/>
<ellipse cx="25.0" cy="124.1" rx="1.5" ry="1.0" fill="#ec7434" opacity="0.88" transform="rotate(111 25.0 124.1)"/>
<ellipse cx="87.4" cy="62.0" rx="1.4" ry="1.1" fill="#e66a2a" opacity="0.81" transform="rotate(34 87.4 62.0)"/>
<ellipse cx="11.8" cy="75.3" rx="1.8" ry="1.4" fill="#e05a24" opacity="0.89" transform="rotate(103 11.8 75.3)"/>
<ellipse cx="62.8" cy="38.0" rx="2.0" ry="1.6" fill="#ec7434" opacity="0.75" transform="rotate(26 62.8 38.0)"/>
<ellipse cx="73.2" cy="114.8" rx="1.7" ry="1.5" fill="#e06028" opacity="0.87" transform="rotate(110 73.2 114.8)"/>
<ellipse cx="21.3" cy="61.6" rx="1.5" ry="1.1" fill="#e8682c" opacity="0.89" transform="rotate(71 21.3 61.6)"/>
<ellipse cx="120.5" cy="105.6" rx="1.6" ry="1.5" fill="#e05a24" opacity="0.68" transform="rotate(83 120.5 105.6)"/>
<ellipse cx="74.0" cy="84.6" rx="1.9" ry="1.7" fill="#e66a2a" opacity="0.66" transform="rotate(45 74.0 84.6)"/>
<ellipse cx="62.1" cy="123.1" rx="1.7" ry="1.5" fill="#e05a24" opacity="0.80" transform="rotate(38 62.1 123.1)"/>
<ellipse cx="11.2" cy="114.9" rx="1.8" ry="1.4" fill="#e66a2a" opacity="0.87" transform="rotate(129 11.2 114.9)"/>
<ellipse cx="33.2" cy="117.1" rx="1.9" ry="1.6" fill="#ec7434" opacity="0.94" transform="rotate(112 33.2 117.1)"/>
<ellipse cx="66.5" cy="47.9" rx="1.9" ry="1.6" fill="#e66a2a" opacity="0.67" transform="rotate(56 66.5 47.9)"/>
<ellipse cx="15.2" cy="99.1" rx="1.9" ry="1.5" fill="#e8682c" opacity="0.94" transform="rotate(167 15.2 99.1)"/>
<ellipse cx="132.0" cy="144.0" rx="1.8" ry="1.4" fill="#e66a2a" opacity="0.91" transform="rotate(175 132.0 144.0)"/>
<ellipse cx="66.2" cy="43.3" rx="1.7" ry="1.3" fill="#e06028" opacity="0.74" transform="rotate(54 66.2 43.3)"/>
<ellipse cx="36.2" cy="77.9" rx="1.5" ry="1.4" fill="#e05a24" opacity="0.79" transform="rotate(120 36.2 77.9)"/>
<ellipse cx="136.3" cy="65.1" rx="1.6" ry="1.2" fill="#ec7434" opacity="0.66" transform="rotate(112 136.3 65.1)"/>
<ellipse cx="138.2" cy="102.0" rx="1.4" ry="1.1" fill="#e05a24" opacity="0.81" transform="rotate(33 138.2 102.0)"/>
<ellipse cx="49.2" cy="93.5" rx="1.6" ry="1.3" fill="#ec7434" opacity="0.77" transform="rotate(142 49.2 93.5)"/>
<ellipse cx="58.9" cy="119.6" rx="2.0" ry="1.4" fill="#e06028" opacity="0.78" transform="rotate(83 58.9 119.6)"/>
<ellipse cx="101.7" cy="82.9" rx="2.1" ry="1.5" fill="#e8682c" opacity="0.67" transform="rotate(32 101.7 82.9)"/>
<ellipse cx="67.6" cy="79.0" rx="1.4" ry="1.1" fill="#e05a24" opacity="0.80" transform="rotate(55 67.6 79.0)"/>
<ellipse cx="73.7" cy="98.9" rx="2.1" ry="2.0" fill="#e05a24" opacity="0.88" transform="rotate(133 73.7 98.9)"/>
<ellipse cx="40.7" cy="124.2" rx="1.9" ry="1.4" fill="#e05a24" opacity="0.84" transform="rotate(8 40.7 124.2)"/>
<ellipse cx="49.6" cy="130.5" rx="1.7" ry="1.3" fill="#f07030" opacity="0.73" transform="rotate(162 49.6 130.5)"/>
<ellipse cx="54.7" cy="34.5" rx="1.9" ry="1.7" fill="#f07030" opacity="0.70" transform="rotate(155 54.7 34.5)"/>
<ellipse cx="40.3" cy="24.8" rx="1.4" ry="1.1" fill="#ec7434" opacity="0.73" transform="rotate(53 40.3 24.8)"/>
<ellipse cx="108.6" cy="111.8" rx="2.1" ry="2.0" fill="#ec7434" opacity="0.69" transform="rotate(58 108.6 111.8)"/>
<ellipse cx="139.1" cy="68.0" rx="1.5" ry="1.2" fill="#f07030" opacity="0.75" transform="rotate(7 139.1 68.0)"/>
<ellipse cx="62.4" cy="115.7" rx="1.7" ry="1.2" fill="#e8682c" opacity="0.69" transform="rotate(82 62.4 115.7)"/>
<ellipse cx="57.5" cy="93.7" rx="1.6" ry="1.5" fill="#e06028" opacity="0.94" transform="rotate(59 57.5 93.7)"/>
<ellipse cx="34.2" cy="52.5" rx="1.9" ry="1.6" fill="#f07030" opacity="0.90" transform="rotate(56 34.2 52.5)"/>
<ellipse cx="79.3" cy="81.8" rx="1.8" ry="1.3" fill="#e66a2a" opacity="0.93" transform="rotate(139 79.3 81.8)"/>
<ellipse cx="66.2" cy="82.2" rx="1.4" ry="1.2" fill="#e06028" opacity="0.66" transform="rotate(10 66.2 82.2)"/>
<ellipse cx="57.2" cy="57.8" rx="1.9" ry="1.5" fill="#f07030" opacity="0.66" transform="rotate(39 57.2 57.8)"/>
<ellipse cx="70.2" cy="39.4" rx="1.9" ry="1.5" fill="#ec7434" opacity="0.80" transform="rotate(111 70.2 39.4)"/>
<ellipse cx="52.6" cy="45.1" rx="1.4" ry="1.1" fill="#e8682c" opacity="0.94" transform="rotate(173 52.6 45.1)"/>
<ellipse cx="49.8" cy="55.0" rx="1.7" ry="1.4" fill="#f07030" opacity="0.80" transform="rotate(162 49.8 55.0)"/>
<ellipse cx="42.1" cy="30.3" rx="1.6" ry="1.4" fill="#ec7434" opacity="0.85" transform="rotate(75 42.1 30.3)"/>
<ellipse cx="60.9" cy="83.2" rx="1.6" ry="1.1" fill="#e05a24" opacity="0.85" transform="rotate(56 60.9 83.2)"/>
<ellipse cx="134.6" cy="147.6" rx="1.9" ry="1.3" fill="#e66a2a" opacity="0.67" transform="rotate(30 134.6 147.6)"/>
<ellipse cx="73.9" cy="141.8" rx="1.5" ry="1.4" fill="#ec7434" opacity="0.69" transform="rotate(148 73.9 141.8)"/>
<ellipse cx="81.1" cy="79.7" rx="1.7" ry="1.5" fill="#ec7434" opacity="0.96" transform="rotate(132 81.1 79.7)"/>
<ellipse cx="136.5" cy="68.6" rx="1.8" ry="1.5" fill="#ec7434" opacity="0.92" transform="rotate(59 136.5 68.6)"/>
<ellipse cx="75.1" cy="79.4" rx="1.9" ry="1.3" fill="#e06028" opacity="0.70" transform="rotate(133 75.1 79.4)"/>
<ellipse cx="63.1" cy="77.7" rx="1.9" ry="1.5" fill="#f07030" opacity="0.97" transform="rotate(51 63.1 77.7)"/>
<ellipse cx="55.8" cy="98.7" rx="1.6" ry="1.5" fill="#ec7434" opacity="0.74" transform="rotate(76 55.8 98.7)"/>
<ellipse cx="11.0" cy="106.3" rx="1.7" ry="1.5" fill="#e8682c" opacity="0.88" transform="rotate(0 11.0 106.3)"/>
<ellipse cx="23.8" cy="66.9" rx="1.7" ry="1.5" fill="#e66a2a" opacity="0.80" transform="rotate(17 23.8 66.9)"/>
<ellipse cx="49.5" cy="147.9" rx="2.1" ry="1.4" fill="#e05a24" opacity="0.89" transform="rotate(114 49.5 147.9)"/>
<ellipse cx="103.5" cy="142.3" rx="2.1" ry="1.9" fill="#e06028" opacity="0.70" transform="rotate(157 103.5 142.3)"/>
<ellipse cx="129.2" cy="50.9" rx="1.9" ry="1.6" fill="#ec7434" opacity="0.77" transform="rotate(69 129.2 50.9)"/>
<ellipse cx="83.7" cy="62.4" rx="1.4" ry="1.2" fill="#e06028" opacity="0.99" transform="rotate(71 83.7 62.4)"/>
<ellipse cx="85.2" cy="137.8" rx="1.9" ry="1.4" fill="#e66a2a" opacity="0.75" transform="rotate(27 85.2 137.8)"/>
<ellipse cx="128.4" cy="134.6" rx="2.0" ry="1.6" fill="#e8682c" opacity="0.71" transform="rotate(107 128.4 134.6)"/>
<ellipse cx="136.3" cy="71.0" rx="1.6" ry="1.4" fill="#f07030" opacity="0.89" transform="rotate(81 136.3 71.0)"/>
<ellipse cx="53.0" cy="23.5" rx="2.0" ry="1.4" fill="#e05a24" opacity="0.72" transform="rotate(68 53.0 23.5)"/>
<ellipse cx="136.4" cy="96.8" rx="1.8" ry="1.6" fill="#e66a2a" opacity="0.80" transform="rotate(48 136.4 96.8)"/>
<ellipse cx="59.4" cy="116.5" rx="1.5" ry="1.0" fill="#e05a24" opacity="0.66" transform="rotate(84 59.4 116.5)"/>
<ellipse cx="46.0" cy="61.9" rx="1.6" ry="1.5" fill="#e05a24" opacity="0.99" transform="rotate(144 46.0 61.9)"/>
<ellipse cx="77.5" cy="89.9" rx="1.4" ry="1.0" fill="#e8682c" opacity="0.67" transform="rotate(8 77.5 89.9)"/>
<ellipse cx="24.0" cy="121.7" rx="1.8" ry="1.4" fill="#e06028" opacity="0.89" transform="rotate(30 24.0 121.7)"/>
</g>
<g stroke="#c8c8c0" stroke-width="0.7" fill="none" opacity="0.85">
<line x1="13.4" y1="28.6" x2="134.6" y2="28.6" stroke-dasharray="1 1.2"/>
<line x1="134.6" y1="28.6" x2="134.6" y2="149.4" stroke-dasharray="1 1.2"/>
<line x1="13.4" y1="28.6" x2="13.4" y2="149.4"/>
<line x1="13.4" y1="149.4" x2="134.6" y2="149.4"/>
<line x1="8.5" y1="22.5" x2="13.4" y2="28.6"/>
<line x1="140.5" y1="22.5" x2="134.6" y2="28.6"/>
<line x1="140.5" y1="154.1" x2="134.6" y2="149.4"/>
</g>
<rect x="10" y="151.3" width="9" height="1.3" fill="#e8e8e8"/>
<text x="126.8" y="153.3" font-size="3.6" fill="#e8e8e8" style="stroke:none">25mm</text>
<rect x="8" y="22" width="133" height="132.6" fill="none" stroke="#111" stroke-width="1"/>
</g>
<g stroke="#231f20" stroke-width="0.9" fill="none">
<line x1="181.3" y1="39.3" x2="181.3" y2="129.04999999999998"/>
<line x1="180.85000000000002" y1="128.6" x2="324.2" y2="128.6"/>
<line x1="177.9" y1="128.60" x2="181.3" y2="128.60"/>
<line x1="177.9" y1="111.28" x2="181.3" y2="111.28"/>
<line x1="177.9" y1="93.96" x2="181.3" y2="93.96"/>
<line x1="177.9" y1="76.64" x2="181.3" y2="76.64"/>
<line x1="177.9" y1="59.32" x2="181.3" y2="59.32"/>
<line x1="177.9" y1="42.00" x2="181.3" y2="42.00"/>
<line x1="205.4" y1="128.6" x2="205.4" y2="131.79999999999998"/>
<line x1="253.5" y1="128.6" x2="253.5" y2="131.79999999999998"/>
<line x1="301.7" y1="128.6" x2="301.7" y2="131.79999999999998"/>
</g>
<text x="175.50" y="130.60" font-size="7.4" text-anchor="end" fill="#231f20" >0</text>
<text x="175.50" y="113.28" font-size="7.4" text-anchor="end" fill="#231f20" >2</text>
<text x="175.50" y="95.96" font-size="7.4" text-anchor="end" fill="#231f20" >4</text>
<text x="175.50" y="78.64" font-size="7.4" text-anchor="end" fill="#231f20" >6</text>
<text x="175.50" y="61.32" font-size="7.4" text-anchor="end" fill="#231f20" >8</text>
<text x="175.50" y="44.00" font-size="7.4" text-anchor="end" fill="#231f20" >10</text>
<text x="205.40" y="141.90" font-size="7.2" text-anchor="middle" fill="#231f20" >1</text>
<text x="253.50" y="141.90" font-size="7.2" text-anchor="middle" fill="#231f20" >2</text>
<text x="301.70" y="141.90" font-size="7.2" text-anchor="middle" fill="#231f20" >3</text>
<text x="253.30" y="152.90" font-size="9.4" text-anchor="middle" fill="#231f20" textLength="26" lengthAdjust="spacingAndGlyphs">Mouse</text>
<text transform="translate(163.6 85.5) rotate(-90)" font-size="9.2" text-anchor="middle" fill="#231f20" textLength="64" lengthAdjust="spacingAndGlyphs">Speed (µm/min)</text>
<path d="M205.4 121.5L206.7 123.8L204.2 123.8ZM207.7 121.8L209.0 124.1L206.5 124.1ZM203.1 121.2L204.3 123.4L201.8 123.4ZM205.4 117.8L206.7 120.1L204.2 120.1ZM210.0 120.5L211.2 122.7L208.8 122.7ZM200.8 120.2L202.1 122.4L199.6 122.4ZM212.3 120.2L213.6 122.4L211.1 122.4ZM198.5 121.5L199.8 123.7L197.2 123.7ZM213.5 122.1L214.7 124.3L212.2 124.3ZM214.6 120.3L215.8 122.6L213.3 122.6ZM196.2 120.9L197.5 123.1L195.0 123.1ZM216.9 120.7L218.2 122.9L215.7 122.9ZM193.9 120.0L195.2 122.2L192.7 122.2ZM193.9 122.0L195.2 124.2L192.7 124.2ZM204.2 123.3L205.5 125.5L203.0 125.5ZM219.2 121.1L220.5 123.4L218.0 123.4ZM191.6 121.2L192.8 123.4L190.3 123.4ZM194.8 120.1L196.1 122.3L193.6 122.3ZM206.6 119.8L207.8 122.1L205.3 122.1ZM203.1 118.3L204.3 120.5L201.8 120.5ZM200.8 122.2L202.1 124.4L199.6 124.4ZM210.0 122.8L211.2 125.1L208.8 125.1ZM215.8 122.5L217.0 124.7L214.5 124.7ZM198.5 119.0L199.8 121.2L197.2 121.2ZM217.0 120.9L218.2 123.2L215.7 123.2ZM193.3 120.4L194.5 122.7L192.0 122.7ZM211.5 120.5L212.8 122.8L210.3 122.8ZM198.0 120.3L199.3 122.5L196.8 122.5ZM212.4 120.5L213.7 122.8L211.2 122.8ZM205.4 122.1L206.7 124.3L204.2 124.3ZM198.9 121.5L200.1 123.7L197.6 123.7ZM198.1 121.5L199.4 123.8L196.9 123.8ZM215.1 120.7L216.4 122.9L213.9 122.9ZM206.2 122.1L207.4 124.3L204.9 124.3ZM193.1 121.0L194.4 123.2L191.9 123.2ZM205.9 122.7L207.2 125.0L204.7 125.0ZM220.7 120.9L221.9 123.1L219.4 123.1ZM218.1 121.0L219.3 123.2L216.8 123.2ZM195.2 120.9L196.4 123.1L193.9 123.1ZM196.6 121.8L197.9 124.1L195.4 124.1ZM207.7 117.0L209.0 119.2L206.5 119.2ZM193.6 119.6L194.9 121.8L192.4 121.8ZM210.8 120.4L212.0 122.6L209.5 122.6ZM204.2 119.9L205.5 122.2L203.0 122.2ZM191.8 121.2L193.1 123.5L190.6 123.5ZM218.7 120.1L220.0 122.3L217.5 122.3ZM191.8 120.3L193.0 122.5L190.5 122.5ZM218.4 122.7L219.7 125.0L217.2 125.0ZM189.6 121.3L190.9 123.5L188.4 123.5ZM210.0 118.3L211.2 120.5L208.8 120.5ZM208.2 119.1L209.4 121.4L206.9 121.4ZM206.6 119.9L207.8 122.2L205.3 122.2ZM202.0 116.5L203.2 118.8L200.7 118.8ZM203.0 119.9L204.2 122.2L201.7 122.2ZM207.6 120.8L208.8 123.0L206.3 123.0ZM194.7 121.2L195.9 123.5L193.4 123.5ZM221.0 119.9L222.3 122.2L219.8 122.2ZM205.4 114.4L206.7 116.6L204.2 116.6ZM195.5 120.2L196.7 122.5L194.2 122.5ZM195.1 120.4L196.4 122.6L193.9 122.6ZM212.9 120.3L214.1 122.5L211.6 122.5ZM190.3 120.9L191.6 123.2L189.1 123.2ZM216.9 118.7L218.2 121.0L215.7 121.0ZM214.7 119.8L215.9 122.0L213.4 122.0ZM194.2 119.3L195.5 121.5L193.0 121.5ZM218.1 119.0L219.4 121.2L216.9 121.2ZM209.3 122.3L210.6 124.6L208.1 124.6ZM218.7 121.4L220.0 123.7L217.5 123.7ZM208.1 120.2L209.4 122.4L206.9 122.4ZM189.5 119.9L190.7 122.2L188.2 122.2ZM217.9 120.9L219.2 123.1L216.7 123.1ZM191.3 121.7L192.6 124.0L190.1 124.0ZM191.4 120.8L192.7 123.0L190.2 123.0ZM214.3 122.5L215.5 124.7L213.0 124.7ZM218.5 122.9L219.8 125.2L217.3 125.2ZM199.7 122.1L200.9 124.3L198.4 124.3ZM204.9 122.6L206.1 124.8L203.6 124.8ZM190.4 121.3L191.7 123.6L189.2 123.6ZM198.7 120.3L200.0 122.5L197.5 122.5ZM215.9 121.3L217.1 123.5L214.6 123.5ZM209.7 119.3L211.0 121.5L208.5 121.5ZM220.9 121.1L222.1 123.4L219.6 123.4ZM200.8 118.3L202.1 120.5L199.6 120.5ZM213.2 120.9L214.5 123.1L212.0 123.1ZM206.4 121.2L207.7 123.4L205.2 123.4ZM208.4 122.3L209.7 124.6L207.2 124.6ZM214.1 121.0L215.3 123.2L212.8 123.2ZM193.0 119.8L194.2 122.0L191.7 122.0ZM203.3 120.3L204.6 122.5L202.1 122.5ZM210.8 118.8L212.0 121.1L209.5 121.1ZM206.9 121.6L208.2 123.8L205.7 123.8ZM197.6 120.4L198.8 122.7L196.3 122.7ZM212.3 120.5L213.6 122.8L211.1 122.8ZM212.5 121.6L213.7 123.8L211.2 123.8ZM197.7 120.8L199.0 123.1L196.5 123.1ZM206.8 122.7L208.1 124.9L205.6 124.9ZM216.7 120.9L217.9 123.2L215.4 123.2ZM208.7 121.7L210.0 124.0L207.5 124.0ZM197.8 122.6L199.0 124.8L196.5 124.8ZM253.5 114.3L254.8 116.5L252.2 116.5ZM255.8 113.7L257.1 115.9L254.6 115.9ZM253.5 117.8L254.8 120.0L252.2 120.0ZM255.8 116.7L257.1 119.0L254.6 119.0ZM253.5 109.8L254.8 112.1L252.2 112.1ZM253.5 102.9L254.8 105.2L252.2 105.2ZM253.5 119.8L254.8 122.1L252.2 122.1ZM255.8 119.7L257.1 122.0L254.6 122.0ZM251.2 117.0L252.4 119.3L249.9 119.3ZM251.2 114.4L252.4 116.7L249.9 116.7ZM255.8 110.0L257.1 112.3L254.6 112.3ZM253.5 99.6L254.8 101.9L252.2 101.9ZM258.1 114.7L259.4 116.9L256.9 116.9ZM251.2 109.3L252.4 111.5L249.9 111.5ZM250.1 111.1L251.3 113.3L248.8 113.3ZM248.9 115.3L250.2 117.6L247.7 117.6ZM258.1 117.8L259.4 120.0L256.9 120.0ZM260.4 114.0L261.6 116.2L259.1 116.2ZM255.8 99.6L257.1 101.9L254.6 101.9ZM251.2 120.1L252.4 122.4L249.9 122.4ZM248.9 113.3L250.2 115.6L247.7 115.6ZM248.9 117.8L250.2 120.0L247.7 120.0ZM259.2 119.6L260.5 121.8L258.0 121.8ZM248.9 120.7L250.2 123.0L247.7 123.0ZM254.7 121.6L255.9 123.9L253.4 123.9ZM251.2 99.6L252.4 101.9L249.9 101.9ZM252.3 112.6L253.6 114.9L251.1 114.9ZM246.6 118.1L247.8 120.3L245.3 120.3ZM258.1 111.2L259.4 113.5L256.9 113.5ZM261.6 119.3L262.8 121.5L260.3 121.5ZM254.7 111.8L255.9 114.1L253.4 114.1ZM244.3 118.4L245.6 120.6L243.1 120.6ZM260.4 116.9L261.6 119.1L259.1 119.1ZM262.7 117.2L263.9 119.4L261.4 119.4ZM246.6 114.9L247.8 117.2L245.3 117.2ZM258.1 99.6L259.4 101.9L256.9 101.9ZM265.0 117.2L266.2 119.4L263.8 119.4ZM242.0 117.5L243.2 119.8L240.8 119.8ZM247.8 110.1L249.0 112.4L246.5 112.4ZM246.6 120.8L247.8 123.1L245.3 123.1ZM255.8 104.4L257.1 106.6L254.6 106.6ZM267.3 117.8L268.6 120.0L266.1 120.0ZM253.5 78.0L254.8 80.2L252.2 80.2ZM258.1 108.5L259.4 110.8L256.9 110.8ZM260.4 111.2L261.6 113.4L259.1 113.4ZM248.9 99.6L250.2 101.9L247.7 101.9ZM262.7 114.3L263.9 116.6L261.4 116.6ZM246.6 112.2L247.8 114.4L245.3 114.4ZM253.5 84.9L254.8 87.2L252.2 87.2ZM253.5 104.9L254.8 107.2L252.2 107.2ZM251.2 104.2L252.4 106.5L249.9 106.5ZM244.3 112.9L245.6 115.2L243.1 115.2ZM253.5 70.2L254.8 72.4L252.2 72.4ZM263.9 119.3L265.1 121.6L262.6 121.6ZM239.7 118.0L240.9 120.2L238.4 120.2ZM262.7 112.3L263.9 114.6L261.4 114.6ZM248.5 117.6L249.8 119.8L247.3 119.8ZM265.0 112.5L266.2 114.8L263.8 114.8ZM244.3 116.2L245.6 118.4L243.1 118.4ZM242.0 119.5L243.2 121.7L240.8 121.7ZM242.0 112.0L243.2 114.3L240.8 114.3ZM267.3 112.6L268.6 114.9L266.1 114.9ZM239.7 112.9L240.9 115.2L238.4 115.2ZM239.7 115.9L240.9 118.2L238.4 118.2ZM242.0 114.3L243.2 116.6L240.8 116.6ZM244.4 112.7L245.7 114.9L243.2 114.9ZM238.8 118.9L240.1 121.2L237.6 121.2ZM238.3 118.5L239.5 120.8L237.0 120.8ZM265.0 115.0L266.2 117.3L263.8 117.3ZM266.1 120.1L267.4 122.4L264.9 122.4ZM257.7 117.8L258.9 120.0L256.4 120.0ZM250.1 105.9L251.3 108.1L248.8 108.1ZM255.6 112.3L256.9 114.6L254.4 114.6ZM266.1 110.8L267.4 113.1L264.9 113.1ZM253.5 74.5L254.8 76.8L252.2 76.8ZM263.4 111.8L264.6 114.0L262.1 114.0ZM258.1 121.3L259.4 123.6L256.9 123.6ZM256.9 106.1L258.2 108.3L255.7 108.3ZM268.7 117.7L270.0 119.9L267.5 119.9ZM254.7 97.9L255.9 100.2L253.4 100.2ZM247.0 113.5L248.3 115.8L245.8 115.8ZM261.6 109.4L262.8 111.6L260.3 111.6ZM238.6 111.1L239.8 113.4L237.3 113.4ZM259.0 112.8L260.2 115.1L257.7 115.1ZM266.9 112.4L268.2 114.7L265.7 114.7ZM244.4 113.0L245.7 115.3L243.2 115.3ZM259.6 117.7L260.8 120.0L258.3 120.0ZM244.3 110.6L245.6 112.9L243.1 112.9ZM240.8 110.3L242.1 112.5L239.6 112.5ZM258.8 119.1L260.1 121.4L257.6 121.4ZM253.5 107.8L254.8 110.0L252.2 110.0ZM268.1 113.8L269.3 116.1L266.8 116.1ZM260.4 121.7L261.6 123.9L259.1 123.9ZM265.3 113.6L266.5 115.8L264.0 115.8ZM245.0 114.5L246.3 116.8L243.8 116.8ZM258.1 104.4L259.4 106.7L256.9 106.7ZM257.7 115.3L259.0 117.6L256.5 117.6ZM256.9 102.7L258.2 104.9L255.7 104.9ZM240.4 111.1L241.6 113.4L239.1 113.4ZM251.2 116.3L252.4 118.6L249.9 118.6ZM247.8 105.3L249.0 107.5L246.5 107.5ZM245.4 108.9L246.7 111.1L244.2 111.1ZM263.9 109.8L265.1 112.1L262.6 112.1ZM250.1 115.9L251.3 118.2L248.8 118.2ZM253.5 91.0L254.8 93.2L252.2 93.2ZM239.4 119.3L240.7 121.5L238.2 121.5ZM249.8 113.7L251.0 116.0L248.5 116.0ZM268.4 109.3L269.7 111.5L267.2 111.5ZM260.4 104.8L261.6 107.1L259.1 107.1ZM248.0 115.3L249.3 117.5L246.8 117.5ZM253.4 109.6L254.7 111.9L252.2 111.9ZM246.5 114.1L247.7 116.3L245.2 116.3ZM242.6 110.4L243.8 112.7L241.3 112.7ZM250.4 116.5L251.6 118.7L249.1 118.7ZM252.7 115.2L254.0 117.4L251.5 117.4ZM242.8 115.5L244.1 117.8L241.6 117.8ZM268.4 120.0L269.7 122.2L267.2 122.2ZM258.8 113.7L260.0 116.0L257.5 116.0ZM245.2 116.9L246.4 119.2L243.9 119.2ZM240.5 112.5L241.7 114.7L239.2 114.7ZM248.4 111.2L249.7 113.4L247.2 113.4ZM251.0 118.6L252.3 120.8L249.8 120.8ZM242.3 112.8L243.6 115.0L241.1 115.0ZM256.1 119.9L257.4 122.2L254.9 122.2ZM244.3 121.0L245.6 123.2L243.1 123.2ZM259.9 111.4L261.2 113.6L258.7 113.6ZM252.3 122.5L253.6 124.7L251.1 124.7ZM243.2 108.5L244.4 110.7L241.9 110.7ZM255.2 120.7L256.5 122.9L254.0 122.9ZM259.9 117.2L261.2 119.5L258.7 119.5ZM238.2 112.4L239.5 114.7L237.0 114.7ZM250.0 118.8L251.3 121.0L248.8 121.0ZM249.2 117.3L250.4 119.6L247.9 119.6ZM267.3 115.6L268.6 117.9L266.1 117.9ZM239.5 118.1L240.8 120.3L238.3 120.3ZM250.4 114.2L251.7 116.4L249.2 116.4ZM239.2 113.7L240.5 115.9L238.0 115.9ZM253.4 117.2L254.6 119.4L252.1 119.4ZM245.4 105.2L246.7 107.4L244.2 107.4ZM256.2 110.8L257.5 113.0L255.0 113.0ZM252.5 111.5L253.8 113.7L251.3 113.7ZM247.9 110.3L249.2 112.6L246.7 112.6ZM252.3 96.6L253.6 98.9L251.1 98.9ZM260.4 100.7L261.6 103.0L259.1 103.0ZM245.6 118.7L246.9 120.9L244.4 120.9ZM238.3 114.2L239.5 116.5L237.0 116.5ZM248.6 111.6L249.9 113.8L247.4 113.8ZM266.0 115.7L267.3 118.0L264.8 118.0ZM255.6 113.2L256.9 115.4L254.4 115.4ZM262.7 104.0L263.9 106.2L261.4 106.2ZM262.7 106.2L263.9 108.5L261.4 108.5ZM245.9 120.0L247.1 122.2L244.6 122.2ZM258.9 113.6L260.1 115.8L257.6 115.8ZM243.5 110.5L244.7 112.8L242.2 112.8ZM253.5 52.0L254.8 54.3L252.2 54.3ZM252.5 119.4L253.8 121.6L251.3 121.6ZM257.2 115.1L258.4 117.3L255.9 117.3ZM268.0 117.6L269.3 119.9L266.8 119.9ZM249.1 119.0L250.4 121.2L247.9 121.2ZM243.2 106.1L244.4 108.3L241.9 108.3ZM255.9 116.7L257.2 118.9L254.7 118.9ZM267.7 114.5L268.9 116.7L266.4 116.7ZM265.0 105.6L266.2 107.9L263.8 107.9ZM262.2 118.6L263.4 120.9L260.9 120.9ZM257.6 110.1L258.8 112.3L256.3 112.3ZM257.4 112.8L258.6 115.0L256.1 115.0ZM250.7 114.2L251.9 116.5L249.4 116.5ZM250.8 113.6L252.0 115.8L249.5 115.8ZM246.3 118.5L247.6 120.8L245.1 120.8ZM246.6 99.6L247.8 101.9L245.3 101.9ZM264.0 114.1L265.3 116.3L262.8 116.3ZM250.1 122.3L251.3 124.6L248.8 124.6ZM265.7 117.6L266.9 119.8L264.4 119.8ZM262.7 122.1L263.9 124.3L261.4 124.3ZM248.9 108.2L250.2 110.4L247.7 110.4ZM249.7 110.7L251.0 112.9L248.5 112.9ZM266.6 110.8L267.9 113.0L265.4 113.0ZM238.7 112.9L240.0 115.2L237.5 115.2ZM266.1 108.7L267.4 111.0L264.9 111.0ZM241.8 114.7L243.1 117.0L240.6 117.0ZM253.7 117.5L255.0 119.7L252.5 119.7ZM248.9 103.0L250.2 105.3L247.7 105.3ZM247.4 120.5L248.6 122.8L246.1 122.8ZM249.0 116.4L250.3 118.6L247.8 118.6ZM268.8 120.3L270.0 122.6L267.5 122.6ZM242.3 115.1L243.5 117.3L241.0 117.3ZM243.7 119.0L244.9 121.3L242.4 121.3ZM244.8 112.0L246.1 114.2L243.6 114.2ZM259.3 117.9L260.5 120.1L258.0 120.1ZM262.7 99.6L263.9 101.9L261.4 101.9ZM245.0 113.7L246.3 116.0L243.8 116.0ZM237.5 111.9L238.8 114.2L236.3 114.2ZM242.0 121.7L243.2 124.0L240.8 124.0ZM259.2 106.5L260.5 108.8L258.0 108.8ZM254.9 117.1L256.2 119.4L253.7 119.4ZM250.1 110.5L251.4 112.7L248.9 112.7ZM245.2 118.4L246.4 120.7L243.9 120.7ZM253.3 116.2L254.5 118.4L252.0 118.4ZM258.3 115.4L259.6 117.6L257.1 117.6ZM255.0 117.2L256.3 119.4L253.8 119.4ZM257.5 116.0L258.7 118.3L256.2 118.3ZM238.6 108.9L239.8 111.2L237.3 111.2ZM240.8 105.0L242.1 107.3L239.6 107.3ZM244.3 100.6L245.6 102.9L243.1 102.9ZM253.5 94.4L254.8 96.7L252.2 96.7ZM255.4 119.9L256.7 122.1L254.2 122.1ZM264.1 110.9L265.3 113.1L262.8 113.1ZM268.5 118.5L269.8 120.8L267.3 120.8ZM248.2 113.9L249.4 116.1L246.9 116.1ZM248.6 114.6L249.8 116.8L247.3 116.8ZM265.9 113.8L267.1 116.1L264.6 116.1ZM247.5 119.9L248.8 122.2L246.3 122.2ZM260.4 114.6L261.7 116.8L259.2 116.8ZM259.8 120.7L261.0 123.0L258.5 123.0ZM253.5 81.9L254.8 84.1L252.2 84.1ZM259.5 116.8L260.7 119.0L258.2 119.0ZM267.3 106.6L268.6 108.8L266.1 108.8ZM268.3 112.3L269.6 114.5L267.1 114.5ZM263.9 109.1L265.1 111.3L262.6 111.3ZM242.6 113.9L243.9 116.1L241.4 116.1ZM257.4 116.1L258.6 118.4L256.1 118.4ZM265.0 99.6L266.2 101.9L263.8 101.9ZM253.2 118.3L254.5 120.5L252.0 120.5ZM255.5 116.5L256.8 118.7L254.3 118.7ZM249.3 109.8L250.6 112.0L248.1 112.0ZM301.7 112.3L302.9 114.6L300.4 114.6ZM304.0 111.1L305.2 113.4L302.8 113.4ZM301.7 117.8L302.9 120.0L300.4 120.0ZM301.7 121.6L302.9 123.8L300.4 123.8ZM304.0 120.0L305.2 122.3L302.8 122.3ZM301.7 96.2L302.9 98.4L300.4 98.4ZM304.0 123.0L305.2 125.3L302.8 125.3ZM299.4 120.0L300.6 122.2L298.1 122.2ZM305.1 118.2L306.4 120.4L303.9 120.4ZM297.1 119.3L298.3 121.5L295.8 121.5ZM299.4 123.0L300.6 125.3L298.1 125.3ZM301.7 114.7L302.9 117.0L300.4 117.0ZM306.3 123.0L307.6 125.3L305.1 125.3ZM297.1 121.3L298.3 123.5L295.8 123.5ZM307.4 118.2L308.7 120.4L306.2 120.4ZM306.3 121.1L307.6 123.4L305.1 123.4ZM308.6 121.4L309.8 123.7L307.3 123.7ZM294.8 122.6L296.1 124.9L293.6 124.9ZM301.7 110.2L302.9 112.5L300.4 112.5ZM294.8 120.2L296.1 122.4L293.6 122.4ZM310.9 120.6L312.1 122.8L309.6 122.8ZM292.5 121.2L293.8 123.4L291.2 123.4ZM309.8 118.5L311.0 120.8L308.5 120.8ZM312.1 122.5L313.3 124.7L310.8 124.7ZM304.0 116.5L305.2 118.8L302.8 118.8ZM299.4 118.0L300.6 120.3L298.1 120.3ZM290.2 121.4L291.4 123.6L288.9 123.6ZM298.2 116.2L299.5 118.4L297.0 118.4ZM306.3 116.2L307.6 118.5L305.1 118.5ZM314.3 122.5L315.6 124.7L313.1 124.7ZM294.8 118.1L296.1 120.4L293.6 120.4ZM292.5 117.6L293.8 119.8L291.2 119.8ZM295.9 115.3L297.2 117.5L294.7 117.5ZM304.0 113.5L305.2 115.7L302.8 115.7ZM301.7 107.4L302.9 109.7L300.4 109.7ZM312.1 118.4L313.3 120.7L310.8 120.7ZM313.2 120.1L314.4 122.4L311.9 122.4ZM287.9 122.9L289.1 125.2L286.6 125.2ZM290.2 119.2L291.4 121.5L288.9 121.5ZM316.6 121.1L317.9 123.4L315.4 123.4ZM299.4 113.7L300.6 116.0L298.1 116.0ZM314.3 118.1L315.6 120.4L313.1 120.4ZM287.9 118.8L289.1 121.0L286.6 121.0ZM316.6 119.2L317.9 121.4L315.4 121.4ZM294.5 121.8L295.7 124.0L293.2 124.0ZM306.3 113.2L307.6 115.4L305.1 115.4ZM299.4 111.5L300.6 113.7L298.1 113.7ZM302.8 105.7L304.1 107.9L301.6 107.9ZM306.3 110.0L307.6 112.3L305.1 112.3ZM293.0 117.4L294.2 119.6L291.7 119.6ZM297.1 110.9L298.3 113.1L295.8 113.1ZM300.6 105.7L301.8 107.9L299.3 107.9ZM301.1 121.5L302.4 123.7L299.9 123.7ZM290.2 117.2L291.4 119.5L288.9 119.5ZM308.6 114.4L309.8 116.6L307.3 116.6ZM297.4 118.8L298.7 121.1L296.2 121.1ZM294.0 119.6L295.3 121.8L292.8 121.8ZM310.9 116.7L312.1 118.9L309.6 118.9ZM287.3 118.9L288.6 121.1L286.1 121.1ZM287.9 120.7L289.1 123.0L286.6 123.0ZM287.8 118.2L289.0 120.5L286.5 120.5ZM314.3 120.5L315.5 122.8L313.0 122.8ZM295.6 123.0L296.8 125.3L294.3 125.3ZM297.1 112.9L298.3 115.2L295.8 115.2ZM288.2 118.2L289.5 120.5L287.0 120.5ZM305.1 104.4L306.4 106.7L303.9 106.7ZM291.5 123.0L292.8 125.3L290.3 125.3ZM293.6 115.4L294.9 117.6L292.4 117.6ZM308.6 116.4L309.8 118.7L307.3 118.7ZM301.2 117.6L302.4 119.8L299.9 119.8ZM310.9 114.6L312.1 116.8L309.6 116.8ZM317.6 119.2L318.9 121.4L316.4 121.4ZM292.2 120.8L293.4 123.0L290.9 123.0ZM313.2 116.2L314.4 118.4L311.9 118.4ZM313.5 119.5L314.7 121.7L312.2 121.7ZM301.2 118.0L302.4 120.3L299.9 120.3ZM299.0 119.5L300.2 121.8L297.7 121.8ZM311.5 121.5L312.8 123.8L310.3 123.8ZM298.4 119.0L299.6 121.2L297.1 121.2ZM291.3 114.7L292.6 117.0L290.1 117.0ZM316.6 117.1L317.9 119.3L315.4 119.3ZM313.2 114.0L314.4 116.3L311.9 116.3ZM287.5 122.1L288.8 124.3L286.3 124.3ZM303.3 117.5L304.6 119.8L302.1 119.8ZM306.7 121.0L308.0 123.3L305.5 123.3ZM305.6 119.6L306.9 121.9L304.4 121.9ZM294.6 120.3L295.8 122.5L293.3 122.5ZM315.7 121.3L317.0 123.6L314.5 123.6ZM313.4 120.2L314.6 122.4L312.1 122.4ZM317.5 118.4L318.8 120.6L316.3 120.6ZM299.9 117.8L301.1 120.0L298.6 120.0ZM287.9 115.6L289.1 117.9L286.6 117.9ZM312.4 117.3L313.6 119.6L311.1 119.6ZM304.0 107.4L305.2 109.7L302.8 109.7ZM308.9 121.0L310.1 123.2L307.6 123.2ZM291.3 117.9L292.6 120.1L290.1 120.1ZM286.6 119.5L287.8 121.8L285.3 121.8ZM294.8 113.5L296.1 115.8L293.6 115.8ZM299.4 107.4L300.6 109.7L298.1 109.7ZM291.1 118.2L292.4 120.5L289.9 120.5ZM289.5 120.1L290.8 122.4L288.3 122.4ZM288.1 120.8L289.3 123.0L286.8 123.0ZM297.2 121.8L298.4 124.0L295.9 124.0ZM309.8 118.1L311.1 120.4L308.6 120.4ZM308.6 112.0L309.8 114.3L307.3 114.3ZM295.6 116.6L296.9 118.9L294.4 118.9ZM302.2 122.0L303.4 124.3L300.9 124.3ZM293.6 111.8L294.9 114.0L292.4 114.0ZM286.0 121.2L287.3 123.5L284.8 123.5ZM292.4 121.5L293.7 123.7L291.2 123.7ZM308.6 110.0L309.8 112.3L307.3 112.3ZM291.3 112.8L292.6 115.1L290.1 115.1ZM316.4 120.6L317.6 122.9L315.1 122.9ZM286.1 118.4L287.3 120.7L284.8 120.7ZM289.1 114.0L290.3 116.2L287.8 116.2ZM302.6 120.3L303.8 122.5L301.3 122.5ZM311.6 116.7L312.9 119.0L310.4 119.0ZM311.1 123.0L312.3 125.3L309.8 125.3ZM309.2 115.6L310.5 117.8L308.0 117.8ZM298.5 119.9L299.7 122.1L297.2 122.1ZM311.4 115.5L312.6 117.7L310.1 117.7ZM312.2 118.4L313.4 120.6L310.9 120.6ZM310.3 118.5L311.5 120.8L309.0 120.8ZM317.3 120.0L318.5 122.3L316.0 122.3ZM288.9 120.7L290.2 122.9L287.7 122.9ZM316.1 117.4L317.4 119.7L314.9 119.7ZM298.6 116.3L299.8 118.5L297.3 118.5Z" fill="none" stroke="#d06c84" stroke-width="0.42" opacity="0.85"/>
<g stroke="#111" fill="none">
<line x1="189.6" y1="122.36" x2="221.20000000000002" y2="122.36" stroke-width="1.1"/>
<line x1="205.4" y1="120.63" x2="205.4" y2="123.84" stroke-width="0.8"/>
<line x1="197.6" y1="120.63" x2="213.20000000000002" y2="120.63" stroke-width="0.8"/>
<line x1="197.6" y1="123.84" x2="213.20000000000002" y2="123.84" stroke-width="0.8"/>
<line x1="237.5" y1="116.30" x2="269.5" y2="116.30" stroke-width="1.1"/>
<line x1="253.5" y1="109.98" x2="253.5" y2="119.51" stroke-width="0.8"/>
<line x1="245.7" y1="109.98" x2="261.3" y2="109.98" stroke-width="0.8"/>
<line x1="245.7" y1="119.51" x2="261.3" y2="119.51" stroke-width="0.8"/>
<line x1="285.7" y1="119.94" x2="317.7" y2="119.94" stroke-width="1.1"/>
<line x1="301.7" y1="116.91" x2="301.7" y2="121.67" stroke-width="0.8"/>
<line x1="293.9" y1="116.91" x2="309.5" y2="116.91" stroke-width="0.8"/>
<line x1="293.9" y1="121.67" x2="309.5" y2="121.67" stroke-width="0.8"/>
</g>
<g stroke="#231f20" stroke-width="0.9" fill="none">
<line x1="368.3" y1="42.1" x2="368.3" y2="58.5"/>
<line x1="366.9" y1="58.5" x2="370" y2="58.5"/>
<line x1="368.3" y1="63.5" x2="368.3" y2="129.14999999999998"/>
<line x1="365.2" y1="63.5" x2="370" y2="63.5"/>
<line x1="367.85" y1="128.7" x2="512" y2="128.7"/>
<line x1="365.2" y1="128.70" x2="368.3" y2="128.70"/>
<line x1="365.2" y1="106.97" x2="368.3" y2="106.97"/>
<line x1="365.2" y1="85.24" x2="368.3" y2="85.24"/>
<line x1="365.2" y1="50.40" x2="368.3" y2="50.40"/>
<line x1="365.2" y1="44.60" x2="368.3" y2="44.60"/>
<line x1="392.4" y1="128.7" x2="392.4" y2="131.89999999999998"/>
<line x1="440.6" y1="128.7" x2="440.6" y2="131.89999999999998"/>
<line x1="488.5" y1="128.7" x2="488.5" y2="131.89999999999998"/>
</g>
<text x="362.20" y="130.80" font-size="7.4" text-anchor="end" fill="#231f20" >0</text>
<text x="362.20" y="109.07" font-size="7.4" text-anchor="end" fill="#231f20" >10</text>
<text x="362.20" y="87.34" font-size="7.4" text-anchor="end" fill="#231f20" >20</text>
<text x="362.20" y="65.60" font-size="7.4" text-anchor="end" fill="#231f20" >30</text>
<text x="362.20" y="52.50" font-size="7.4" text-anchor="end" fill="#231f20" >100</text>
<text x="362.20" y="46.70" font-size="7.4" text-anchor="end" fill="#231f20" >150</text>
<text x="392.40" y="141.90" font-size="7.2" text-anchor="middle" fill="#231f20" >1</text>
<text x="440.60" y="141.90" font-size="7.2" text-anchor="middle" fill="#231f20" >2</text>
<text x="488.50" y="141.90" font-size="7.2" text-anchor="middle" fill="#231f20" >3</text>
<text x="440.60" y="153.40" font-size="9.4" text-anchor="middle" fill="#231f20" textLength="26" lengthAdjust="spacingAndGlyphs">Mouse</text>
<text transform="translate(343.3 86.6) rotate(-90)" font-size="9.2" text-anchor="middle" fill="#231f20" textLength="74" lengthAdjust="spacingAndGlyphs">Displacement (uM)</text>
<path d="M392.4 119.9L393.6 122.1L391.1 122.1ZM392.4 116.8L393.6 119.1L391.1 119.1ZM394.8 116.7L396.0 119.0L393.5 119.0ZM392.4 124.6L393.6 126.9L391.1 126.9ZM394.8 121.5L396.0 123.7L393.5 123.7ZM390.0 117.5L391.2 119.7L388.8 119.7ZM394.8 119.3L396.0 121.5L393.5 121.5ZM392.4 122.1L393.6 124.3L391.1 124.3ZM394.8 124.0L396.0 126.2L393.5 126.2ZM397.2 116.1L398.4 118.3L395.9 118.3ZM392.4 114.7L393.6 117.0L391.1 117.0ZM387.6 117.6L388.8 119.8L386.3 119.8ZM398.4 118.0L399.6 120.3L397.1 120.3ZM392.4 100.3L393.6 102.5L391.1 102.5ZM392.4 110.9L393.6 113.2L391.1 113.2ZM394.8 109.7L396.0 112.0L393.5 112.0ZM390.0 122.9L391.2 125.1L388.8 125.1ZM397.2 123.0L398.4 125.2L395.9 125.2ZM385.2 116.9L386.4 119.2L383.9 119.2ZM390.0 119.9L391.2 122.1L388.8 122.1ZM390.0 114.9L391.2 117.2L388.8 117.2ZM388.8 124.8L390.0 127.0L387.5 127.0ZM400.8 117.8L402.0 120.0L399.5 120.0ZM392.4 103.1L393.6 105.4L391.1 105.4ZM385.2 119.2L386.4 121.4L383.9 121.4ZM397.2 120.0L398.4 122.2L395.9 122.2ZM394.8 113.4L396.0 115.7L393.5 115.7ZM387.6 120.9L388.8 123.1L386.3 123.1ZM382.8 118.1L384.0 120.3L381.5 120.3ZM386.4 124.1L387.6 126.4L385.1 126.4ZM399.6 122.5L400.8 124.7L398.3 124.7ZM403.2 118.7L404.4 121.0L401.9 121.0ZM400.8 120.7L402.0 122.9L399.5 122.9ZM390.0 111.0L391.2 113.2L388.8 113.2ZM384.0 123.6L385.2 125.9L382.8 125.9ZM387.6 114.9L388.8 117.2L386.3 117.2ZM380.4 118.8L381.6 121.0L379.1 121.0ZM402.0 124.1L403.2 126.3L400.8 126.3ZM399.6 115.0L400.8 117.3L398.3 117.3ZM405.6 118.7L406.8 121.0L404.3 121.0ZM381.6 123.4L382.8 125.6L380.3 125.6ZM378.0 118.7L379.2 120.9L376.8 120.9ZM382.8 120.4L384.0 122.7L381.5 122.7ZM385.2 121.8L386.4 124.0L383.9 124.0ZM408.0 118.9L409.2 121.2L406.8 121.2ZM392.0 119.8L393.2 122.1L390.7 122.1ZM404.4 122.9L405.6 125.1L403.1 125.1ZM391.2 112.8L392.4 115.1L389.9 115.1ZM397.2 111.2L398.4 113.4L395.9 113.4ZM399.1 117.5L400.3 119.8L397.8 119.8ZM387.6 110.9L388.8 113.1L386.3 113.1ZM385.2 114.8L386.4 117.0L383.9 117.0ZM379.2 119.6L380.4 121.9L377.9 121.9ZM379.2 123.9L380.4 126.2L377.9 126.2ZM402.4 117.5L403.7 119.8L401.2 119.8ZM406.8 122.6L408.0 124.9L405.5 124.9ZM402.0 114.2L403.2 116.4L400.8 116.4ZM398.5 118.1L399.7 120.4L397.2 120.4ZM379.2 121.8L380.4 124.0L377.9 124.0ZM392.4 87.0L393.6 89.3L391.1 89.3ZM379.9 119.4L381.2 121.6L378.7 121.6ZM397.2 113.6L398.4 115.8L395.9 115.8ZM382.8 115.7L384.0 117.9L381.5 117.9ZM376.8 123.8L378.0 126.1L375.5 126.1ZM379.5 117.2L380.7 119.4L378.2 119.4ZM404.3 118.7L405.5 120.9L403.0 120.9ZM403.2 121.1L404.4 123.3L401.9 123.3ZM405.6 116.7L406.8 118.9L404.3 118.9ZM405.6 120.8L406.8 123.0L404.3 123.0ZM385.5 120.0L386.8 122.2L384.3 122.2ZM376.8 121.0L378.0 123.2L375.5 123.2ZM400.6 117.0L401.8 119.2L399.3 119.2ZM382.1 122.0L383.4 124.3L380.9 124.3ZM401.2 120.6L402.5 122.8L400.0 122.8ZM393.8 121.7L395.0 123.9L392.5 123.9ZM399.6 110.9L400.8 113.2L398.3 113.2ZM381.9 123.8L383.2 126.1L380.7 126.1ZM385.2 110.5L386.4 112.8L383.9 112.8ZM402.0 111.4L403.2 113.7L400.8 113.7ZM387.1 119.9L388.4 122.2L385.9 122.2ZM378.0 115.5L379.2 117.8L376.8 117.8ZM400.9 120.3L402.2 122.6L399.7 122.6ZM379.6 121.0L380.8 123.2L378.3 123.2ZM403.8 123.6L405.1 125.9L402.6 125.9ZM404.6 121.8L405.9 124.1L403.4 124.1ZM386.4 119.9L387.6 122.2L385.1 122.2ZM385.8 121.9L387.0 124.2L384.5 124.2ZM387.2 122.2L388.4 124.4L385.9 124.4ZM408.4 118.7L409.6 120.9L407.1 120.9ZM389.5 123.8L390.7 126.0L388.2 126.0ZM394.8 101.8L396.0 104.1L393.5 104.1ZM378.5 122.0L379.8 124.3L377.3 124.3ZM378.6 120.9L379.9 123.1L377.4 123.1ZM377.7 121.0L378.9 123.2L376.4 123.2ZM379.4 119.7L380.7 121.9L378.2 121.9ZM400.0 120.7L401.2 122.9L398.7 122.9ZM407.1 121.1L408.3 123.3L405.8 123.3ZM394.8 104.6L396.0 106.9L393.5 106.9ZM389.4 119.2L390.7 121.4L388.2 121.4ZM394.8 99.2L396.0 101.5L393.5 101.5ZM384.0 112.4L385.2 114.7L382.8 114.7ZM391.2 120.1L392.4 122.4L389.9 122.4ZM378.7 118.0L379.9 120.3L377.4 120.3ZM389.9 121.8L391.1 124.0L388.6 124.0ZM382.8 109.7L384.0 112.0L381.5 112.0ZM406.5 120.1L407.7 122.4L405.2 122.4ZM381.6 113.4L382.8 115.6L380.3 115.6ZM393.7 120.5L395.0 122.7L392.5 122.7ZM404.4 114.4L405.6 116.6L403.1 116.6ZM397.2 123.1L398.5 125.4L396.0 125.4ZM398.2 118.9L399.5 121.1L397.0 121.1ZM386.7 120.4L388.0 122.7L385.5 122.7ZM408.0 116.7L409.2 118.9L406.8 118.9ZM388.0 121.3L389.2 123.5L386.7 123.5ZM378.8 116.1L380.1 118.3L377.6 118.3ZM388.6 122.4L389.8 124.6L387.3 124.6ZM397.2 125.3L398.4 127.5L395.9 127.5ZM406.8 114.2L408.0 116.5L405.5 116.5ZM381.8 118.4L383.1 120.7L380.6 120.7ZM384.3 116.5L385.5 118.8L383.0 118.8ZM396.1 120.7L397.3 122.9L394.8 122.9ZM440.6 121.0L441.9 123.3L439.4 123.3ZM440.6 91.9L441.9 94.2L439.4 94.2ZM440.6 123.8L441.9 126.1L439.4 126.1ZM440.6 118.5L441.9 120.7L439.4 120.7ZM440.6 54.1L441.9 56.3L439.4 56.3ZM443.0 118.4L444.2 120.6L441.8 120.6ZM440.6 101.1L441.9 103.4L439.4 103.4ZM438.2 118.4L439.5 120.7L437.0 120.7ZM441.8 116.6L443.1 118.9L440.6 118.9ZM443.0 122.5L444.2 124.7L441.8 124.7ZM438.2 121.0L439.5 123.3L437.0 123.3ZM443.0 54.1L444.2 56.4L441.8 56.4ZM440.6 109.0L441.9 111.3L439.4 111.3ZM438.2 54.1L439.5 56.4L437.0 56.4ZM440.6 106.6L441.9 108.8L439.4 108.8ZM441.8 52.2L443.1 54.4L440.6 54.4ZM445.4 54.1L446.7 56.3L444.2 56.3ZM445.4 121.3L446.7 123.5L444.2 123.5ZM441.8 102.9L443.1 105.1L440.6 105.1ZM443.0 110.6L444.2 112.9L441.8 112.9ZM438.2 101.6L439.5 103.8L437.0 103.8ZM438.2 109.5L439.5 111.7L437.0 111.7ZM440.6 96.3L441.9 98.5L439.4 98.5ZM443.0 106.0L444.2 108.2L441.8 108.2ZM440.6 113.4L441.9 115.6L439.4 115.6ZM438.2 112.6L439.5 114.9L437.0 114.9ZM445.4 117.4L446.7 119.7L444.2 119.7ZM438.2 115.0L439.5 117.3L437.0 117.3ZM445.4 111.0L446.7 113.3L444.2 113.3ZM435.8 119.6L437.1 121.9L434.6 121.9ZM435.8 111.9L437.1 114.1L434.6 114.1ZM438.2 104.9L439.5 107.1L437.0 107.1ZM447.8 119.1L449.1 121.4L446.6 121.4ZM439.4 52.2L440.7 54.5L438.2 54.5ZM443.0 91.3L444.2 93.6L441.8 93.6ZM445.4 105.0L446.7 107.2L444.2 107.2ZM435.8 105.7L437.1 108.0L434.6 108.0ZM433.4 118.9L434.7 121.2L432.2 121.2ZM435.8 54.2L437.1 56.5L434.6 56.5ZM444.2 102.8L445.5 105.1L443.0 105.1ZM440.6 89.4L441.9 91.7L439.4 91.7ZM440.6 78.1L441.9 80.4L439.4 80.4ZM434.6 121.6L435.9 123.9L433.4 123.9ZM447.8 121.3L449.1 123.5L446.6 123.5ZM443.0 114.6L444.2 116.9L441.8 116.9ZM438.2 107.0L439.5 109.3L437.0 109.3ZM435.8 117.0L437.1 119.3L434.6 119.3ZM450.2 117.6L451.5 119.8L449.0 119.8ZM432.2 122.7L433.5 125.0L431.0 125.0ZM447.8 116.0L449.1 118.3L446.6 118.3ZM450.2 119.7L451.5 122.0L449.0 122.0ZM447.8 54.2L449.1 56.4L446.6 56.4ZM447.8 105.8L449.1 108.1L446.6 108.1ZM431.0 117.8L432.2 120.0L429.8 120.0ZM445.4 114.1L446.7 116.4L444.2 116.4ZM452.6 117.2L453.9 119.5L451.4 119.5ZM440.6 111.4L441.9 113.6L439.4 113.6ZM438.2 123.1L439.5 125.4L437.0 125.4ZM447.8 112.6L449.1 114.9L446.6 114.9ZM428.6 118.7L429.9 121.0L427.4 121.0ZM455.0 118.8L456.2 121.1L453.8 121.1ZM443.0 96.0L444.2 98.2L441.8 98.2ZM433.4 105.6L434.7 107.9L432.2 107.9ZM435.8 114.2L437.1 116.5L434.6 116.5ZM445.4 124.0L446.7 126.3L444.2 126.3ZM426.2 119.0L427.5 121.3L425.0 121.3ZM433.4 54.2L434.7 56.4L432.2 56.4ZM435.8 109.9L437.1 112.1L434.6 112.1ZM431.0 117.8L432.3 120.0L429.8 120.0ZM433.4 112.5L434.7 114.8L432.2 114.8ZM450.2 122.7L451.5 125.0L449.0 125.0ZM444.2 52.3L445.5 54.6L443.0 54.6ZM433.4 115.1L434.7 117.4L432.2 117.4ZM450.2 112.3L451.5 114.5L449.0 114.5ZM429.8 123.2L431.1 125.5L428.6 125.5ZM444.2 108.7L445.5 111.0L443.0 111.0ZM431.0 113.9L432.2 116.1L429.8 116.1ZM441.7 118.5L442.9 120.7L440.4 120.7ZM456.2 117.1L457.5 119.3L455.0 119.3ZM452.6 113.1L453.9 115.4L451.4 115.4ZM440.6 44.5L441.9 46.8L439.4 46.8ZM429.8 121.2L431.1 123.5L428.6 123.5ZM453.0 118.0L454.3 120.3L451.8 120.3ZM430.1 117.7L431.4 119.9L428.9 119.9ZM452.6 122.5L453.9 124.7L451.4 124.7ZM425.0 117.1L426.2 119.4L423.8 119.4ZM437.3 118.6L438.5 120.9L436.0 120.9ZM429.8 112.0L431.1 114.2L428.6 114.2ZM425.7 117.1L426.9 119.3L424.4 119.3ZM427.4 112.9L428.7 115.1L426.2 115.1ZM426.5 118.0L427.7 120.3L425.2 120.3ZM455.0 111.7L456.2 114.0L453.8 114.0ZM450.2 115.1L451.5 117.4L449.0 117.4ZM435.8 101.2L437.1 103.5L434.6 103.5ZM440.6 65.5L441.9 67.8L439.4 67.8ZM430.6 119.5L431.9 121.7L429.4 121.7ZM443.0 44.4L444.2 46.6L441.8 46.6ZM437.0 52.3L438.2 54.5L435.8 54.5ZM425.0 113.0L426.2 115.3L423.8 115.3ZM456.2 113.6L457.5 115.8L455.0 115.8ZM435.8 124.1L437.1 126.4L434.6 126.4ZM427.4 120.8L428.7 123.1L426.2 123.1ZM452.5 117.0L453.7 119.2L451.2 119.2ZM450.2 54.2L451.5 56.4L449.0 56.4ZM437.1 113.8L438.4 116.1L435.9 116.1ZM449.0 104.1L450.2 106.4L447.8 106.4ZM428.6 115.9L429.9 118.1L427.4 118.1ZM443.0 101.1L444.2 103.3L441.8 103.3ZM455.0 121.8L456.2 124.1L453.8 124.1ZM446.6 108.7L447.9 110.9L445.4 110.9ZM431.0 54.2L432.2 56.4L429.8 56.4ZM449.3 116.8L450.5 119.0L448.0 119.0ZM452.6 54.1L453.9 56.3L451.4 56.3ZM452.6 120.1L453.9 122.4L451.4 122.4ZM428.3 119.5L429.5 121.8L427.0 121.8ZM445.4 100.7L446.7 102.9L444.2 102.9ZM447.8 110.4L449.1 112.7L446.6 112.7ZM433.4 108.5L434.7 110.7L432.2 110.7ZM443.0 120.4L444.2 122.7L441.8 122.7ZM427.4 122.9L428.7 125.2L426.2 125.2ZM449.0 107.6L450.2 109.9L447.8 109.9ZM453.8 115.3L455.1 117.5L452.6 117.5ZM436.9 111.3L438.1 113.6L435.6 113.6ZM431.0 107.5L432.2 109.7L429.8 109.7ZM450.2 109.9L451.5 112.2L449.0 112.2ZM431.0 109.8L432.2 112.1L429.8 112.1ZM446.6 102.8L447.9 105.1L445.4 105.1ZM428.6 54.0L429.9 56.3L427.4 56.3ZM431.0 105.4L432.2 107.6L429.8 107.6ZM438.2 92.3L439.5 94.5L437.0 94.5ZM430.6 120.5L431.9 122.8L429.4 122.8ZM428.8 112.8L430.1 115.1L427.6 115.1ZM451.4 108.2L452.7 110.4L450.2 110.4ZM452.6 110.4L453.9 112.7L451.4 112.7ZM453.4 119.9L454.7 122.1L452.2 122.1ZM429.3 117.0L430.6 119.3L428.1 119.3ZM433.4 102.1L434.7 104.4L432.2 104.4ZM455.3 116.8L456.6 119.1L454.1 119.1ZM433.4 119.5L434.6 121.8L432.1 121.8ZM441.4 116.7L442.6 118.9L440.1 118.9ZM440.6 70.3L441.9 72.6L439.4 72.6ZM431.0 119.6L432.3 121.9L429.8 121.9ZM428.6 107.7L429.9 110.0L427.4 110.0ZM446.6 119.0L447.9 121.3L445.4 121.3ZM453.8 106.7L455.1 108.9L452.6 108.9ZM451.4 120.3L452.7 122.5L450.2 122.5ZM443.0 88.3L444.2 90.6L441.8 90.6ZM433.1 116.8L434.4 119.1L431.9 119.1ZM451.4 105.0L452.7 107.3L450.2 107.3ZM425.0 121.3L426.2 123.6L423.8 123.6ZM440.6 83.3L441.9 85.6L439.4 85.6ZM427.5 114.7L428.8 116.9L426.3 116.9ZM432.0 116.9L433.3 119.1L430.8 119.1ZM438.1 122.6L439.4 124.8L436.9 124.8ZM450.6 119.7L451.9 121.9L449.4 121.9ZM450.2 102.2L451.5 104.5L449.0 104.5ZM427.4 109.6L428.7 111.8L426.2 111.8ZM456.2 108.4L457.5 110.6L455.0 110.6ZM451.0 117.3L452.2 119.5L449.7 119.5ZM453.4 118.8L454.6 121.0L452.1 121.0ZM442.5 122.7L443.8 124.9L441.3 124.9ZM451.0 116.7L452.3 118.9L449.8 118.9ZM448.1 120.7L449.4 122.9L446.9 122.9ZM448.0 116.9L449.3 119.1L446.8 119.1ZM431.1 120.4L432.3 122.7L429.8 122.7ZM455.0 54.2L456.2 56.4L453.8 56.4ZM443.2 122.7L444.5 125.0L442.0 125.0ZM438.2 99.5L439.5 101.8L437.0 101.8ZM426.2 54.2L427.5 56.4L425.0 56.4ZM447.5 117.8L448.8 120.1L446.3 120.1ZM452.3 111.6L453.6 113.9L451.1 113.9ZM428.6 104.9L429.9 107.2L427.4 107.2ZM453.8 104.1L455.1 106.3L452.6 106.3ZM426.1 120.4L427.3 122.6L424.8 122.6ZM450.9 120.7L452.1 123.0L449.6 123.0ZM455.6 123.0L456.9 125.2L454.4 125.2ZM438.2 96.8L439.5 99.0L437.0 99.0ZM429.8 117.7L431.0 119.9L428.5 119.9ZM426.2 105.5L427.5 107.7L425.0 107.7ZM444.9 54.1L446.1 56.4L443.6 56.4ZM447.3 116.0L448.5 118.2L446.0 118.2ZM438.5 116.8L439.7 119.0L437.2 119.0ZM450.7 118.4L451.9 120.7L449.4 120.7ZM425.0 110.6L426.2 112.8L423.8 112.8ZM444.7 109.0L445.9 111.2L443.4 111.2ZM445.4 91.8L446.7 94.1L444.2 94.1ZM430.4 116.4L431.7 118.7L429.2 118.7ZM442.0 113.6L443.3 115.8L440.8 115.8ZM447.2 118.1L448.4 120.3L445.9 120.3ZM454.9 120.7L456.2 123.0L453.7 123.0ZM448.4 120.7L449.6 123.0L447.1 123.0ZM443.0 69.9L444.2 72.1L441.8 72.1ZM443.0 82.7L444.2 84.9L441.8 84.9ZM488.5 116.8L489.8 119.1L487.2 119.1ZM488.5 93.0L489.8 95.3L487.2 95.3ZM488.5 107.6L489.8 109.8L487.2 109.8ZM488.5 119.1L489.8 121.3L487.2 121.3ZM490.9 117.3L492.1 119.6L489.6 119.6ZM488.5 72.0L489.8 74.3L487.2 74.3ZM488.5 111.8L489.8 114.0L487.2 114.0ZM488.5 54.2L489.8 56.4L487.2 56.4ZM490.9 112.5L492.1 114.7L489.6 114.7ZM490.9 54.1L492.1 56.3L489.6 56.3ZM486.1 117.6L487.4 119.8L484.9 119.8ZM488.5 75.3L489.8 77.5L487.2 77.5ZM493.3 118.4L494.6 120.6L492.1 120.6ZM490.9 120.3L492.1 122.6L489.6 122.6ZM486.1 54.1L487.4 56.3L484.9 56.3ZM488.5 104.3L489.8 106.5L487.2 106.5ZM490.9 115.2L492.1 117.4L489.6 117.4ZM486.1 119.9L487.4 122.2L484.9 122.2ZM486.1 113.0L487.4 115.2L484.9 115.2ZM490.9 105.1L492.1 107.3L489.6 107.3ZM483.7 118.9L484.9 121.1L482.4 121.1ZM493.3 113.7L494.6 116.0L492.1 116.0ZM493.3 54.2L494.6 56.4L492.1 56.4ZM488.5 96.7L489.8 98.9L487.2 98.9ZM488.5 101.7L489.8 104.0L487.2 104.0ZM490.9 109.3L492.1 111.5L489.6 111.5ZM483.7 52.5L484.9 54.8L482.4 54.8ZM488.5 124.0L489.8 126.3L487.2 126.3ZM488.5 114.0L489.8 116.3L487.2 116.3ZM495.7 117.4L496.9 119.7L494.4 119.7ZM481.3 117.9L482.6 120.1L480.1 120.1ZM498.1 117.1L499.4 119.4L496.9 119.4ZM490.9 95.8L492.1 98.1L489.6 98.1ZM494.5 52.4L495.8 54.6L493.2 54.6ZM483.7 116.4L484.9 118.7L482.4 118.7ZM486.1 110.3L487.4 112.5L484.9 112.5ZM493.3 109.8L494.6 112.0L492.1 112.0ZM488.5 68.8L489.8 71.0L487.2 71.0ZM483.7 109.9L484.9 112.2L482.4 112.2ZM483.7 112.5L484.9 114.8L482.4 114.8ZM478.9 117.3L480.1 119.5L477.6 119.5ZM486.1 106.7L487.4 108.9L484.9 108.9ZM495.7 110.7L496.9 113.0L494.4 113.0ZM495.7 112.8L496.9 115.1L494.4 115.1ZM488.5 98.7L489.8 100.9L487.2 100.9ZM481.3 111.1L482.6 113.4L480.1 113.4ZM500.5 117.7L501.8 119.9L499.2 119.9ZM481.3 113.6L482.6 115.8L480.1 115.8ZM476.5 118.7L477.8 120.9L475.2 120.9ZM481.3 52.6L482.6 54.9L480.1 54.9ZM488.5 51.7L489.8 54.0L487.2 54.0ZM482.5 108.1L483.8 110.3L481.2 110.3ZM488.5 65.5L489.8 67.8L487.2 67.8ZM498.1 111.7L499.4 114.0L496.9 114.0ZM496.9 54.1L498.1 56.3L495.6 56.3ZM502.9 117.2L504.1 119.4L501.6 119.4ZM493.3 105.9L494.6 108.1L492.1 108.1ZM474.1 119.1L475.4 121.3L472.9 121.3ZM498.1 119.2L499.4 121.4L496.9 121.4ZM479.4 118.4L480.7 120.6L478.2 120.6ZM478.9 111.1L480.1 113.3L477.6 113.3ZM500.5 112.6L501.8 114.8L499.2 114.8ZM474.1 117.0L475.4 119.2L472.9 119.2Z" fill="none" stroke="#d06c84" stroke-width="0.42" opacity="0.85"/>
<g stroke="#111" fill="none">
<line x1="376.4" y1="120.23" x2="408.4" y2="120.23" stroke-width="1.1"/>
<line x1="392.4" y1="115.88" x2="392.4" y2="123.48" stroke-width="0.8"/>
<line x1="384.4" y1="115.88" x2="400.4" y2="115.88" stroke-width="0.8"/>
<line x1="384.4" y1="123.48" x2="400.4" y2="123.48" stroke-width="0.8"/>
<line x1="424.40000000000003" y1="115.44" x2="456.8" y2="115.44" stroke-width="1.1"/>
<line x1="440.6" y1="102.84" x2="440.6" y2="121.09" stroke-width="0.8"/>
<line x1="432.6" y1="102.84" x2="448.6" y2="102.84" stroke-width="0.8"/>
<line x1="432.6" y1="121.09" x2="448.6" y2="121.09" stroke-width="0.8"/>
<line x1="472.5" y1="110.01" x2="504.5" y2="110.01" stroke-width="1.1"/>
<line x1="488.5" y1="86.76" x2="488.5" y2="119.14" stroke-width="0.8"/>
<line x1="480.5" y1="86.76" x2="496.5" y2="86.76" stroke-width="0.8"/>
<line x1="480.5" y1="119.14" x2="496.5" y2="119.14" stroke-width="0.8"/>
</g>
<rect x="7.3" y="223.6" width="166.7" height="111.00000000000003" fill="#1b1b1b" stroke="#050505" stroke-width="0.8"/>
<g fill="none" stroke-width="0.45" stroke-linejoin="round" stroke-linecap="round">
<path d="M94.1 272.2L94.4 271.2L94.0 270.2L94.6 269.3L94.5 268.3L93.9 267.4L93.2 266.6L92.3 265.9L90.9 266.0L90.0 266.6L89.2 267.4L88.1 268.0" stroke="#7ab868" opacity="0.8"/>
<path d="M93.8 273.9L95.4 273.7L96.6 274.5L95.6 275.4L94.1 275.1L92.7 274.5L91.6 273.6L90.1 273.2L89.2 274.2L89.7 275.4L91.2 275.8L91.8 276.9L93.4 277.0L94.7 277.7L95.6 276.7L95.3 275.6L95.6 274.4L96.6 273.5L98.2 273.4L99.8 273.5L101.4 273.6L102.1 274.7" stroke="#58b0c8" opacity="0.8"/>
<path d="M92.7 272.5L93.6 273.4L95.0 273.5L96.3 273.0L95.7 272.0L96.8 271.3L95.8 270.6L94.6 270.0L93.2 269.7L92.9 268.7L91.5 268.7L90.4 268.0L89.1 267.7L87.6 267.6L86.3 268.0" stroke="#58b0c8" opacity="0.8"/>
<path d="M97.2 273.8L96.2 273.1L95.5 272.3L94.8 271.5L94.0 270.6L92.8 270.3L91.7 269.7L91.4 268.8L91.9 267.8L92.5 266.9L92.3 266.0L91.2 265.4L89.8 265.3" stroke="#58b0c8" opacity="0.8"/>
<path d="M95.3 273.0L95.2 272.3L94.8 271.6L94.9 270.8L95.0 270.1L94.9 269.3L95.8 268.9L96.8 269.0L97.8 269.0L98.7 268.8L99.7 268.9L100.6 269.2L101.6 269.2L102.5 269.5L103.5 269.5L104.3 269.9L105.3 269.8" stroke="#b8c848" opacity="0.8"/>
<path d="M99.7 272.1L100.0 273.2L101.4 272.9L102.5 272.2L103.8 271.6L104.8 270.9L106.3 270.7L107.7 271.1L107.5 270.0L107.0 268.9L107.4 267.9L107.3 266.8L106.9 265.7L106.0 264.8L104.7 264.4L103.4 264.9L102.3 264.2L100.9 263.9" stroke="#a0c050" opacity="0.8"/>
<path d="M93.9 269.4L94.8 268.8L95.2 267.9L95.2 267.0L94.7 266.1L93.9 265.4L93.7 264.5L94.6 263.9L95.7 263.6" stroke="#e0b040" opacity="0.8"/>
<path d="M93.6 272.6L92.1 272.3L90.5 272.2L89.2 271.6L88.0 270.8L86.5 270.6L85.1 270.0L84.6 268.9L83.9 267.8L82.8 267.0" stroke="#4a6ab0" opacity="0.8"/>
<path d="M94.4 271.6L96.1 271.4L97.8 271.9L99.3 272.6L99.5 273.9L100.0 275.2L98.6 275.9L97.8 274.8L97.6 273.5L96.5 272.4L97.4 271.3L96.3 270.3L94.6 269.9L93.0 270.5" stroke="#b8c848" opacity="0.8"/>
<path d="M99.2 271.1L98.6 272.1L97.5 272.7L97.1 273.7L97.3 274.7L98.0 275.6L98.9 276.3L99.9 277.1L101.2 277.4L102.3 278.0L103.4 277.4L104.5 276.9L105.2 275.9L105.0 274.9L103.8 275.4L103.3 276.3L102.8 277.3L102.6 278.3L103.7 278.9L104.5 279.7L105.4 280.5" stroke="#c87838" opacity="0.8"/>
<path d="M88.8 274.9L88.4 273.6L88.7 272.3L89.6 271.1L91.3 271.4L92.9 272.0L94.7 272.0L96.5 271.9L98.0 272.6L99.8 272.6L101.0 273.6L102.0 274.7L101.8 276.0L100.8 277.1" stroke="#d89a38" opacity="0.8"/>
<path d="M98.3 272.8L99.7 273.6L100.8 274.5L100.6 275.8L100.6 277.1L100.5 278.4L100.8 279.7L100.9 281.0L100.5 282.2L99.6 283.3L99.1 284.6L98.5 285.8L97.2 286.6L95.6 287.1L94.2 287.8L92.5 287.7L90.8 288.1L89.8 289.1L89.3 290.4" stroke="#58b0c8" opacity="0.8"/>
<path d="M94.8 274.4L93.7 274.9L92.5 275.4L91.2 275.5L89.9 275.6L88.6 275.5L87.3 275.2L87.5 274.2L87.3 273.2L88.1 272.4L89.2 271.8L90.1 271.1" stroke="#4a6ab0" opacity="0.8"/>
<path d="M97.2 271.4L97.2 272.2L97.5 273.0L97.4 273.8L98.2 274.3L99.3 274.5L100.3 274.5L101.4 274.7L102.3 275.1L102.8 275.8L103.8 275.9L104.7 275.5L104.8 274.7L105.7 274.2L106.1 273.5" stroke="#4a6ab0" opacity="0.8"/>
<path d="M93.3 270.3L92.0 270.8L91.1 271.7L90.1 272.6L90.6 273.7L91.5 274.6L91.3 275.8L90.7 276.8L91.9 277.6L92.3 278.7L91.7 279.7L91.5 280.9L90.1 281.4L89.6 282.4L89.1 283.5L87.7 284.0L86.3 283.5L86.0 282.4L84.7 281.8" stroke="#e0b040" opacity="0.8"/>
<path d="M90.7 273.6L89.4 272.9L87.9 272.4L86.4 272.9L84.8 273.2L83.3 272.7L81.9 273.3L80.6 274.0L79.7 275.1L79.7 276.3L79.3 277.5L79.8 278.7L80.2 279.8L80.7 281.0L80.3 282.2L79.2 283.0L78.3 284.1L78.2 285.3L78.3 286.5" stroke="#c87838" opacity="0.8"/>
<path d="M96.2 272.4L95.7 271.2L96.1 269.9L96.9 268.8L95.7 267.8L94.1 267.4L92.4 267.0L91.2 266.0L90.0 265.1L90.3 263.8L90.6 262.5L89.8 261.4L88.3 260.7L87.6 259.5L86.2 258.7L85.7 257.4L86.4 256.2" stroke="#e0b040" opacity="0.8"/>
<path d="M96.7 272.6L95.6 271.7L94.1 271.3L92.6 271.7L92.3 272.9L91.8 274.0L90.8 274.9L90.2 276.0L88.7 276.3L87.2 275.8L86.6 274.7L85.5 273.9L84.0 274.2L82.4 274.1L80.9 273.7L79.8 272.8L79.1 271.8L79.8 270.7L80.1 269.5L81.1 268.6L81.2 267.5L79.7 267.4" stroke="#58b0c8" opacity="0.8"/>
<path d="M94.5 271.1L95.3 270.2L96.5 269.7L97.9 270.1L99.2 270.5L100.6 270.6L101.9 271.0L103.4 271.0L104.6 271.5L105.9 272.0L107.3 272.2L108.1 273.1L109.0 273.9L110.4 274.2L111.8 274.0L113.1 274.4L114.2 273.8L114.4 272.7L114.2 271.7" stroke="#b8c848" opacity="0.8"/>
<path d="M99.3 271.8L100.2 272.1L101.1 271.9L101.6 271.3L101.2 270.7L101.2 270.0L101.5 269.3L101.7 268.6L102.6 268.7L103.5 268.8L104.5 268.6L105.0 268.1L104.9 267.4L105.8 267.3L106.7 267.5L107.6 267.7L108.4 268.1L109.1 268.5L109.7 269.1L110.1 269.7L110.8 270.2L111.6 270.6" stroke="#e8d040" opacity="0.8"/>
<path d="M100.7 270.3L100.0 270.7L99.5 271.3L98.7 271.6L97.8 271.3L97.3 270.7L96.7 270.2L95.8 270.1L95.0 269.8L94.4 269.2L94.1 268.6L93.5 268.0L92.7 267.8L91.9 267.4" stroke="#c87838" opacity="0.8"/>
<path d="M95.2 274.4L94.1 273.7L93.7 272.6L92.6 271.8L91.1 271.9L90.4 270.9L89.2 270.3L89.7 269.2L91.2 269.1L92.5 268.4L94.0 268.6L94.9 267.7L95.7 266.7L96.1 265.7L96.6 264.6L96.5 263.4L97.8 262.9L99.1 262.3L99.1 261.1L99.0 260.0L98.4 259.0L96.8 258.9L96.3 257.9" stroke="#a0c050" opacity="0.8"/>
<path d="M97.7 273.8L98.6 272.9L98.7 271.8L98.5 270.7L99.0 269.7L97.9 268.9L96.9 268.1L95.8 267.4L94.4 266.9L93.4 266.1" stroke="#e0b040" opacity="0.8"/>
<path d="M98.1 273.6L98.9 274.0L99.9 274.1L100.9 274.3L101.9 274.2L102.6 273.6L103.5 273.8L104.2 273.2L103.7 272.6L103.6 271.8L104.2 271.2L105.0 270.7L106.0 270.6L107.0 270.4" stroke="#b8c848" opacity="0.8"/>
<path d="M98.5 274.3L98.6 273.5L99.4 272.9L100.1 272.4L99.6 271.7L99.0 271.0L98.0 270.9L97.0 270.5L96.5 269.8L96.3 269.0L96.9 268.4L97.1 267.6L97.1 266.8L97.1 266.0L98.1 265.7L98.8 266.3L99.2 267.0L98.4 267.6L98.7 268.3" stroke="#e0b040" opacity="0.8"/>
<path d="M92.1 272.0L90.6 271.2L88.8 271.1L87.4 270.4L85.6 270.4L84.5 271.5L84.6 272.8L83.0 273.4L81.4 273.9L80.1 274.9L80.1 276.2L81.2 277.2L82.5 278.1L83.5 279.3" stroke="#e8d040" opacity="0.8"/>
<path d="M98.1 270.4L96.8 270.8L96.1 269.9L95.0 269.2L94.9 268.1L96.0 267.5L96.9 266.7L97.7 265.8L98.0 264.7L98.8 263.9L100.2 263.7L101.6 264.0L102.6 264.7L103.8 265.2L104.2 266.3L105.5 266.8L105.7 267.8L104.6 268.5L105.2 269.4L106.6 269.7L108.0 269.6L108.5 268.6" stroke="#4a6ab0" opacity="0.8"/>
<path d="M95.5 273.1L95.8 274.2L95.2 275.3L94.4 276.3L94.6 277.4L93.9 278.4L94.5 279.5L95.8 280.1L96.6 281.0L95.6 281.9L94.1 282.2L92.6 282.4L91.4 281.6L91.3 280.5L91.3 279.3L90.9 278.2L89.6 277.6L88.2 277.1L86.8 276.6L85.4 276.1L85.7 275.0" stroke="#a0c050" opacity="0.8"/>
<path d="M93.6 273.8L95.1 273.5L96.6 274.0L97.5 275.0L99.1 275.4L100.6 275.8L102.0 276.4L103.6 276.1L104.9 275.4L105.9 274.5L106.6 273.4L106.3 272.2L105.2 271.2L105.0 270.0L106.5 269.4L107.4 268.4L108.7 267.7" stroke="#e8d040" opacity="0.8"/>
<path d="M94.8 271.5L94.9 272.5L96.0 273.2L97.0 273.8L97.2 274.8L97.1 275.8L96.3 276.6L95.0 276.4L94.6 275.4L93.3 275.2L92.1 275.7L91.4 276.5L90.5 275.7L91.2 274.8L91.2 273.8L92.3 273.2L93.1 272.4L93.7 271.5L94.3 270.6L93.4 269.8" stroke="#4a6ab0" opacity="0.8"/>
<path d="M101.9 274.1L102.9 274.9L102.8 276.0L101.8 276.8L100.3 276.8L98.9 276.7L97.5 277.1L96.1 277.4L95.3 278.3L94.5 279.2" stroke="#a0c050" opacity="0.8"/>
<path d="M97.0 269.4L97.8 269.0L98.7 269.1L99.5 269.5L100.4 269.7L101.3 269.7L101.5 270.4L101.2 271.1L100.6 271.6L100.4 272.3L99.6 272.6L98.7 272.6L97.8 272.8L96.9 273.0" stroke="#c87838" opacity="0.8"/>
<path d="M91.1 273.9L90.4 274.5L89.6 275.0L89.5 275.8L89.4 276.7L88.9 277.4L88.6 278.2L89.3 278.9L90.1 279.4L91.2 279.5L92.3 279.2L93.3 279.0L94.4 278.7L95.3 278.3" stroke="#a0c050" opacity="0.8"/>
<path d="M95.4 270.3L95.8 271.1L96.9 271.4L97.1 272.2L98.2 272.5L98.7 271.8L99.7 271.3L100.5 270.8L100.9 270.0L101.0 269.2" stroke="#e0b040" opacity="0.8"/>
<path d="M95.9 273.3L95.0 273.0L94.6 272.3L94.8 271.6L94.9 270.8L95.3 270.1L96.1 269.7L97.1 269.9L98.1 270.0L99.1 270.0L100.0 270.2L99.5 270.9L98.9 271.5L97.9 271.4L97.4 272.1L96.5 272.4L96.3 273.1L96.9 273.8L97.8 274.1L98.7 274.4L99.6 274.8" stroke="#b8c848" opacity="0.8"/>
<path d="M96.1 276.5L96.2 277.7L95.2 278.8L93.7 279.4L92.1 279.8L91.2 278.8L89.5 278.5L88.0 279.0L86.3 279.4L86.6 280.7L87.8 281.7L87.7 282.9L88.1 284.2L88.3 285.4L87.8 286.6L88.5 287.8L89.0 289.0L90.1 290.0" stroke="#c87838" opacity="0.8"/>
<path d="M91.3 273.1L92.5 273.3L93.6 273.6L94.4 272.9L94.9 272.0L94.3 271.2L94.2 270.3L93.7 269.5L92.8 268.9" stroke="#4a6ab0" opacity="0.8"/>
<path d="M97.5 272.6L96.5 272.8L95.6 272.8L95.1 272.1L94.3 271.7L94.8 271.1L94.0 270.6L93.2 271.1L93.3 271.8L94.0 272.3L94.8 272.7L94.4 273.4L94.4 274.1L93.8 274.6L93.3 275.3L92.8 275.9L92.9 276.6L91.9 276.7L91.0 276.8L90.1 277.2L89.6 276.6L89.2 275.9" stroke="#7ab868" opacity="0.8"/>
<path d="M96.2 272.1L95.2 272.2L94.1 272.2L93.4 271.6L93.4 270.8L93.6 270.0L94.2 269.3L95.3 269.5L96.1 270.0L96.4 270.7L96.1 271.5L96.2 272.3L96.1 273.1" stroke="#58b0c8" opacity="0.8"/>
<path d="M98.0 275.6L97.4 276.3L97.1 277.0L96.2 277.5L96.1 278.2L96.0 279.0L96.8 279.5L96.6 280.3L96.6 281.1L95.9 281.6L94.8 281.5L94.0 282.0L93.3 282.5L92.3 282.8L91.3 283.0" stroke="#7ab868" opacity="0.8"/>
<path d="M94.9 272.0L96.0 271.8L97.2 271.6L98.4 271.4L98.4 272.2L98.7 273.1L99.8 272.9" stroke="#b0d060" opacity="0.85"/>
<path d="M100.3 273.0L100.8 273.8L100.2 274.5L99.4 275.2L98.8 276.0L97.9 276.6L97.4 277.5" stroke="#b0d060" opacity="0.85"/>
<path d="M94.9 272.4L94.8 271.5L94.5 270.7L93.4 270.3L92.5 269.7L91.6 269.1L91.3 268.2" stroke="#60c0d0" opacity="0.85"/>
<path d="M95.2 275.0L95.3 274.1L94.1 273.9L93.6 273.0L92.8 272.4L92.5 271.5L92.5 270.6" stroke="#f0c040" opacity="0.85"/>
<path d="M95.3 270.6L94.5 269.9L93.5 270.4L92.3 270.6L92.1 269.7L91.1 269.2L90.0 269.5" stroke="#60c0d0" opacity="0.85"/>
<path d="M93.6 272.4L94.0 273.3L94.1 274.2L94.7 275.0L95.1 275.8L96.3 276.0L97.5 276.0" stroke="#b0d060" opacity="0.85"/>
<path d="M97.1 273.4L96.8 274.3L97.6 275.0L98.5 275.5L98.3 276.4L99.5 276.6L99.5 277.5" stroke="#e8e060" opacity="0.85"/>
<path d="M93.8 271.8L93.3 272.6L92.1 272.6L91.8 271.7L91.5 270.8L90.5 270.4L89.3 270.2" stroke="#e8e060" opacity="0.85"/>
<path d="M95.6 269.4L96.7 269.0L97.5 268.4L97.7 267.5L98.5 266.8L99.0 266.0L98.1 265.5" stroke="#b0d060" opacity="0.85"/>
<path d="M98.3 273.6L99.4 274.0L100.6 273.9L101.1 274.7L101.9 275.4L102.7 276.1L103.9 276.0" stroke="#e8e060" opacity="0.85"/>
<path d="M96.5 268.8L96.5 267.9L96.3 267.1L95.6 266.3L94.6 265.8L93.4 265.6L93.1 264.8" stroke="#b0d060" opacity="0.85"/>
<path d="M90.8 274.9L89.9 275.4L88.8 275.1L87.7 274.8L86.5 274.8L86.1 273.9L86.3 273.0" stroke="#60c0d0" opacity="0.85"/>
<path d="M97.8 274.6L96.6 274.9L96.2 274.1L95.6 273.2L94.8 272.6L93.7 272.3L94.1 271.5" stroke="#60c0d0" opacity="0.85"/>
<path d="M96.6 271.8L95.9 272.5L94.8 272.8L93.9 272.2L93.4 271.3L93.5 270.4L93.9 269.6" stroke="#60c0d0" opacity="0.85"/>
<path d="M92.6 273.8L93.4 274.4L94.0 275.2L94.1 276.1L95.3 276.3L94.9 277.1L93.9 277.6" stroke="#b0d060" opacity="0.85"/>
<path d="M96.0 276.8L96.1 277.7L97.3 277.7L96.8 278.5L97.9 278.9L99.0 279.3L100.0 279.7" stroke="#b0d060" opacity="0.85"/>
<path d="M95.7 269.7L94.8 270.3L95.0 271.2L94.5 272.0L94.2 272.9L93.3 273.5L93.4 274.4" stroke="#b0d060" opacity="0.85"/>
<path d="M95.9 275.3L97.0 275.6L96.3 276.3L96.1 277.2L95.4 277.9L94.3 278.2L93.1 278.4" stroke="#e8e060" opacity="0.85"/>
<path d="M96.0 270.0L95.7 270.9L94.8 270.3L94.0 269.7L94.1 268.8L93.8 269.6L94.0 270.5" stroke="#b0d060" opacity="0.85"/>
<path d="M92.4 274.2L91.3 273.9L90.7 273.1L91.5 272.3L91.6 271.5L92.7 271.1L93.4 270.4" stroke="#b0d060" opacity="0.85"/>
<path d="M96.8 271.8L95.6 272.1L95.0 272.9L93.9 272.7L93.5 273.6L92.9 272.8L92.1 272.2" stroke="#60c0d0" opacity="0.85"/>
<path d="M96.7 272.4L95.5 272.4L94.5 272.9L95.0 272.1L94.3 271.4L94.0 270.5L93.1 271.1" stroke="#f0c040" opacity="0.85"/>
<path d="M94.2 273.1L93.2 273.5L93.5 274.4L94.2 275.1L95.2 275.7L95.4 276.6L96.1 277.3" stroke="#e8e060" opacity="0.85"/>
<path d="M96.4 271.9L95.5 271.2L95.6 270.3L94.9 269.6L95.3 268.8L94.5 268.2L93.3 267.9" stroke="#b0d060" opacity="0.85"/>
<path d="M96.8 271.4L96.8 270.5L97.7 270.0L97.6 269.1L98.1 268.2L99.1 267.7L99.1 266.8" stroke="#60c0d0" opacity="0.85"/>
<path d="M40.0 266.5L46.9 267.2L53.8 269.5L58.5 272.3L65.4 274.6L74.6 274.6L86.2 274.2L94.2 272.3" stroke="#c8a040" stroke-width="0.55" opacity="0.9"/>
<path d="M94.2 272.3L81.5 272.3L67.7 270.0L56.2 263.1L53.8 267.7L55.0 272.3L57.3 280.4L59.6 285.0L63.1 289.6L64.9 290.3L67.7 286.2L72.3 282.7L76.9 279.2L86.2 274.6" stroke="#60a8a0" stroke-width="0.55" opacity="0.9"/>
<path d="M93.1 270.0L88.5 261.9L83.8 255.0L89.6 250.4L96.5 248.1L104.6 249.2L108.1 253.8L104.6 259.6L101.2 265.4L96.5 270.0" stroke="#80b850" stroke-width="0.55" opacity="0.9"/>
<path d="M97.7 240.0L98.9 243.5L104.6 246.9L108.1 250.4L106.9 256.2L102.3 263.1L97.7 270.0" stroke="#b08040" stroke-width="0.55" opacity="0.9"/>
<path d="M96.5 272.3L109.2 276.9L116.2 282.7L120.8 288.5L119.6 294.2L111.5 295.4L109.2 298.9L110.4 302.3L118.5 302.8L127.7 300.5L136.9 296.5" stroke="#60a8b8" stroke-width="0.55" opacity="0.9"/>
<path d="M136.9 296.5L141.5 286.2L142.7 282.7L145.0 285.0L146.2 293.1L147.3 297.7L149.6 302.3L148.5 306.9L145.0 308.1" stroke="#78b060" stroke-width="0.55" opacity="0.9"/>
<path d="M94.2 273.5L86.2 275.8L80.4 279.2L78.1 286.2L76.9 296.5" stroke="#4a58b0" stroke-width="0.55" opacity="0.9"/>
<path d="M95.4 274.6L89.6 281.5L83.8 288.5L85.0 295.4" stroke="#c87838" stroke-width="0.55" opacity="0.9"/>
<path d="M100.0 274.6L109.2 276.9L116.2 279.2L121.9 286.2L120.8 290.8" stroke="#5070c0" stroke-width="0.55" opacity="0.9"/>
<path d="M93.1 271.2L81.5 265.4L72.3 260.8L63.1 259.6L60.8 258.5" stroke="#d09038" stroke-width="0.55" opacity="0.9"/>
<path d="M94.2 270.0L93.1 258.5L95.4 251.5L97.7 250.4" stroke="#5a60b0" stroke-width="0.55" opacity="0.9"/>
<path d="M97.7 272.3L106.9 265.4L109.2 263.1" stroke="#a8c850" stroke-width="0.55" opacity="0.9"/>
<path d="M98.9 274.6L109.2 274.6L116.2 275.8" stroke="#d87a38" stroke-width="0.55" opacity="0.9"/>
<path d="M97.7 274.6L100.0 283.8L95.4 290.8L91.9 291.9" stroke="#e0c040" stroke-width="0.55" opacity="0.9"/>
<path d="M95.4 271.2L76.9 267.7L67.7 264.2" stroke="#70b8c0" stroke-width="0.55" opacity="0.9"/>
<path d="M96.5 271.8L86.2 267.7L76.9 263.1L74.6 258.5L79.2 256.2" stroke="#b8c050" stroke-width="0.55" opacity="0.9"/>
</g>
<circle cx="76.5" cy="297.2" r="0.9" fill="#e8e060"/>
<g stroke="#efefef" stroke-width="0.6">
<line x1="255.62" y1="194.7" x2="255.62" y2="343.3"/>
<line x1="287.75" y1="194.7" x2="287.75" y2="343.3"/>
<line x1="319.88" y1="194.7" x2="319.88" y2="343.3"/>
<line x1="352.00" y1="194.7" x2="352.00" y2="343.3"/>
<line x1="384.12" y1="194.7" x2="384.12" y2="343.3"/>
<line x1="416.25" y1="194.7" x2="416.25" y2="343.3"/>
<line x1="448.38" y1="194.7" x2="448.38" y2="343.3"/>
<line x1="223.5" y1="324.73" x2="480.5" y2="324.73"/>
<line x1="223.5" y1="306.15" x2="480.5" y2="306.15"/>
<line x1="223.5" y1="287.57" x2="480.5" y2="287.57"/>
<line x1="223.5" y1="269.00" x2="480.5" y2="269.00"/>
<line x1="223.5" y1="250.43" x2="480.5" y2="250.43"/>
<line x1="223.5" y1="231.85" x2="480.5" y2="231.85"/>
<line x1="223.5" y1="213.27" x2="480.5" y2="213.27"/>
</g>
<rect x="223.5" y="194.7" width="257.0" height="148.60000000000002" fill="none" stroke="#c4c4c4" stroke-width="0.7"/>
<g stroke="#b8b8b8" stroke-width="0.6">
<line x1="223.50" y1="343.3" x2="223.50" y2="341.3"/>
<line x1="223.50" y1="194.7" x2="223.50" y2="196.7"/>
<line x1="255.62" y1="343.3" x2="255.62" y2="341.3"/>
<line x1="255.62" y1="194.7" x2="255.62" y2="196.7"/>
<line x1="287.75" y1="343.3" x2="287.75" y2="341.3"/>
<line x1="287.75" y1="194.7" x2="287.75" y2="196.7"/>
<line x1="319.88" y1="343.3" x2="319.88" y2="341.3"/>
<line x1="319.88" y1="194.7" x2="319.88" y2="196.7"/>
<line x1="352.00" y1="343.3" x2="352.00" y2="341.3"/>
<line x1="352.00" y1="194.7" x2="352.00" y2="196.7"/>
<line x1="384.12" y1="343.3" x2="384.12" y2="341.3"/>
<line x1="384.12" y1="194.7" x2="384.12" y2="196.7"/>
<line x1="416.25" y1="343.3" x2="416.25" y2="341.3"/>
<line x1="416.25" y1="194.7" x2="416.25" y2="196.7"/>
<line x1="448.38" y1="343.3" x2="448.38" y2="341.3"/>
<line x1="448.38" y1="194.7" x2="448.38" y2="196.7"/>
<line x1="480.50" y1="343.3" x2="480.50" y2="341.3"/>
<line x1="480.50" y1="194.7" x2="480.50" y2="196.7"/>
<line x1="223.5" y1="343.30" x2="225.5" y2="343.30"/>
<line x1="480.5" y1="343.30" x2="478.5" y2="343.30"/>
<line x1="223.5" y1="324.73" x2="225.5" y2="324.73"/>
<line x1="480.5" y1="324.73" x2="478.5" y2="324.73"/>
<line x1="223.5" y1="306.15" x2="225.5" y2="306.15"/>
<line x1="480.5" y1="306.15" x2="478.5" y2="306.15"/>
<line x1="223.5" y1="287.57" x2="225.5" y2="287.57"/>
<line x1="480.5" y1="287.57" x2="478.5" y2="287.57"/>
<line x1="223.5" y1="269.00" x2="225.5" y2="269.00"/>
<line x1="480.5" y1="269.00" x2="478.5" y2="269.00"/>
<line x1="223.5" y1="250.43" x2="225.5" y2="250.43"/>
<line x1="480.5" y1="250.43" x2="478.5" y2="250.43"/>
<line x1="223.5" y1="231.85" x2="225.5" y2="231.85"/>
<line x1="480.5" y1="231.85" x2="478.5" y2="231.85"/>
<line x1="223.5" y1="213.27" x2="225.5" y2="213.27"/>
<line x1="480.5" y1="213.27" x2="478.5" y2="213.27"/>
<line x1="223.5" y1="194.70" x2="225.5" y2="194.70"/>
<line x1="480.5" y1="194.70" x2="478.5" y2="194.70"/>
</g>
<text x="220.60" y="345.90" font-size="7.5" text-anchor="end" fill="#231f20" >0</text>
<text x="220.60" y="327.33" font-size="7.5" text-anchor="end" fill="#231f20" >20</text>
<text x="220.60" y="308.75" font-size="7.5" text-anchor="end" fill="#231f20" >40</text>
<text x="220.60" y="290.18" font-size="7.5" text-anchor="end" fill="#231f20" >60</text>
<text x="220.60" y="271.60" font-size="7.5" text-anchor="end" fill="#231f20" >80</text>
<text x="220.60" y="253.03" font-size="7.5" text-anchor="end" fill="#231f20" >100</text>
<text x="220.60" y="234.45" font-size="7.5" text-anchor="end" fill="#231f20" >120</text>
<text x="220.60" y="215.87" font-size="7.5" text-anchor="end" fill="#231f20" >140</text>
<text x="220.60" y="197.30" font-size="7.5" text-anchor="end" fill="#231f20" >160</text>
<text x="223.50" y="353.00" font-size="7.7" text-anchor="middle" fill="#231f20" >0</text>
<text x="255.62" y="353.00" font-size="7.7" text-anchor="middle" fill="#231f20" >10</text>
<text x="287.75" y="353.00" font-size="7.7" text-anchor="middle" fill="#231f20" >20</text>
<text x="319.88" y="353.00" font-size="7.7" text-anchor="middle" fill="#231f20" >30</text>
<text x="352.00" y="353.00" font-size="7.7" text-anchor="middle" fill="#231f20" >40</text>
<text x="384.12" y="353.00" font-size="7.7" text-anchor="middle" fill="#231f20" >50</text>
<text x="416.25" y="353.00" font-size="7.7" text-anchor="middle" fill="#231f20" >60</text>
<text x="448.38" y="353.00" font-size="7.7" text-anchor="middle" fill="#231f20" >70</text>
<text x="480.50" y="353.00" font-size="7.7" text-anchor="middle" fill="#231f20" >80</text>
<text x="357.00" y="364.80" font-size="9.3" text-anchor="middle" fill="#231f20" textLength="78.6" lengthAdjust="spacingAndGlyphs">Mean distance (µm)</text>
<text transform="translate(201.4 270.5) rotate(-90)" font-size="9.3" text-anchor="middle" fill="#231f20" textLength="74.7" lengthAdjust="spacingAndGlyphs">Displacement (µm)</text>
<rect x="223.7" y="331.6" width="1.3" height="1.3" fill="rgb(56,69,122)"/>
<rect x="223.6" y="341.9" width="1.3" height="1.3" fill="rgb(57,74,132)"/>
<rect x="223.3" y="333.3" width="1.3" height="1.3" fill="rgb(55,66,116)"/>
<rect x="222.9" y="342.0" width="1.3" height="1.3" fill="rgb(53,63,111)"/>
<rect x="223.2" y="341.0" width="1.3" height="1.3" fill="rgb(57,74,132)"/>
<rect x="222.9" y="336.6" width="1.3" height="1.3" fill="rgb(50,57,99)"/>
<rect x="224.7" y="342.4" width="1.3" height="1.3" fill="rgb(57,76,136)"/>
<rect x="223.1" y="341.2" width="1.3" height="1.3" fill="rgb(53,63,110)"/>
<rect x="223.4" y="342.6" width="1.3" height="1.3" fill="rgb(57,78,141)"/>
<rect x="223.3" y="339.1" width="1.3" height="1.3" fill="rgb(57,74,133)"/>
<rect x="224.7" y="329.1" width="1.3" height="1.3" fill="rgb(54,65,115)"/>
<rect x="223.8" y="340.2" width="1.3" height="1.3" fill="rgb(55,66,116)"/>
<rect x="223.0" y="340.5" width="1.3" height="1.3" fill="rgb(57,76,136)"/>
<rect x="223.0" y="328.2" width="1.3" height="1.3" fill="rgb(52,60,105)"/>
<rect x="225.2" y="339.2" width="1.3" height="1.3" fill="rgb(56,72,129)"/>
<rect x="223.0" y="331.7" width="1.3" height="1.3" fill="rgb(56,72,128)"/>
<rect x="223.8" y="336.0" width="1.3" height="1.3" fill="rgb(57,75,134)"/>
<rect x="223.6" y="324.6" width="1.3" height="1.3" fill="rgb(57,76,137)"/>
<rect x="223.8" y="338.4" width="1.3" height="1.3" fill="rgb(54,65,114)"/>
<rect x="225.6" y="324.8" width="1.3" height="1.3" fill="rgb(54,64,112)"/>
<rect x="223.3" y="342.0" width="1.3" height="1.3" fill="rgb(56,71,127)"/>
<rect x="224.2" y="342.2" width="1.3" height="1.3" fill="rgb(55,66,116)"/>
<rect x="224.6" y="338.3" width="1.3" height="1.3" fill="rgb(52,61,106)"/>
<rect x="224.0" y="335.9" width="1.3" height="1.3" fill="rgb(56,69,122)"/>
<rect x="223.1" y="338.0" width="1.3" height="1.3" fill="rgb(53,63,110)"/>
<rect x="223.8" y="339.2" width="1.3" height="1.3" fill="rgb(56,68,120)"/>
<rect x="223.0" y="339.0" width="1.3" height="1.3" fill="rgb(51,58,100)"/>
<rect x="223.6" y="329.3" width="1.3" height="1.3" fill="rgb(53,63,111)"/>
<rect x="223.5" y="331.2" width="1.3" height="1.3" fill="rgb(57,77,138)"/>
<rect x="224.0" y="340.4" width="1.3" height="1.3" fill="rgb(57,79,143)"/>
<rect x="224.3" y="340.0" width="1.3" height="1.3" fill="rgb(57,76,137)"/>
<rect x="223.9" y="342.2" width="1.3" height="1.3" fill="rgb(52,61,107)"/>
<rect x="223.3" y="339.2" width="1.3" height="1.3" fill="rgb(51,58,100)"/>
<rect x="223.5" y="329.1" width="1.3" height="1.3" fill="rgb(55,66,116)"/>
<rect x="223.0" y="340.3" width="1.3" height="1.3" fill="rgb(52,61,107)"/>
<rect x="223.1" y="334.2" width="1.3" height="1.3" fill="rgb(52,60,104)"/>
<rect x="223.8" y="339.4" width="1.3" height="1.3" fill="rgb(57,77,138)"/>
<rect x="224.7" y="341.2" width="1.3" height="1.3" fill="rgb(54,65,115)"/>
<rect x="222.9" y="322.2" width="1.3" height="1.3" fill="rgb(55,66,117)"/>
<rect x="222.9" y="340.7" width="1.3" height="1.3" fill="rgb(52,60,105)"/>
<rect x="223.9" y="330.0" width="1.3" height="1.3" fill="rgb(57,76,137)"/>
<rect x="223.8" y="337.4" width="1.3" height="1.3" fill="rgb(55,67,119)"/>
<rect x="223.4" y="336.8" width="1.3" height="1.3" fill="rgb(55,67,118)"/>
<rect x="223.2" y="328.5" width="1.3" height="1.3" fill="rgb(50,56,98)"/>
<rect x="224.0" y="323.6" width="1.3" height="1.3" fill="rgb(50,57,99)"/>
<rect x="224.2" y="336.0" width="1.3" height="1.3" fill="rgb(57,75,135)"/>
<rect x="223.6" y="339.4" width="1.3" height="1.3" fill="rgb(54,64,113)"/>
<rect x="225.2" y="338.0" width="1.3" height="1.3" fill="rgb(51,59,102)"/>
<rect x="223.3" y="340.6" width="1.3" height="1.3" fill="rgb(50,57,99)"/>
<rect x="223.4" y="341.1" width="1.3" height="1.3" fill="rgb(57,76,136)"/>
<rect x="223.2" y="339.0" width="1.3" height="1.3" fill="rgb(55,67,118)"/>
<rect x="223.4" y="333.9" width="1.3" height="1.3" fill="rgb(52,61,106)"/>
<rect x="223.2" y="338.0" width="1.3" height="1.3" fill="rgb(54,64,112)"/>
<rect x="223.2" y="332.4" width="1.3" height="1.3" fill="rgb(50,57,99)"/>
<rect x="223.4" y="326.2" width="1.3" height="1.3" fill="rgb(56,73,130)"/>
<rect x="222.9" y="341.6" width="1.3" height="1.3" fill="rgb(54,65,115)"/>
<rect x="224.6" y="337.1" width="1.3" height="1.3" fill="rgb(52,60,104)"/>
<rect x="223.1" y="336.5" width="1.3" height="1.3" fill="rgb(56,71,126)"/>
<rect x="223.0" y="340.4" width="1.3" height="1.3" fill="rgb(54,64,112)"/>
<rect x="223.7" y="325.9" width="1.3" height="1.3" fill="rgb(53,62,108)"/>
<rect x="224.3" y="342.4" width="1.3" height="1.3" fill="rgb(57,78,141)"/>
<rect x="224.1" y="336.1" width="1.3" height="1.3" fill="rgb(55,66,117)"/>
<rect x="223.1" y="322.2" width="1.3" height="1.3" fill="rgb(53,62,109)"/>
<rect x="223.3" y="333.0" width="1.3" height="1.3" fill="rgb(55,67,119)"/>
<rect x="224.8" y="336.7" width="1.3" height="1.3" fill="rgb(57,79,142)"/>
<rect x="223.5" y="336.9" width="1.3" height="1.3" fill="rgb(57,79,143)"/>
<rect x="223.2" y="340.6" width="1.3" height="1.3" fill="rgb(51,58,100)"/>
<rect x="223.6" y="329.7" width="1.3" height="1.3" fill="rgb(54,65,114)"/>
<rect x="223.0" y="341.5" width="1.3" height="1.3" fill="rgb(56,69,123)"/>
<rect x="224.1" y="339.1" width="1.3" height="1.3" fill="rgb(54,64,112)"/>
<rect x="241.6" y="341.6" width="1.3" height="1.3" fill="rgb(49,55,96)"/>
<rect x="245.0" y="341.9" width="1.3" height="1.3" fill="rgb(55,66,116)"/>
<rect x="244.0" y="339.1" width="1.3" height="1.3" fill="rgb(53,62,108)"/>
<rect x="225.5" y="340.3" width="1.3" height="1.3" fill="rgb(53,62,109)"/>
<rect x="278.7" y="338.1" width="1.3" height="1.3" fill="rgb(50,56,97)"/>
<rect x="259.9" y="342.3" width="1.3" height="1.3" fill="rgb(55,66,117)"/>
<rect x="266.0" y="340.0" width="1.3" height="1.3" fill="rgb(54,65,114)"/>
<rect x="225.4" y="339.1" width="1.3" height="1.3" fill="rgb(56,69,122)"/>
<rect x="238.2" y="339.2" width="1.3" height="1.3" fill="rgb(51,59,102)"/>
<rect x="250.3" y="341.5" width="1.3" height="1.3" fill="rgb(54,65,114)"/>
<rect x="260.3" y="337.1" width="1.3" height="1.3" fill="rgb(56,72,129)"/>
<rect x="250.6" y="342.6" width="1.3" height="1.3" fill="rgb(52,60,104)"/>
<rect x="236.8" y="341.8" width="1.3" height="1.3" fill="rgb(54,64,112)"/>
<rect x="246.8" y="341.7" width="1.3" height="1.3" fill="rgb(56,71,126)"/>
<rect x="224.6" y="340.0" width="1.3" height="1.3" fill="rgb(50,56,98)"/>
<rect x="271.1" y="341.6" width="1.3" height="1.3" fill="rgb(51,58,101)"/>
<rect x="246.3" y="339.7" width="1.3" height="1.3" fill="rgb(55,66,116)"/>
<rect x="228.2" y="336.7" width="1.3" height="1.3" fill="rgb(52,60,104)"/>
<rect x="224.5" y="338.0" width="1.3" height="1.3" fill="rgb(50,57,99)"/>
<rect x="231.8" y="341.2" width="1.3" height="1.3" fill="rgb(54,64,113)"/>
<rect x="228.2" y="340.3" width="1.3" height="1.3" fill="rgb(56,71,126)"/>
<rect x="256.5" y="342.1" width="1.3" height="1.3" fill="rgb(54,65,114)"/>
<rect x="226.7" y="341.2" width="1.3" height="1.3" fill="rgb(52,61,106)"/>
<rect x="225.8" y="341.1" width="1.3" height="1.3" fill="rgb(56,71,127)"/>
<rect x="280.1" y="341.7" width="1.3" height="1.3" fill="rgb(56,71,126)"/>
<rect x="224.6" y="342.2" width="1.3" height="1.3" fill="rgb(53,63,110)"/>
<rect x="265.5" y="341.8" width="1.3" height="1.3" fill="rgb(55,66,116)"/>
<rect x="223.1" y="342.4" width="1.3" height="1.3" fill="rgb(53,63,111)"/>
<rect x="245.7" y="341.5" width="1.3" height="1.3" fill="rgb(53,62,108)"/>
<rect x="247.2" y="341.2" width="1.3" height="1.3" fill="rgb(50,57,99)"/>
<rect x="238.3" y="338.3" width="1.3" height="1.3" fill="rgb(53,63,111)"/>
<rect x="242.6" y="342.2" width="1.3" height="1.3" fill="rgb(52,61,107)"/>
<rect x="244.6" y="342.1" width="1.3" height="1.3" fill="rgb(56,68,120)"/>
<rect x="263.4" y="338.1" width="1.3" height="1.3" fill="rgb(56,70,124)"/>
<rect x="265.0" y="342.3" width="1.3" height="1.3" fill="rgb(50,56,97)"/>
<rect x="265.9" y="340.3" width="1.3" height="1.3" fill="rgb(55,67,118)"/>
<rect x="227.1" y="341.9" width="1.3" height="1.3" fill="rgb(56,68,120)"/>
<rect x="257.9" y="340.6" width="1.3" height="1.3" fill="rgb(53,62,109)"/>
<rect x="231.9" y="340.6" width="1.3" height="1.3" fill="rgb(51,59,103)"/>
<rect x="239.2" y="341.0" width="1.3" height="1.3" fill="rgb(54,65,114)"/>
<rect x="232.4" y="342.1" width="1.3" height="1.3" fill="rgb(50,56,97)"/>
<rect x="271.1" y="342.4" width="1.3" height="1.3" fill="rgb(51,58,100)"/>
<rect x="224.2" y="341.8" width="1.3" height="1.3" fill="rgb(49,55,96)"/>
<rect x="271.4" y="342.5" width="1.3" height="1.3" fill="rgb(54,65,115)"/>
<rect x="231.1" y="341.7" width="1.3" height="1.3" fill="rgb(56,71,126)"/>
<rect x="254.8" y="342.1" width="1.3" height="1.3" fill="rgb(55,66,116)"/>
<rect x="228.3" y="339.7" width="1.3" height="1.3" fill="rgb(50,56,97)"/>
<rect x="233.2" y="341.2" width="1.3" height="1.3" fill="rgb(49,55,96)"/>
<rect x="246.6" y="340.3" width="1.3" height="1.3" fill="rgb(54,65,114)"/>
<rect x="246.0" y="339.3" width="1.3" height="1.3" fill="rgb(53,63,110)"/>
<rect x="255.8" y="338.6" width="1.3" height="1.3" fill="rgb(56,68,120)"/>
<rect x="263.2" y="340.6" width="1.3" height="1.3" fill="rgb(51,58,101)"/>
<rect x="234.9" y="337.5" width="1.3" height="1.3" fill="rgb(53,63,111)"/>
<rect x="294.3" y="339.2" width="1.3" height="1.3" fill="rgb(52,61,106)"/>
<rect x="293.4" y="340.6" width="1.3" height="1.3" fill="rgb(55,67,119)"/>
<rect x="252.7" y="342.5" width="1.3" height="1.3" fill="rgb(54,65,114)"/>
<rect x="265.0" y="340.1" width="1.3" height="1.3" fill="rgb(54,65,115)"/>
<rect x="262.1" y="337.9" width="1.3" height="1.3" fill="rgb(53,63,111)"/>
<rect x="239.0" y="341.5" width="1.3" height="1.3" fill="rgb(56,72,129)"/>
<rect x="275.1" y="341.2" width="1.3" height="1.3" fill="rgb(55,67,118)"/>
<rect x="245.4" y="341.1" width="1.3" height="1.3" fill="rgb(50,56,97)"/>
<rect x="239.5" y="341.8" width="1.3" height="1.3" fill="rgb(53,63,111)"/>
<rect x="234.9" y="340.5" width="1.3" height="1.3" fill="rgb(50,57,99)"/>
<rect x="256.1" y="342.2" width="1.3" height="1.3" fill="rgb(54,64,112)"/>
<rect x="269.7" y="342.1" width="1.3" height="1.3" fill="rgb(51,58,101)"/>
<rect x="280.4" y="339.2" width="1.3" height="1.3" fill="rgb(53,63,111)"/>
<rect x="253.4" y="340.9" width="1.3" height="1.3" fill="rgb(50,57,99)"/>
<rect x="225.0" y="340.1" width="1.3" height="1.3" fill="rgb(54,65,114)"/>
<rect x="229.9" y="338.7" width="1.3" height="1.3" fill="rgb(54,65,115)"/>
<rect x="223.5" y="340.1" width="1.3" height="1.3" fill="rgb(52,61,106)"/>
<rect x="248.0" y="342.5" width="1.3" height="1.3" fill="rgb(53,63,111)"/>
<rect x="231.2" y="342.5" width="1.3" height="1.3" fill="rgb(56,68,121)"/>
<rect x="272.4" y="340.4" width="1.3" height="1.3" fill="rgb(55,66,117)"/>
<rect x="235.1" y="335.2" width="1.3" height="1.3" fill="rgb(52,61,106)"/>
<rect x="225.0" y="342.5" width="1.3" height="1.3" fill="rgb(54,65,115)"/>
<rect x="259.6" y="341.1" width="1.3" height="1.3" fill="rgb(56,72,129)"/>
<rect x="230.4" y="341.0" width="1.3" height="1.3" fill="rgb(55,66,117)"/>
<rect x="236.9" y="340.1" width="1.3" height="1.3" fill="rgb(50,56,97)"/>
<rect x="264.1" y="339.4" width="1.3" height="1.3" fill="rgb(53,63,110)"/>
<rect x="253.8" y="342.1" width="1.3" height="1.3" fill="rgb(54,65,114)"/>
<rect x="263.1" y="340.5" width="1.3" height="1.3" fill="rgb(56,69,123)"/>
<rect x="223.1" y="340.3" width="1.3" height="1.3" fill="rgb(51,59,102)"/>
<rect x="234.2" y="338.5" width="1.3" height="1.3" fill="rgb(56,71,126)"/>
<rect x="242.6" y="338.2" width="1.3" height="1.3" fill="rgb(56,70,124)"/>
<rect x="247.2" y="341.7" width="1.3" height="1.3" fill="rgb(54,65,114)"/>
<rect x="259.6" y="339.0" width="1.3" height="1.3" fill="rgb(51,59,103)"/>
<rect x="233.9" y="340.8" width="1.3" height="1.3" fill="rgb(51,58,101)"/>
<rect x="232.9" y="339.9" width="1.3" height="1.3" fill="rgb(55,66,117)"/>
<rect x="232.7" y="339.0" width="1.3" height="1.3" fill="rgb(52,60,105)"/>
<rect x="241.1" y="340.8" width="1.3" height="1.3" fill="rgb(51,58,101)"/>
<rect x="229.9" y="342.0" width="1.3" height="1.3" fill="rgb(55,66,116)"/>
<rect x="237.0" y="342.0" width="1.3" height="1.3" fill="rgb(56,69,123)"/>
<rect x="226.6" y="342.2" width="1.3" height="1.3" fill="rgb(55,66,117)"/>
<rect x="251.7" y="341.2" width="1.3" height="1.3" fill="rgb(53,63,110)"/>
<rect x="253.1" y="342.1" width="1.3" height="1.3" fill="rgb(54,65,114)"/>
<rect x="243.0" y="340.9" width="1.3" height="1.3" fill="rgb(52,60,105)"/>
<rect x="224.3" y="339.2" width="1.3" height="1.3" fill="rgb(53,62,109)"/>
<rect x="245.6" y="342.5" width="1.3" height="1.3" fill="rgb(55,67,119)"/>
<rect x="268.6" y="342.2" width="1.3" height="1.3" fill="rgb(53,62,108)"/>
<rect x="230.5" y="339.5" width="1.3" height="1.3" fill="rgb(54,64,113)"/>
<rect x="254.7" y="341.2" width="1.3" height="1.3" fill="rgb(50,57,100)"/>
<rect x="231.5" y="340.6" width="1.3" height="1.3" fill="rgb(52,60,104)"/>
<rect x="225.0" y="341.9" width="1.3" height="1.3" fill="rgb(51,58,100)"/>
<rect x="248.9" y="339.9" width="1.3" height="1.3" fill="rgb(56,69,122)"/>
<rect x="225.7" y="341.5" width="1.3" height="1.3" fill="rgb(53,63,111)"/>
<rect x="247.3" y="341.0" width="1.3" height="1.3" fill="rgb(55,67,118)"/>
<rect x="237.3" y="339.1" width="1.3" height="1.3" fill="rgb(53,63,111)"/>
<rect x="243.5" y="341.7" width="1.3" height="1.3" fill="rgb(54,64,113)"/>
<rect x="240.7" y="341.7" width="1.3" height="1.3" fill="rgb(54,64,112)"/>
<rect x="239.0" y="340.0" width="1.3" height="1.3" fill="rgb(54,65,115)"/>
<rect x="250.1" y="342.5" width="1.3" height="1.3" fill="rgb(52,60,104)"/>
<rect x="248.7" y="341.5" width="1.3" height="1.3" fill="rgb(55,67,119)"/>
<rect x="259.7" y="342.0" width="1.3" height="1.3" fill="rgb(56,70,124)"/>
<rect x="228.5" y="339.5" width="1.3" height="1.3" fill="rgb(51,58,100)"/>
<rect x="234.6" y="342.2" width="1.3" height="1.3" fill="rgb(56,71,127)"/>
<rect x="231.3" y="338.9" width="1.3" height="1.3" fill="rgb(53,63,111)"/>
<rect x="237.9" y="340.8" width="1.3" height="1.3" fill="rgb(54,65,115)"/>
<rect x="240.6" y="340.7" width="1.3" height="1.3" fill="rgb(56,68,120)"/>
<rect x="247.8" y="342.0" width="1.3" height="1.3" fill="rgb(50,56,98)"/>
<rect x="248.7" y="338.8" width="1.3" height="1.3" fill="rgb(55,67,118)"/>
<rect x="239.2" y="341.0" width="1.3" height="1.3" fill="rgb(50,56,98)"/>
<rect x="241.1" y="340.4" width="1.3" height="1.3" fill="rgb(51,58,102)"/>
<rect x="268.1" y="339.2" width="1.3" height="1.3" fill="rgb(53,62,108)"/>
<rect x="239.2" y="339.5" width="1.3" height="1.3" fill="rgb(53,62,109)"/>
<rect x="251.5" y="341.9" width="1.3" height="1.3" fill="rgb(51,58,101)"/>
<rect x="250.2" y="342.6" width="1.3" height="1.3" fill="rgb(52,60,104)"/>
<rect x="250.4" y="337.7" width="1.3" height="1.3" fill="rgb(53,62,108)"/>
<rect x="225.4" y="342.1" width="1.3" height="1.3" fill="rgb(51,58,101)"/>
<rect x="242.6" y="341.0" width="1.3" height="1.3" fill="rgb(54,65,115)"/>
<rect x="228.5" y="339.2" width="1.3" height="1.3" fill="rgb(53,62,108)"/>
<rect x="281.5" y="332.5" width="1.3" height="1.3" fill="rgb(54,65,114)"/>
<rect x="238.0" y="331.6" width="1.3" height="1.3" fill="rgb(57,79,142)"/>
<rect x="276.5" y="333.2" width="1.3" height="1.3" fill="rgb(54,64,112)"/>
<rect x="299.4" y="328.1" width="1.3" height="1.3" fill="rgb(52,60,104)"/>
<rect x="275.2" y="329.1" width="1.3" height="1.3" fill="rgb(56,73,131)"/>
<rect x="308.3" y="327.6" width="1.3" height="1.3" fill="rgb(53,62,108)"/>
<rect x="312.4" y="335.3" width="1.3" height="1.3" fill="rgb(54,65,114)"/>
<rect x="309.8" y="337.5" width="1.3" height="1.3" fill="rgb(54,65,115)"/>
<rect x="269.5" y="336.1" width="1.3" height="1.3" fill="rgb(53,62,109)"/>
<rect x="288.0" y="331.3" width="1.3" height="1.3" fill="rgb(57,76,136)"/>
<rect x="287.5" y="327.7" width="1.3" height="1.3" fill="rgb(58,82,146)"/>
<rect x="291.4" y="326.2" width="1.3" height="1.3" fill="rgb(55,67,119)"/>
<rect x="277.6" y="332.7" width="1.3" height="1.3" fill="rgb(58,87,151)"/>
<rect x="272.6" y="333.9" width="1.3" height="1.3" fill="rgb(56,73,131)"/>
<rect x="239.1" y="338.1" width="1.3" height="1.3" fill="rgb(54,65,114)"/>
<rect x="228.4" y="339.8" width="1.3" height="1.3" fill="rgb(51,58,102)"/>
<rect x="252.7" y="329.2" width="1.3" height="1.3" fill="rgb(50,57,100)"/>
<rect x="270.7" y="338.3" width="1.3" height="1.3" fill="rgb(56,68,120)"/>
<rect x="239.2" y="333.7" width="1.3" height="1.3" fill="rgb(57,75,134)"/>
<rect x="249.0" y="334.4" width="1.3" height="1.3" fill="rgb(57,75,135)"/>
<rect x="227.3" y="335.0" width="1.3" height="1.3" fill="rgb(57,74,133)"/>
<rect x="292.7" y="326.2" width="1.3" height="1.3" fill="rgb(53,62,109)"/>
<rect x="269.5" y="335.5" width="1.3" height="1.3" fill="rgb(57,74,133)"/>
<rect x="294.0" y="338.0" width="1.3" height="1.3" fill="rgb(54,64,113)"/>
<rect x="304.9" y="335.0" width="1.3" height="1.3" fill="rgb(56,72,128)"/>
<rect x="290.8" y="336.0" width="1.3" height="1.3" fill="rgb(57,77,139)"/>
<rect x="222.9" y="335.1" width="1.3" height="1.3" fill="rgb(52,60,105)"/>
<rect x="243.2" y="336.9" width="1.3" height="1.3" fill="rgb(50,57,99)"/>
<rect x="289.0" y="337.4" width="1.3" height="1.3" fill="rgb(56,70,124)"/>
<rect x="262.2" y="328.0" width="1.3" height="1.3" fill="rgb(57,79,143)"/>
<rect x="269.1" y="337.5" width="1.3" height="1.3" fill="rgb(57,76,137)"/>
<rect x="226.3" y="326.9" width="1.3" height="1.3" fill="rgb(53,63,111)"/>
<rect x="236.0" y="336.8" width="1.3" height="1.3" fill="rgb(54,65,115)"/>
<rect x="287.7" y="328.0" width="1.3" height="1.3" fill="rgb(57,76,136)"/>
<rect x="280.7" y="336.5" width="1.3" height="1.3" fill="rgb(53,63,111)"/>
<rect x="239.9" y="333.8" width="1.3" height="1.3" fill="rgb(58,81,145)"/>
<rect x="312.3" y="338.7" width="1.3" height="1.3" fill="rgb(58,87,151)"/>
<rect x="302.7" y="333.4" width="1.3" height="1.3" fill="rgb(57,74,132)"/>
<rect x="286.9" y="337.3" width="1.3" height="1.3" fill="rgb(56,71,127)"/>
<rect x="310.5" y="327.6" width="1.3" height="1.3" fill="rgb(58,83,147)"/>
<rect x="225.7" y="329.9" width="1.3" height="1.3" fill="rgb(55,67,119)"/>
<rect x="301.6" y="337.5" width="1.3" height="1.3" fill="rgb(56,69,123)"/>
<rect x="227.5" y="328.7" width="1.3" height="1.3" fill="rgb(57,75,134)"/>
<rect x="223.5" y="335.6" width="1.3" height="1.3" fill="rgb(51,59,103)"/>
<rect x="270.5" y="331.1" width="1.3" height="1.3" fill="rgb(51,58,100)"/>
<rect x="306.7" y="326.4" width="1.3" height="1.3" fill="rgb(55,66,117)"/>
<rect x="264.2" y="334.8" width="1.3" height="1.3" fill="rgb(56,71,127)"/>
<rect x="247.7" y="333.7" width="1.3" height="1.3" fill="rgb(57,76,136)"/>
<rect x="231.4" y="335.7" width="1.3" height="1.3" fill="rgb(57,76,137)"/>
<rect x="234.0" y="338.9" width="1.3" height="1.3" fill="rgb(58,83,147)"/>
<rect x="229.7" y="334.1" width="1.3" height="1.3" fill="rgb(53,63,111)"/>
<rect x="236.6" y="335.0" width="1.3" height="1.3" fill="rgb(56,69,122)"/>
<rect x="227.3" y="332.4" width="1.3" height="1.3" fill="rgb(50,57,100)"/>
<rect x="225.4" y="337.0" width="1.3" height="1.3" fill="rgb(53,62,108)"/>
<rect x="242.8" y="335.8" width="1.3" height="1.3" fill="rgb(57,79,142)"/>
<rect x="272.9" y="333.3" width="1.3" height="1.3" fill="rgb(57,77,138)"/>
<rect x="275.9" y="335.5" width="1.3" height="1.3" fill="rgb(56,71,127)"/>
<rect x="282.5" y="332.4" width="1.3" height="1.3" fill="rgb(57,76,136)"/>
<rect x="270.2" y="326.9" width="1.3" height="1.3" fill="rgb(53,62,109)"/>
<rect x="274.4" y="326.3" width="1.3" height="1.3" fill="rgb(56,68,121)"/>
<rect x="301.1" y="338.5" width="1.3" height="1.3" fill="rgb(57,75,135)"/>
<rect x="236.9" y="329.4" width="1.3" height="1.3" fill="rgb(55,66,116)"/>
<rect x="260.3" y="336.4" width="1.3" height="1.3" fill="rgb(53,62,109)"/>
<rect x="296.3" y="330.9" width="1.3" height="1.3" fill="rgb(56,72,128)"/>
<rect x="227.2" y="335.8" width="1.3" height="1.3" fill="rgb(58,87,151)"/>
<rect x="232.5" y="332.4" width="1.3" height="1.3" fill="rgb(57,74,133)"/>
<rect x="257.9" y="332.1" width="1.3" height="1.3" fill="rgb(58,87,151)"/>
<rect x="286.5" y="336.6" width="1.3" height="1.3" fill="rgb(55,66,116)"/>
<rect x="249.5" y="330.3" width="1.3" height="1.3" fill="rgb(56,73,131)"/>
<rect x="236.6" y="330.2" width="1.3" height="1.3" fill="rgb(55,66,116)"/>
<rect x="223.1" y="335.8" width="1.3" height="1.3" fill="rgb(54,65,114)"/>
<rect x="232.1" y="330.5" width="1.3" height="1.3" fill="rgb(58,89,153)"/>
<rect x="304.3" y="331.1" width="1.3" height="1.3" fill="rgb(58,80,144)"/>
<rect x="256.1" y="331.7" width="1.3" height="1.3" fill="rgb(58,82,146)"/>
<rect x="224.6" y="334.8" width="1.3" height="1.3" fill="rgb(54,65,114)"/>
<rect x="242.8" y="333.9" width="1.3" height="1.3" fill="rgb(51,58,100)"/>
<rect x="275.2" y="326.5" width="1.3" height="1.3" fill="rgb(53,62,108)"/>
<rect x="231.4" y="335.2" width="1.3" height="1.3" fill="rgb(57,77,139)"/>
<rect x="234.1" y="329.1" width="1.3" height="1.3" fill="rgb(52,60,105)"/>
<rect x="266.3" y="329.8" width="1.3" height="1.3" fill="rgb(56,73,131)"/>
<rect x="225.7" y="326.5" width="1.3" height="1.3" fill="rgb(57,79,143)"/>
<rect x="255.1" y="327.9" width="1.3" height="1.3" fill="rgb(56,71,126)"/>
<rect x="230.3" y="334.3" width="1.3" height="1.3" fill="rgb(57,78,141)"/>
<rect x="253.5" y="339.3" width="1.3" height="1.3" fill="rgb(52,60,105)"/>
<rect x="231.4" y="331.7" width="1.3" height="1.3" fill="rgb(56,72,129)"/>
<rect x="227.5" y="301.7" width="1.3" height="1.3" fill="rgb(58,89,153)"/>
<rect x="224.4" y="308.5" width="1.3" height="1.3" fill="rgb(56,73,130)"/>
<rect x="225.9" y="321.4" width="1.3" height="1.3" fill="rgb(58,88,152)"/>
<rect x="223.1" y="321.4" width="1.3" height="1.3" fill="rgb(58,96,160)"/>
<rect x="226.3" y="305.6" width="1.3" height="1.3" fill="rgb(63,117,178)"/>
<rect x="227.8" y="322.1" width="1.3" height="1.3" fill="rgb(81,168,195)"/>
<rect x="229.4" y="301.4" width="1.3" height="1.3" fill="rgb(68,130,189)"/>
<rect x="227.5" y="318.3" width="1.3" height="1.3" fill="rgb(58,92,156)"/>
<rect x="227.1" y="321.7" width="1.3" height="1.3" fill="rgb(58,98,162)"/>
<rect x="222.9" y="308.8" width="1.3" height="1.3" fill="rgb(91,168,165)"/>
<rect x="223.6" y="305.5" width="1.3" height="1.3" fill="rgb(58,101,165)"/>
<rect x="232.8" y="309.1" width="1.3" height="1.3" fill="rgb(53,63,110)"/>
<rect x="224.9" y="317.9" width="1.3" height="1.3" fill="rgb(62,116,177)"/>
<rect x="230.1" y="317.8" width="1.3" height="1.3" fill="rgb(89,168,172)"/>
<rect x="230.4" y="302.6" width="1.3" height="1.3" fill="rgb(87,168,178)"/>
<rect x="226.6" y="315.2" width="1.3" height="1.3" fill="rgb(58,89,153)"/>
<rect x="232.7" y="319.7" width="1.3" height="1.3" fill="rgb(58,92,156)"/>
<rect x="226.3" y="305.8" width="1.3" height="1.3" fill="rgb(84,168,185)"/>
<rect x="341.4" y="340.9" width="1.3" height="1.3" fill="rgb(53,63,110)"/>
<rect x="359.4" y="335.3" width="1.3" height="1.3" fill="rgb(53,63,110)"/>
<rect x="381.2" y="335.9" width="1.3" height="1.3" fill="rgb(53,63,110)"/>
<rect x="379.9" y="341.3" width="1.3" height="1.3" fill="rgb(53,63,110)"/>
<rect x="386.4" y="341.7" width="1.3" height="1.3" fill="rgb(53,63,110)"/>
<rect x="392.1" y="340.0" width="1.3" height="1.3" fill="rgb(53,63,110)"/>
<rect x="399.2" y="334.7" width="1.3" height="1.3" fill="rgb(53,63,110)"/>
<rect x="475.4" y="330.4" width="1.3" height="1.3" fill="rgb(53,63,110)"/>
<rect x="233.1" y="202.9" width="1.3" height="1.3" fill="rgb(168,184,80)"/>
<rect x="228.0" y="221.0" width="1.3" height="1.3" fill="rgb(119,47,46)"/>
<rect x="256.6" y="266.0" width="1.3" height="1.3" fill="rgb(232,208,48)"/>
<rect x="246.9" y="267.9" width="1.3" height="1.3" fill="rgb(78,163,200)"/>
<rect x="265.3" y="270.2" width="1.3" height="1.3" fill="rgb(77,158,200)"/>
<rect x="230.9" y="274.9" width="1.3" height="1.3" fill="rgb(57,75,134)"/>
<rect x="233.1" y="283.7" width="1.3" height="1.3" fill="rgb(195,89,48)"/>
<rect x="244.7" y="282.3" width="1.3" height="1.3" fill="rgb(74,144,200)"/>
<rect x="260.8" y="280.9" width="1.3" height="1.3" fill="rgb(229,197,48)"/>
<rect x="275.9" y="283.2" width="1.3" height="1.3" fill="rgb(135,171,99)"/>
<rect x="314.4" y="277.2" width="1.3" height="1.3" fill="rgb(190,76,49)"/>
<rect x="245.0" y="294.8" width="1.3" height="1.3" fill="rgb(232,208,48)"/>
<rect x="273.6" y="298.1" width="1.3" height="1.3" fill="rgb(56,72,129)"/>
<rect x="223.8" y="285.1" width="1.3" height="1.3" fill="rgb(70,136,193)"/>
<rect x="225.4" y="288.8" width="1.3" height="1.3" fill="rgb(77,158,200)"/>
<rect x="223.8" y="296.2" width="1.3" height="1.3" fill="rgb(217,156,48)"/>
<rect x="223.5" y="300.9" width="1.3" height="1.3" fill="rgb(224,176,48)"/>
<rect x="226.7" y="291.6" width="1.3" height="1.3" fill="rgb(128,168,104)"/>
<rect x="224.5" y="307.4" width="1.3" height="1.3" fill="rgb(220,166,48)"/>
<rect x="226.1" y="309.2" width="1.3" height="1.3" fill="rgb(96,168,152)"/>
<rect x="229.3" y="308.8" width="1.3" height="1.3" fill="rgb(128,168,104)"/>
<rect x="233.5" y="307.8" width="1.3" height="1.3" fill="rgb(80,168,200)"/>
<rect x="237.3" y="305.5" width="1.3" height="1.3" fill="rgb(57,75,134)"/>
<rect x="240.5" y="306.4" width="1.3" height="1.3" fill="rgb(57,77,139)"/>
<rect x="223.8" y="324.1" width="1.3" height="1.3" fill="rgb(222,204,52)"/>
<rect x="266.2" y="319.4" width="1.3" height="1.3" fill="rgb(211,137,48)"/>
<rect x="250.2" y="322.2" width="1.3" height="1.3" fill="rgb(56,70,124)"/>
<rect x="291.9" y="327.8" width="1.3" height="1.3" fill="rgb(74,144,200)"/>
<rect x="293.5" y="328.7" width="1.3" height="1.3" fill="rgb(77,158,200)"/>
<rect x="308.0" y="328.3" width="1.3" height="1.3" fill="rgb(57,75,134)"/>
<rect x="224.5" y="317.6" width="1.3" height="1.3" fill="rgb(76,153,200)"/>
<rect x="230.9" y="321.3" width="1.3" height="1.3" fill="rgb(57,75,134)"/>
<rect x="455.4" y="198.6" width="22.4" height="21.4" rx="1" fill="#fff" stroke="#d4d4d4" stroke-width="0.5"/>
<circle cx="457.6" cy="203.8" r="0.45" fill="#2a3a8a"/>
<text x="458.60" y="205.20" font-size="4.8" text-anchor="start" fill="#333" textLength="17.2" lengthAdjust="spacingAndGlyphs">mouse1</text>
<circle cx="457.6" cy="210.70000000000002" r="0.45" fill="#2a3a8a"/>
<text x="458.60" y="212.10" font-size="4.8" text-anchor="start" fill="#333" textLength="17.2" lengthAdjust="spacingAndGlyphs">mouse2</text>
<circle cx="457.6" cy="217.6" r="0.45" fill="#2a3a8a"/>
<text x="458.60" y="219.00" font-size="4.8" text-anchor="start" fill="#333" textLength="17.2" lengthAdjust="spacingAndGlyphs">mouse3</text>
<defs><linearGradient id="cb" x1="0" y1="1" x2="0" y2="0">
<stop offset="0.000" stop-color="rgb(48,52,90)"/>
<stop offset="0.050" stop-color="rgb(51,58,101)"/>
<stop offset="0.100" stop-color="rgb(54,65,114)"/>
<stop offset="0.150" stop-color="rgb(56,73,131)"/>
<stop offset="0.200" stop-color="rgb(58,86,150)"/>
<stop offset="0.250" stop-color="rgb(59,107,171)"/>
<stop offset="0.300" stop-color="rgb(72,140,197)"/>
<stop offset="0.350" stop-color="rgb(78,161,200)"/>
<stop offset="0.400" stop-color="rgb(88,168,173)"/>
<stop offset="0.450" stop-color="rgb(108,168,133)"/>
<stop offset="0.500" stop-color="rgb(135,171,99)"/>
<stop offset="0.550" stop-color="rgb(168,184,79)"/>
<stop offset="0.600" stop-color="rgb(206,198,60)"/>
<stop offset="0.650" stop-color="rgb(228,194,48)"/>
<stop offset="0.700" stop-color="rgb(216,152,48)"/>
<stop offset="0.750" stop-color="rgb(203,113,48)"/>
<stop offset="0.800" stop-color="rgb(191,78,48)"/>
<stop offset="0.850" stop-color="rgb(184,64,55)"/>
<stop offset="0.900" stop-color="rgb(165,57,56)"/>
<stop offset="0.950" stop-color="rgb(131,50,49)"/>
<stop offset="1.000" stop-color="rgb(90,42,40)"/>
</linearGradient></defs>
<rect x="485.1" y="194.3" width="5.8" height="149.2" fill="url(#cb)" stroke="#555" stroke-width="0.4"/>
<text x="494.30" y="337.20" font-size="7.3" text-anchor="start" fill="#231f20" >1</text>
<text x="494.30" y="318.94" font-size="7.3" text-anchor="start" fill="#231f20" >2</text>
<text x="494.30" y="300.68" font-size="7.3" text-anchor="start" fill="#231f20" >3</text>
<text x="494.30" y="282.42" font-size="7.3" text-anchor="start" fill="#231f20" >4</text>
<text x="494.30" y="264.16" font-size="7.3" text-anchor="start" fill="#231f20" >5</text>
<text x="494.30" y="245.90" font-size="7.3" text-anchor="start" fill="#231f20" >6</text>
<text x="494.30" y="227.64" font-size="7.3" text-anchor="start" fill="#231f20" >7</text>
<text x="494.30" y="209.38" font-size="7.3" text-anchor="start" fill="#231f20" >8</text>
<text transform="translate(510.8 265.5) rotate(-90)" font-size="9.3" text-anchor="middle" fill="#231f20" textLength="77.7" lengthAdjust="spacingAndGlyphs">Mean speed (µm/min)</text>
<circle cx="10.90" cy="403.70" r="3.55" fill="#3f5f8f"/>
<circle cx="10.90" cy="403.70" r="3.55" fill="none" stroke="#161616" stroke-width="1.0"/>
<circle cx="20.48" cy="403.70" r="3.55" fill="#3f5f8f"/>
<path d="M20.48 400.15A3.55 3.55 0 0 1 20.48 407.25Z" fill="#c23a4c"/>
<circle cx="20.48" cy="403.70" r="3.55" fill="none" stroke="#161616" stroke-width="1.0"/>
<circle cx="30.06" cy="403.70" r="3.55" fill="#c23a4c"/>
<path d="M30.06 400.15A3.55 3.55 0 0 1 30.06 407.25Z" fill="#78b456"/>
<circle cx="30.06" cy="403.70" r="3.55" fill="none" stroke="#161616" stroke-width="1.0"/>
<circle cx="39.64" cy="403.70" r="3.55" fill="#78b456"/>
<path d="M39.64 400.15A3.55 3.55 0 0 1 39.64 407.25Z" fill="#6a3e7c"/>
<circle cx="39.64" cy="403.70" r="3.55" fill="none" stroke="#161616" stroke-width="1.0"/>
<circle cx="49.22" cy="403.70" r="3.55" fill="#6a3e7c"/>
<circle cx="49.22" cy="403.70" r="3.55" fill="none" stroke="#161616" stroke-width="1.0"/>
<circle cx="58.80" cy="403.70" r="3.55" fill="#6a3e7c"/>
<circle cx="58.80" cy="403.70" r="3.55" fill="none" stroke="#161616" stroke-width="1.0"/>
<circle cx="68.38" cy="403.70" r="3.55" fill="#1c1c1c"/>
<path d="M68.38 400.15A3.55 3.55 0 0 1 68.38 407.25Z" fill="#b8803e"/>
<circle cx="68.38" cy="403.70" r="3.55" fill="none" stroke="#161616" stroke-width="1.0"/>
<circle cx="77.96" cy="403.70" r="3.55" fill="#b8803e"/>
<circle cx="77.96" cy="403.70" r="3.55" fill="none" stroke="#161616" stroke-width="1.0"/>
<circle cx="87.54" cy="403.70" r="3.55" fill="#b8803e"/>
<circle cx="87.54" cy="403.70" r="3.55" fill="none" stroke="#161616" stroke-width="1.0"/>
<circle cx="97.12" cy="403.70" r="3.55" fill="#b8803e"/>
<circle cx="97.12" cy="403.70" r="3.55" fill="none" stroke="#161616" stroke-width="1.0"/>
<circle cx="10.90" cy="413.30" r="3.55" fill="#b8803e"/>
<circle cx="10.90" cy="413.30" r="3.55" fill="none" stroke="#161616" stroke-width="1.0"/>
<circle cx="20.48" cy="413.30" r="3.55" fill="#b8803e"/>
<circle cx="20.48" cy="413.30" r="3.55" fill="none" stroke="#161616" stroke-width="1.0"/>
<circle cx="30.06" cy="413.30" r="3.55" fill="#b8803e"/>
<circle cx="30.06" cy="413.30" r="3.55" fill="none" stroke="#161616" stroke-width="1.0"/>
<circle cx="39.64" cy="413.30" r="3.55" fill="#b8803e"/>
<circle cx="39.64" cy="413.30" r="3.55" fill="none" stroke="#161616" stroke-width="1.0"/>
<circle cx="49.22" cy="413.30" r="3.55" fill="#b8803e"/>
<circle cx="49.22" cy="413.30" r="3.55" fill="none" stroke="#161616" stroke-width="1.0"/>
<circle cx="58.80" cy="413.30" r="3.55" fill="#b8803e"/>
<circle cx="58.80" cy="413.30" r="3.55" fill="none" stroke="#161616" stroke-width="1.0"/>
<circle cx="68.38" cy="413.30" r="3.55" fill="#b8803e"/>
<circle cx="68.38" cy="413.30" r="3.55" fill="none" stroke="#161616" stroke-width="1.0"/>
<circle cx="77.96" cy="413.30" r="3.55" fill="#b8803e"/>
<circle cx="77.96" cy="413.30" r="3.55" fill="none" stroke="#161616" stroke-width="1.0"/>
<circle cx="87.54" cy="413.30" r="3.55" fill="#b8803e"/>
<circle cx="87.54" cy="413.30" r="3.55" fill="none" stroke="#161616" stroke-width="1.0"/>
<circle cx="97.12" cy="413.30" r="3.55" fill="#b8803e"/>
<circle cx="97.12" cy="413.30" r="3.55" fill="none" stroke="#161616" stroke-width="1.0"/>
<circle cx="10.90" cy="422.90" r="3.55" fill="#b8803e"/>
<circle cx="10.90" cy="422.90" r="3.55" fill="none" stroke="#161616" stroke-width="1.0"/>
<circle cx="20.48" cy="422.90" r="3.55" fill="#b8803e"/>
<circle cx="20.48" cy="422.90" r="3.55" fill="none" stroke="#161616" stroke-width="1.0"/>
<circle cx="30.06" cy="422.90" r="3.55" fill="#b8803e"/>
<circle cx="30.06" cy="422.90" r="3.55" fill="none" stroke="#161616" stroke-width="1.0"/>
<circle cx="39.64" cy="422.90" r="3.55" fill="#b8803e"/>
<path d="M39.64 419.35A3.55 3.55 0 0 1 39.64 426.45Z" fill="#70b2e2"/>
<circle cx="39.64" cy="422.90" r="3.55" fill="none" stroke="#161616" stroke-width="1.0"/>
<circle cx="49.22" cy="422.90" r="3.55" fill="#70b2e2"/>
<circle cx="49.22" cy="422.90" r="3.55" fill="none" stroke="#161616" stroke-width="1.0"/>
<circle cx="58.80" cy="422.90" r="3.55" fill="#70b2e2"/>
<path d="M58.80 419.35A3.55 3.55 0 0 1 58.80 426.45Z" fill="#f2c23a"/>
<circle cx="58.80" cy="422.90" r="3.55" fill="none" stroke="#161616" stroke-width="1.0"/>
<circle cx="68.38" cy="422.90" r="3.55" fill="#f2c23a"/>
<path d="M68.38 419.35A3.55 3.55 0 0 1 68.38 426.45Z" fill="#3f7a5f"/>
<circle cx="68.38" cy="422.90" r="3.55" fill="none" stroke="#161616" stroke-width="1.0"/>
<circle cx="77.96" cy="422.90" r="3.55" fill="#3f7a5f"/>
<circle cx="77.96" cy="422.90" r="3.55" fill="none" stroke="#161616" stroke-width="1.0"/>
<circle cx="87.54" cy="422.90" r="3.55" fill="#3f7a5f"/>
<circle cx="87.54" cy="422.90" r="3.55" fill="none" stroke="#161616" stroke-width="1.0"/>
<circle cx="97.12" cy="422.90" r="3.55" fill="#3f7a5f"/>
<circle cx="97.12" cy="422.90" r="3.55" fill="none" stroke="#161616" stroke-width="1.0"/>
<circle cx="10.90" cy="432.50" r="3.55" fill="#3f7a5f"/>
<circle cx="10.90" cy="432.50" r="3.55" fill="none" stroke="#161616" stroke-width="1.0"/>
<circle cx="20.48" cy="432.50" r="3.55" fill="#3f7a5f"/>
<circle cx="20.48" cy="432.50" r="3.55" fill="none" stroke="#161616" stroke-width="1.0"/>
<circle cx="30.06" cy="432.50" r="3.55" fill="#3f7a5f"/>
<circle cx="30.06" cy="432.50" r="3.55" fill="none" stroke="#161616" stroke-width="1.0"/>
<circle cx="39.64" cy="432.50" r="3.55" fill="#3f7a5f"/>
<circle cx="39.64" cy="432.50" r="3.55" fill="none" stroke="#161616" stroke-width="1.0"/>
<circle cx="49.22" cy="432.50" r="3.55" fill="#3f7a5f"/>
<circle cx="49.22" cy="432.50" r="3.55" fill="none" stroke="#161616" stroke-width="1.0"/>
<circle cx="58.80" cy="432.50" r="3.55" fill="#3f7a5f"/>
<circle cx="58.80" cy="432.50" r="3.55" fill="none" stroke="#161616" stroke-width="1.0"/>
<circle cx="68.38" cy="432.50" r="3.55" fill="#3f7a5f"/>
<circle cx="68.38" cy="432.50" r="3.55" fill="none" stroke="#161616" stroke-width="1.0"/>
<circle cx="77.96" cy="432.50" r="3.55" fill="#3f7a5f"/>
<circle cx="77.96" cy="432.50" r="3.55" fill="none" stroke="#161616" stroke-width="1.0"/>
<circle cx="87.54" cy="432.50" r="3.55" fill="#3f7a5f"/>
<circle cx="87.54" cy="432.50" r="3.55" fill="none" stroke="#161616" stroke-width="1.0"/>
<circle cx="97.12" cy="432.50" r="3.55" fill="#3f7a5f"/>
<circle cx="97.12" cy="432.50" r="3.55" fill="none" stroke="#161616" stroke-width="1.0"/>
<circle cx="10.90" cy="442.10" r="3.55" fill="#3f7a5f"/>
<circle cx="10.90" cy="442.10" r="3.55" fill="none" stroke="#161616" stroke-width="1.0"/>
<circle cx="20.48" cy="442.10" r="3.55" fill="#3f7a5f"/>
<circle cx="20.48" cy="442.10" r="3.55" fill="none" stroke="#161616" stroke-width="1.0"/>
<circle cx="30.06" cy="442.10" r="3.55" fill="#3f7a5f"/>
<circle cx="30.06" cy="442.10" r="3.55" fill="none" stroke="#161616" stroke-width="1.0"/>
<circle cx="39.64" cy="442.10" r="3.55" fill="#3f7a5f"/>
<circle cx="39.64" cy="442.10" r="3.55" fill="none" stroke="#161616" stroke-width="1.0"/>
<circle cx="49.22" cy="442.10" r="3.55" fill="#3f7a5f"/>
<circle cx="49.22" cy="442.10" r="3.55" fill="none" stroke="#161616" stroke-width="1.0"/>
<circle cx="58.80" cy="442.10" r="3.55" fill="#3f7a5f"/>
<circle cx="58.80" cy="442.10" r="3.55" fill="none" stroke="#161616" stroke-width="1.0"/>
<circle cx="68.38" cy="442.10" r="3.55" fill="#3f7a5f"/>
<circle cx="68.38" cy="442.10" r="3.55" fill="none" stroke="#161616" stroke-width="1.0"/>
<circle cx="77.96" cy="442.10" r="3.55" fill="#3f7a5f"/>
<circle cx="77.96" cy="442.10" r="3.55" fill="none" stroke="#161616" stroke-width="1.0"/>
<circle cx="87.54" cy="442.10" r="3.55" fill="#3f7a5f"/>
<circle cx="87.54" cy="442.10" r="3.55" fill="none" stroke="#161616" stroke-width="1.0"/>
<circle cx="97.12" cy="442.10" r="3.55" fill="#3f7a5f"/>
<circle cx="97.12" cy="442.10" r="3.55" fill="none" stroke="#161616" stroke-width="1.0"/>
<circle cx="10.90" cy="451.70" r="3.55" fill="#3f7a5f"/>
<circle cx="10.90" cy="451.70" r="3.55" fill="none" stroke="#161616" stroke-width="1.0"/>
<circle cx="20.48" cy="451.70" r="3.55" fill="#3f7a5f"/>
<circle cx="20.48" cy="451.70" r="3.55" fill="none" stroke="#161616" stroke-width="1.0"/>
<circle cx="30.06" cy="451.70" r="3.55" fill="#3f7a5f"/>
<circle cx="30.06" cy="451.70" r="3.55" fill="none" stroke="#161616" stroke-width="1.0"/>
<circle cx="39.64" cy="451.70" r="3.55" fill="#3f7a5f"/>
<circle cx="39.64" cy="451.70" r="3.55" fill="none" stroke="#161616" stroke-width="1.0"/>
<circle cx="49.22" cy="451.70" r="3.55" fill="#3f7a5f"/>
<circle cx="49.22" cy="451.70" r="3.55" fill="none" stroke="#161616" stroke-width="1.0"/>
<circle cx="58.80" cy="451.70" r="3.55" fill="#3f7a5f"/>
<circle cx="58.80" cy="451.70" r="3.55" fill="none" stroke="#161616" stroke-width="1.0"/>
<circle cx="68.38" cy="451.70" r="3.55" fill="#3f7a5f"/>
<circle cx="68.38" cy="451.70" r="3.55" fill="none" stroke="#161616" stroke-width="1.0"/>
<circle cx="77.96" cy="451.70" r="3.55" fill="#3f7a5f"/>
<circle cx="77.96" cy="451.70" r="3.55" fill="none" stroke="#161616" stroke-width="1.0"/>
<circle cx="87.54" cy="451.70" r="3.55" fill="#3f7a5f"/>
<circle cx="87.54" cy="451.70" r="3.55" fill="none" stroke="#161616" stroke-width="1.0"/>
<circle cx="97.12" cy="451.70" r="3.55" fill="#3f7a5f"/>
<circle cx="97.12" cy="451.70" r="3.55" fill="none" stroke="#161616" stroke-width="1.0"/>
<circle cx="10.90" cy="461.30" r="3.55" fill="#3f7a5f"/>
<circle cx="10.90" cy="461.30" r="3.55" fill="none" stroke="#161616" stroke-width="1.0"/>
<circle cx="20.48" cy="461.30" r="3.55" fill="#3f7a5f"/>
<circle cx="20.48" cy="461.30" r="3.55" fill="none" stroke="#161616" stroke-width="1.0"/>
<circle cx="30.06" cy="461.30" r="3.55" fill="#3f7a5f"/>
<circle cx="30.06" cy="461.30" r="3.55" fill="none" stroke="#161616" stroke-width="1.0"/>
<circle cx="39.64" cy="461.30" r="3.55" fill="#3f7a5f"/>
<circle cx="39.64" cy="461.30" r="3.55" fill="none" stroke="#161616" stroke-width="1.0"/>
<circle cx="49.22" cy="461.30" r="3.55" fill="#3f7a5f"/>
<circle cx="49.22" cy="461.30" r="3.55" fill="none" stroke="#161616" stroke-width="1.0"/>
<circle cx="58.80" cy="461.30" r="3.55" fill="#3f7a5f"/>
<circle cx="58.80" cy="461.30" r="3.55" fill="none" stroke="#161616" stroke-width="1.0"/>
<circle cx="68.38" cy="461.30" r="3.55" fill="#3f7a5f"/>
<circle cx="68.38" cy="461.30" r="3.55" fill="none" stroke="#161616" stroke-width="1.0"/>
<circle cx="77.96" cy="461.30" r="3.55" fill="#3f7a5f"/>
<circle cx="77.96" cy="461.30" r="3.55" fill="none" stroke="#161616" stroke-width="1.0"/>
<circle cx="87.54" cy="461.30" r="3.55" fill="#3f7a5f"/>
<circle cx="87.54" cy="461.30" r="3.55" fill="none" stroke="#161616" stroke-width="1.0"/>
<circle cx="97.12" cy="461.30" r="3.55" fill="#3f7a5f"/>
<circle cx="97.12" cy="461.30" r="3.55" fill="none" stroke="#161616" stroke-width="1.0"/>
<circle cx="10.90" cy="470.90" r="3.55" fill="#3f7a5f"/>
<circle cx="10.90" cy="470.90" r="3.55" fill="none" stroke="#161616" stroke-width="1.0"/>
<circle cx="20.48" cy="470.90" r="3.55" fill="#3f7a5f"/>
<path d="M20.48 467.35A3.55 3.55 0 0 1 20.48 474.45Z" fill="#e8a33c"/>
<circle cx="20.48" cy="470.90" r="3.55" fill="none" stroke="#161616" stroke-width="1.0"/>
<circle cx="30.06" cy="470.90" r="3.55" fill="#e8a33c"/>
<circle cx="30.06" cy="470.90" r="3.55" fill="none" stroke="#161616" stroke-width="1.0"/>
<circle cx="39.64" cy="470.90" r="3.55" fill="#e8a33c"/>
<circle cx="39.64" cy="470.90" r="3.55" fill="none" stroke="#161616" stroke-width="1.0"/>
<circle cx="49.22" cy="470.90" r="3.55" fill="#e8a33c"/>
<circle cx="49.22" cy="470.90" r="3.55" fill="none" stroke="#161616" stroke-width="1.0"/>
<circle cx="58.80" cy="470.90" r="3.55" fill="#e8a33c"/>
<circle cx="58.80" cy="470.90" r="3.55" fill="none" stroke="#161616" stroke-width="1.0"/>
<circle cx="68.38" cy="470.90" r="3.55" fill="#e8a33c"/>
<circle cx="68.38" cy="470.90" r="3.55" fill="none" stroke="#161616" stroke-width="1.0"/>
<circle cx="77.96" cy="470.90" r="3.55" fill="#e8a33c"/>
<circle cx="77.96" cy="470.90" r="3.55" fill="none" stroke="#161616" stroke-width="1.0"/>
<circle cx="87.54" cy="470.90" r="3.55" fill="#e8a33c"/>
<circle cx="87.54" cy="470.90" r="3.55" fill="none" stroke="#161616" stroke-width="1.0"/>
<circle cx="97.12" cy="470.90" r="3.55" fill="#e8a33c"/>
<circle cx="97.12" cy="470.90" r="3.55" fill="none" stroke="#161616" stroke-width="1.0"/>
<circle cx="10.90" cy="480.50" r="3.55" fill="#e8a33c"/>
<circle cx="10.90" cy="480.50" r="3.55" fill="none" stroke="#161616" stroke-width="1.0"/>
<circle cx="20.48" cy="480.50" r="3.55" fill="#e8a33c"/>
<circle cx="20.48" cy="480.50" r="3.55" fill="none" stroke="#161616" stroke-width="1.0"/>
<circle cx="30.06" cy="480.50" r="3.55" fill="#e8a33c"/>
<circle cx="30.06" cy="480.50" r="3.55" fill="none" stroke="#161616" stroke-width="1.0"/>
<circle cx="39.64" cy="480.50" r="3.55" fill="#e8a33c"/>
<circle cx="39.64" cy="480.50" r="3.55" fill="none" stroke="#161616" stroke-width="1.0"/>
<circle cx="49.22" cy="480.50" r="3.55" fill="#e8a33c"/>
<circle cx="49.22" cy="480.50" r="3.55" fill="none" stroke="#161616" stroke-width="1.0"/>
<circle cx="58.80" cy="480.50" r="3.55" fill="#e8a33c"/>
<circle cx="58.80" cy="480.50" r="3.55" fill="none" stroke="#161616" stroke-width="1.0"/>
<circle cx="68.38" cy="480.50" r="3.55" fill="#e8a33c"/>
<circle cx="68.38" cy="480.50" r="3.55" fill="none" stroke="#161616" stroke-width="1.0"/>
<circle cx="77.96" cy="480.50" r="3.55" fill="#e8a33c"/>
<circle cx="77.96" cy="480.50" r="3.55" fill="none" stroke="#161616" stroke-width="1.0"/>
<circle cx="87.54" cy="480.50" r="3.55" fill="#e8a33c"/>
<circle cx="87.54" cy="480.50" r="3.55" fill="none" stroke="#161616" stroke-width="1.0"/>
<circle cx="97.12" cy="480.50" r="3.55" fill="#e8a33c"/>
<circle cx="97.12" cy="480.50" r="3.55" fill="none" stroke="#161616" stroke-width="1.0"/>
<circle cx="10.90" cy="490.10" r="3.55" fill="#e8a33c"/>
<circle cx="10.90" cy="490.10" r="3.55" fill="none" stroke="#161616" stroke-width="1.0"/>
<circle cx="20.48" cy="490.10" r="3.55" fill="#e8a33c"/>
<circle cx="20.48" cy="490.10" r="3.55" fill="none" stroke="#161616" stroke-width="1.0"/>
<circle cx="30.06" cy="490.10" r="3.55" fill="#e8a33c"/>
<circle cx="30.06" cy="490.10" r="3.55" fill="none" stroke="#161616" stroke-width="1.0"/>
<circle cx="39.64" cy="490.10" r="3.55" fill="#e8a33c"/>
<circle cx="39.64" cy="490.10" r="3.55" fill="none" stroke="#161616" stroke-width="1.0"/>
<circle cx="49.22" cy="490.10" r="3.55" fill="#e8a33c"/>
<circle cx="49.22" cy="490.10" r="3.55" fill="none" stroke="#161616" stroke-width="1.0"/>
<circle cx="58.80" cy="490.10" r="3.55" fill="#e8a33c"/>
<circle cx="58.80" cy="490.10" r="3.55" fill="none" stroke="#161616" stroke-width="1.0"/>
<circle cx="68.38" cy="490.10" r="3.55" fill="#e8a33c"/>
<circle cx="68.38" cy="490.10" r="3.55" fill="none" stroke="#161616" stroke-width="1.0"/>
<circle cx="77.96" cy="490.10" r="3.55" fill="#e8a33c"/>
<circle cx="77.96" cy="490.10" r="3.55" fill="none" stroke="#161616" stroke-width="1.0"/>
<circle cx="87.54" cy="490.10" r="3.55" fill="#e8a33c"/>
<circle cx="87.54" cy="490.10" r="3.55" fill="none" stroke="#161616" stroke-width="1.0"/>
<circle cx="97.12" cy="490.10" r="3.55" fill="#e8a33c"/>
<circle cx="97.12" cy="490.10" r="3.55" fill="none" stroke="#161616" stroke-width="1.0"/>
<rect x="109.4" y="401.10" width="8.4" height="5.2" fill="#3f5f8f" stroke="#1a1a1a" stroke-width="0.85"/>
<text x="120.90" y="406.00" font-size="7.7" text-anchor="start" fill="#231f20" textLength="71.1" lengthAdjust="spacingAndGlyphs" stroke="#231f20" stroke-width="0.12">enter and stable&gt;10’</text>
<rect x="109.4" y="410.70" width="8.4" height="5.2" fill="#c23a4c" stroke="#1a1a1a" stroke-width="0.85"/>
<text x="120.90" y="415.60" font-size="7.7" text-anchor="start" fill="#231f20" textLength="82.8" lengthAdjust="spacingAndGlyphs" stroke="#231f20" stroke-width="0.12">leave after stable contact</text>
<rect x="109.4" y="420.30" width="8.4" height="5.2" fill="#78b456" stroke="#1a1a1a" stroke-width="0.85"/>
<text x="120.90" y="425.20" font-size="7.7" text-anchor="start" fill="#231f20" textLength="51.1" lengthAdjust="spacingAndGlyphs" stroke="#231f20" stroke-width="0.12">enter and leave</text>
<rect x="109.4" y="429.90" width="8.4" height="5.2" fill="#6a3e7c" stroke="#1a1a1a" stroke-width="0.85"/>
<text x="120.90" y="434.80" font-size="7.7" text-anchor="start" fill="#231f20" textLength="86.5" lengthAdjust="spacingAndGlyphs" stroke="#231f20" stroke-width="0.12">enter and wander (motile)</text>
<rect x="109.4" y="439.50" width="8.4" height="5.2" fill="#1c1c1c" stroke="#1a1a1a" stroke-width="0.85"/>
<text x="120.90" y="444.40" font-size="7.7" text-anchor="start" fill="#231f20" textLength="136.3" lengthAdjust="spacingAndGlyphs" stroke="#231f20" stroke-width="0.12">leave after wandering (in volume initially)</text>
<rect x="109.4" y="449.10" width="8.4" height="5.2" fill="#70b2e2" stroke="#1a1a1a" stroke-width="0.85"/>
<text x="120.90" y="454.00" font-size="7.7" text-anchor="start" fill="#231f20" textLength="114.2" lengthAdjust="spacingAndGlyphs" stroke="#231f20" stroke-width="0.12">enter and contact with black space</text>
<rect x="109.4" y="458.70" width="8.4" height="5.2" fill="#f2c23a" stroke="#1a1a1a" stroke-width="0.85"/>
<text x="120.90" y="463.60" font-size="7.7" text-anchor="start" fill="#231f20" textLength="117.3" lengthAdjust="spacingAndGlyphs" stroke="#231f20" stroke-width="0.12">leave after contact with black space</text>
<rect x="109.4" y="468.30" width="8.4" height="5.2" fill="#3f7a5f" stroke="#1a1a1a" stroke-width="0.85"/>
<text x="120.90" y="473.20" font-size="7.7" text-anchor="start" fill="#231f20" textLength="104.0" lengthAdjust="spacingAndGlyphs" stroke="#231f20" stroke-width="0.12">stable in contact stay in volume</text>
<rect x="109.4" y="477.90" width="8.4" height="5.2" fill="#b8803e" stroke="#1a1a1a" stroke-width="0.85"/>
<text x="120.90" y="482.80" font-size="7.7" text-anchor="start" fill="#231f20" textLength="115.1" lengthAdjust="spacingAndGlyphs" stroke="#231f20" stroke-width="0.12">stable in black space stay in volume</text>
<rect x="109.4" y="487.50" width="8.4" height="5.2" fill="#e8a33c" stroke="#1a1a1a" stroke-width="0.85"/>
<text x="120.90" y="492.40" font-size="7.7" text-anchor="start" fill="#231f20" textLength="104.0" lengthAdjust="spacingAndGlyphs" stroke="#231f20" stroke-width="0.12">in volume, not in stable contact</text>
<text x="9.40" y="16.10" font-size="12.0" text-anchor="start" fill="#231f20" >A</text>
<text x="157.20" y="16.10" font-size="12.0" text-anchor="start" fill="#231f20" >B</text>
<text x="9.00" y="184.50" font-size="12.0" text-anchor="start" fill="#231f20" >C</text>
<text x="194.30" y="184.50" font-size="12.0" text-anchor="start" fill="#231f20" >D</text>
<text x="9.60" y="393.80" font-size="12.0" text-anchor="start" fill="#231f20" >E</text>
<rect x="0" y="0" width="520" height="1.3" fill="#4a4a4a"/>
<rect x="0" y="0" width="1.4" height="503" fill="#555"/>
<rect x="518.9" y="0.6" width="1.1" height="503" fill="#111"/>
<rect x="0" y="501.3" width="520" height="1.7" fill="#555"/>
</svg></body></html>
